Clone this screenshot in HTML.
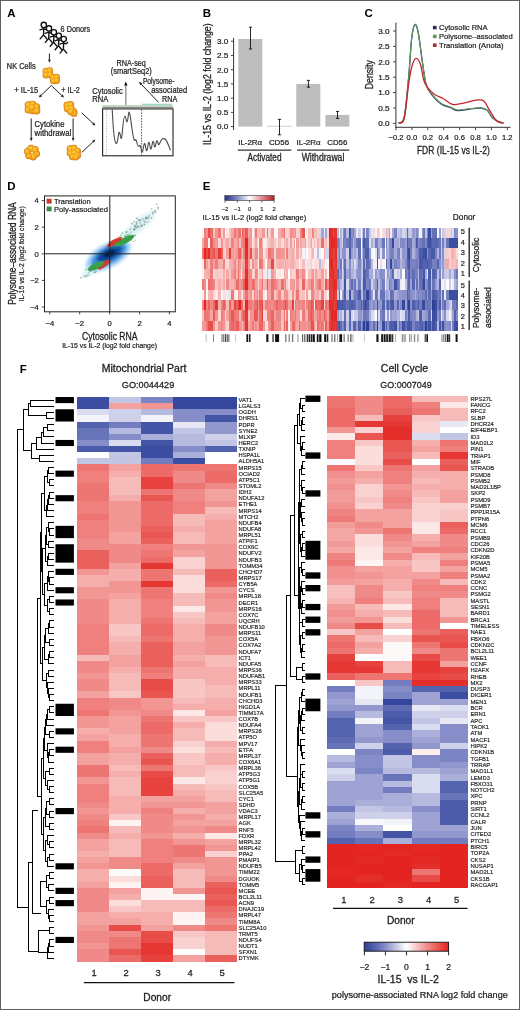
<!DOCTYPE html><html><head><meta charset="utf-8"><title>Figure</title><style>html,body{margin:0;padding:0;background:#fff;}svg{display:block;font-family:"Liberation Sans", sans-serif;will-change:transform;}</style></head><body>
<svg width="520" height="1010" viewBox="0 0 520 1010">
<defs><radialGradient id="cellg" cx="0.45" cy="0.4" r="0.6"><stop offset="0" stop-color="#ffd840"/><stop offset="0.5" stop-color="#f8ae22"/><stop offset="1" stop-color="#e58916"/></radialGradient><linearGradient id="cbar" x1="0" x2="1" y1="0" y2="0"><stop offset="0.000" stop-color="#2c4098"/><stop offset="0.050" stop-color="#3c4ea1"/><stop offset="0.100" stop-color="#4c5caa"/><stop offset="0.150" stop-color="#5e6bb3"/><stop offset="0.200" stop-color="#727cbe"/><stop offset="0.250" stop-color="#868dc8"/><stop offset="0.300" stop-color="#9ea3d3"/><stop offset="0.350" stop-color="#b6bade"/><stop offset="0.400" stop-color="#ced1e9"/><stop offset="0.450" stop-color="#e7e8f4"/><stop offset="0.500" stop-color="#ffffff"/><stop offset="0.550" stop-color="#fce8e7"/><stop offset="0.600" stop-color="#f9d1d0"/><stop offset="0.650" stop-color="#f6bab8"/><stop offset="0.700" stop-color="#f3a2a0"/><stop offset="0.750" stop-color="#f08a88"/><stop offset="0.800" stop-color="#ed7572"/><stop offset="0.850" stop-color="#ea605d"/><stop offset="0.900" stop-color="#e84c48"/><stop offset="0.950" stop-color="#e53834"/><stop offset="1.000" stop-color="#e32420"/></linearGradient><linearGradient id="cbarE" x1="0" x2="1" y1="0" y2="0"><stop offset="0" stop-color="#283088"/><stop offset="0.25" stop-color="#8088c4"/><stop offset="0.5" stop-color="#ffffff"/><stop offset="0.75" stop-color="#e48a8e"/><stop offset="1" stop-color="#b41e2c"/></linearGradient><filter id="blur1" x="-50%" y="-50%" width="200%" height="200%"><feGaussianBlur stdDeviation="1.7"/></filter><filter id="blur2" x="-50%" y="-50%" width="200%" height="200%"><feGaussianBlur stdDeviation="0.7"/></filter><filter id="blur3" x="-50%" y="-50%" width="200%" height="200%"><feGaussianBlur stdDeviation="0.35"/></filter></defs>
<rect x="0" y="0" width="520" height="1010" fill="#fff"/>
<text x="7.20" y="16.80" font-size="11.5" font-weight="bold" fill="#000">A</text>
<g stroke="#111" stroke-width="1.35" fill="none" stroke-linecap="round"><path d="M39.9,29.9 L42.8,28.9 L46.2,29.5 L47.7,28.3"/><path d="M43.8,27.3 L43.5,34.9 L40.1,38.9 M43.5,34.9 L46.8,38.8"/><circle cx="43.8" cy="24.9" r="2.65" fill="#fff"/><path d="M45.1,33.4 L48.0,32.4 L51.4,33.0 L52.9,31.8"/><path d="M49.0,30.8 L48.7,38.4 L45.3,42.4 M48.7,38.4 L52.0,42.3"/><circle cx="49.0" cy="28.4" r="2.65" fill="#fff"/><path d="M50.0,37.2 L52.9,36.2 L56.3,36.8 L57.8,35.6"/><path d="M53.9,34.6 L53.6,42.2 L50.2,46.2 M53.6,42.2 L56.9,46.1"/><circle cx="53.9" cy="32.2" r="2.65" fill="#fff"/><path d="M54.9,40.8 L57.8,39.8 L61.2,40.4 L62.7,39.2"/><path d="M58.8,38.2 L58.5,45.8 L55.1,49.8 M58.5,45.8 L61.8,49.7"/><circle cx="58.8" cy="35.8" r="2.65" fill="#fff"/><path d="M59.8,44.1 L62.7,43.1 L66.1,43.7 L67.6,42.5"/><path d="M63.7,41.5 L63.4,49.1 L60.0,53.1 M63.4,49.1 L66.7,53.0"/><circle cx="63.7" cy="39.1" r="2.65" fill="#fff"/></g>
<text x="60.60" y="31.60" font-size="8.2" stroke="#222" stroke-width="0.23" fill="#222" textLength="29.6" lengthAdjust="spacingAndGlyphs">6 Donors</text>
<line x1="49.40" y1="53.50" x2="49.40" y2="59.60" stroke="#222" stroke-width="1.0"/>
<path d="M49.40,62.80 L47.96,59.60 L50.84,59.60 Z" fill="#222"/>
<text x="6.80" y="69.40" font-size="8.2" stroke="#222" stroke-width="0.23" fill="#222" textLength="28.8" lengthAdjust="spacingAndGlyphs">NK Cells</text>
<g filter="url(#blur3)"><circle cx="46.0" cy="71.2" r="3.45" fill="#cf7a1a"/><circle cx="49.6" cy="70.8" r="3.45" fill="#cf7a1a"/><circle cx="46.0" cy="75.0" r="3.45" fill="#cf7a1a"/><circle cx="50.0" cy="74.8" r="3.45" fill="#cf7a1a"/><circle cx="53.0" cy="77.6" r="3.45" fill="#cf7a1a"/><circle cx="56.4" cy="77.2" r="3.45" fill="#cf7a1a"/><circle cx="53.4" cy="80.8" r="3.45" fill="#cf7a1a"/><circle cx="56.6" cy="80.6" r="3.45" fill="#cf7a1a"/><circle cx="46.0" cy="71.2" r="3.00" fill="url(#cellg)"/><circle cx="49.6" cy="70.8" r="3.00" fill="url(#cellg)"/><circle cx="46.0" cy="75.0" r="3.00" fill="url(#cellg)"/><circle cx="50.0" cy="74.8" r="3.00" fill="url(#cellg)"/><circle cx="53.0" cy="77.6" r="3.00" fill="url(#cellg)"/><circle cx="56.4" cy="77.2" r="3.00" fill="url(#cellg)"/><circle cx="53.4" cy="80.8" r="3.00" fill="url(#cellg)"/><circle cx="56.6" cy="80.6" r="3.00" fill="url(#cellg)"/></g>
<line x1="51.30" y1="85.50" x2="41.10" y2="95.37" stroke="#222" stroke-width="1.0"/>
<path d="M38.80,97.60 L40.10,94.34 L42.10,96.41 Z" fill="#222"/>
<line x1="51.30" y1="85.50" x2="61.68" y2="95.39" stroke="#222" stroke-width="1.0"/>
<path d="M64.00,97.60 L60.69,96.44 L62.68,94.35 Z" fill="#222"/>
<text x="14.30" y="92.80" font-size="8.2" stroke="#222" stroke-width="0.23" fill="#222" textLength="23.8" lengthAdjust="spacingAndGlyphs">+ IL-15</text>
<text x="61.20" y="92.80" font-size="8.2" stroke="#222" stroke-width="0.23" fill="#222" textLength="18.6" lengthAdjust="spacingAndGlyphs">+ IL-2</text>
<g filter="url(#blur3)"><circle cx="28.4" cy="105.0" r="3.75" fill="#cf7a1a"/><circle cx="32.6" cy="104.4" r="3.75" fill="#cf7a1a"/><circle cx="36.4" cy="107.0" r="3.75" fill="#cf7a1a"/><circle cx="28.4" cy="109.8" r="3.75" fill="#cf7a1a"/><circle cx="32.6" cy="110.4" r="3.75" fill="#cf7a1a"/><circle cx="36.6" cy="110.8" r="3.75" fill="#cf7a1a"/><circle cx="31.8" cy="107.4" r="3.75" fill="#cf7a1a"/><circle cx="28.4" cy="105.0" r="3.30" fill="url(#cellg)"/><circle cx="32.6" cy="104.4" r="3.30" fill="url(#cellg)"/><circle cx="36.4" cy="107.0" r="3.30" fill="url(#cellg)"/><circle cx="28.4" cy="109.8" r="3.30" fill="url(#cellg)"/><circle cx="32.6" cy="110.4" r="3.30" fill="url(#cellg)"/><circle cx="36.6" cy="110.8" r="3.30" fill="url(#cellg)"/><circle cx="31.8" cy="107.4" r="3.30" fill="url(#cellg)"/></g>
<g filter="url(#blur3)"><circle cx="67.2" cy="105.2" r="3.65" fill="#cf7a1a"/><circle cx="70.6" cy="104.6" r="3.65" fill="#cf7a1a"/><circle cx="67.4" cy="108.6" r="3.65" fill="#cf7a1a"/><circle cx="71.0" cy="108.4" r="3.65" fill="#cf7a1a"/><circle cx="73.6" cy="111.6" r="3.65" fill="#cf7a1a"/><circle cx="73.8" cy="113.2" r="3.65" fill="#cf7a1a"/><circle cx="70.8" cy="111.6" r="3.65" fill="#cf7a1a"/><circle cx="67.2" cy="105.2" r="3.20" fill="url(#cellg)"/><circle cx="70.6" cy="104.6" r="3.20" fill="url(#cellg)"/><circle cx="67.4" cy="108.6" r="3.20" fill="url(#cellg)"/><circle cx="71.0" cy="108.4" r="3.20" fill="url(#cellg)"/><circle cx="73.6" cy="111.6" r="3.20" fill="url(#cellg)"/><circle cx="73.8" cy="113.2" r="3.20" fill="url(#cellg)"/><circle cx="70.8" cy="111.6" r="3.20" fill="url(#cellg)"/></g>
<line x1="31.20" y1="118.50" x2="31.20" y2="138.00" stroke="#222" stroke-width="1.0"/>
<path d="M31.20,141.20 L29.76,138.00 L32.64,138.00 Z" fill="#222"/>
<line x1="73.10" y1="118.50" x2="73.10" y2="138.00" stroke="#222" stroke-width="1.0"/>
<path d="M73.10,141.20 L71.66,138.00 L74.54,138.00 Z" fill="#222"/>
<text x="34.60" y="127.00" font-size="8.2" stroke="#222" stroke-width="0.23" fill="#222" textLength="29.8" lengthAdjust="spacingAndGlyphs">Cytokine</text>
<text x="34.60" y="135.50" font-size="8.2" stroke="#222" stroke-width="0.23" fill="#222" textLength="36.6" lengthAdjust="spacingAndGlyphs">withdrawal</text>
<g filter="url(#blur3)"><circle cx="36.3" cy="153.7" r="3.65" fill="#cf7a1a"/><circle cx="33.1" cy="156.8" r="3.65" fill="#cf7a1a"/><circle cx="28.9" cy="155.6" r="3.65" fill="#cf7a1a"/><circle cx="27.7" cy="151.5" r="3.65" fill="#cf7a1a"/><circle cx="30.9" cy="148.4" r="3.65" fill="#cf7a1a"/><circle cx="35.1" cy="149.6" r="3.65" fill="#cf7a1a"/><circle cx="36.3" cy="153.7" r="3.20" fill="url(#cellg)"/><circle cx="33.1" cy="156.8" r="3.20" fill="url(#cellg)"/><circle cx="28.9" cy="155.6" r="3.20" fill="url(#cellg)"/><circle cx="27.7" cy="151.5" r="3.20" fill="url(#cellg)"/><circle cx="30.9" cy="148.4" r="3.20" fill="url(#cellg)"/><circle cx="35.1" cy="149.6" r="3.20" fill="url(#cellg)"/><circle cx="32.0" cy="152.6" r="1.0" fill="#fff2b0"/></g>
<g filter="url(#blur3)"><circle cx="70.2" cy="148.8" r="3.55" fill="#cf7a1a"/><circle cx="74.0" cy="148.4" r="3.55" fill="#cf7a1a"/><circle cx="77.4" cy="151.2" r="3.55" fill="#cf7a1a"/><circle cx="70.2" cy="153.0" r="3.55" fill="#cf7a1a"/><circle cx="74.2" cy="152.8" r="3.55" fill="#cf7a1a"/><circle cx="77.4" cy="155.4" r="3.55" fill="#cf7a1a"/><circle cx="72.6" cy="156.8" r="3.55" fill="#cf7a1a"/><circle cx="75.6" cy="157.0" r="3.55" fill="#cf7a1a"/><circle cx="70.2" cy="148.8" r="3.10" fill="url(#cellg)"/><circle cx="74.0" cy="148.4" r="3.10" fill="url(#cellg)"/><circle cx="77.4" cy="151.2" r="3.10" fill="url(#cellg)"/><circle cx="70.2" cy="153.0" r="3.10" fill="url(#cellg)"/><circle cx="74.2" cy="152.8" r="3.10" fill="url(#cellg)"/><circle cx="77.4" cy="155.4" r="3.10" fill="url(#cellg)"/><circle cx="72.6" cy="156.8" r="3.10" fill="url(#cellg)"/><circle cx="75.6" cy="157.0" r="3.10" fill="url(#cellg)"/></g>
<line x1="81.80" y1="112.90" x2="93.06" y2="123.42" stroke="#222" stroke-width="1.0"/>
<path d="M95.40,125.60 L92.08,124.47 L94.04,122.36 Z" fill="#222"/>
<line x1="81.80" y1="152.40" x2="93.07" y2="141.79" stroke="#222" stroke-width="1.0"/>
<path d="M95.40,139.60 L94.06,142.84 L92.08,140.74 Z" fill="#222"/>
<text x="131.20" y="65.60" font-size="8.2" stroke="#222" stroke-width="0.23" text-anchor="middle" fill="#222" textLength="29.4" lengthAdjust="spacingAndGlyphs">RNA-seq</text>
<text x="131.30" y="74.30" font-size="8.2" stroke="#222" stroke-width="0.23" text-anchor="middle" fill="#222" textLength="41.0" lengthAdjust="spacingAndGlyphs">(smartSeq2)</text>
<text x="92.30" y="93.50" font-size="8.2" stroke="#222" stroke-width="0.23" fill="#222" textLength="30.4" lengthAdjust="spacingAndGlyphs">Cytosolic</text>
<text x="92.30" y="101.70" font-size="8.2" stroke="#222" stroke-width="0.23" fill="#222" textLength="16.0" lengthAdjust="spacingAndGlyphs">RNA</text>
<text x="142.90" y="84.00" font-size="8.2" stroke="#222" stroke-width="0.23" fill="#222" textLength="31.7" lengthAdjust="spacingAndGlyphs">Polysome-</text>
<text x="151.20" y="93.00" font-size="8.2" stroke="#222" stroke-width="0.23" fill="#222" textLength="35.9" lengthAdjust="spacingAndGlyphs">associated</text>
<text x="162.10" y="101.70" font-size="8.2" stroke="#222" stroke-width="0.23" fill="#222" textLength="15.4" lengthAdjust="spacingAndGlyphs">RNA</text>
<line x1="125.80" y1="105.50" x2="125.80" y2="84.50" stroke="#9a9a9a" stroke-width="1.5"/>
<path d="M125.8,81.4 L127.5,85.6 L124.1,85.6 Z" fill="#111"/>
<line x1="158.60" y1="102.40" x2="141.34" y2="84.26" stroke="#222" stroke-width="1.0"/>
<path d="M139.00,81.80 L142.45,83.21 L140.24,85.32 Z" fill="#222"/>
<line x1="102.40" y1="105.80" x2="173.20" y2="105.80" stroke="#aecfa2" stroke-width="1.3"/>
<line x1="141.60" y1="104.40" x2="171.80" y2="104.40" stroke="#a0d8d8" stroke-width="1.4"/>
<rect x="102.6" y="108.9" width="70.4" height="46.9" fill="none" stroke="#222" stroke-width="1.1"/>
<line x1="102.40" y1="107.30" x2="173.20" y2="107.30" stroke="#8a8a8a" stroke-width="1.3"/>
<line x1="106.40" y1="110.00" x2="106.40" y2="155.00" stroke="#999" stroke-width="0.8" stroke-dasharray="1,1.6"/>
<line x1="141.60" y1="109.50" x2="141.60" y2="155.50" stroke="#333" stroke-width="0.8" stroke-dasharray="1.6,1.2"/>
<path d="M112.2,109.3 C112.8,120 113.6,141 115.9,143.2 C118,144.8 118.2,132 119.2,132.4 C120.4,132.6 120.6,139.2 121.4,138.4 C122.6,137 122.8,116.2 124.9,116.2 C126.2,116.2 126.2,122.2 127.0,121.8 C128.2,121.2 128.2,111.6 129.2,112.2 C130.6,113 131.8,133 134.0,139.5 C135.0,142.4 135.6,137.6 136.4,140.8 C137.4,144.6 138.0,146.6 138.8,146.4 C139.6,146.2 140.0,143.4 140.8,147.6 C141.4,151 141.8,152.6 142.4,151.8 C143.4,150.4 143.8,142.6 144.8,143.6 C145.8,144.8 145.8,151.4 146.8,150.6 C147.8,149.8 148.0,141.6 149.0,142.4 C150.0,143.2 150.0,149.6 151.0,149.0 C152.0,148.4 152.2,140.8 153.2,141.4 C154.2,142.0 154.0,147.4 155.0,146.8 C156.0,146.2 156.0,140.4 157.0,140.8 C158.0,141.2 158.0,145.4 159.0,144.6 C160.0,143.8 160.6,139.6 162.6,138.8 C164.4,138.2 165.2,138.6 166.4,140.6 C168.0,143.4 169.4,147.6 170.4,150.2" fill="none" stroke="#4a4a4a" stroke-width="1.1"/>
<text x="202.80" y="16.90" font-size="11.5" font-weight="bold" fill="#000">B</text>
<rect x="238.30" y="38.97" width="24.00" height="87.63" fill="#bdbdbd"/>
<line x1="267.00" y1="126.30" x2="291.50" y2="126.30" stroke="#c4c4c4" stroke-width="0.8"/>
<rect x="296.30" y="83.92" width="24.00" height="42.67" fill="#bdbdbd"/>
<rect x="325.40" y="114.94" width="24.00" height="11.66" fill="#bdbdbd"/>
<line x1="250.50" y1="27.20" x2="250.50" y2="49.00" stroke="#111" stroke-width="0.9"/>
<line x1="248.90" y1="27.20" x2="252.10" y2="27.20" stroke="#111" stroke-width="0.9"/>
<line x1="248.90" y1="49.00" x2="252.10" y2="49.00" stroke="#111" stroke-width="0.9"/>
<line x1="279.50" y1="119.40" x2="279.50" y2="134.80" stroke="#111" stroke-width="0.9"/>
<line x1="277.90" y1="119.40" x2="281.10" y2="119.40" stroke="#111" stroke-width="0.9"/>
<line x1="277.90" y1="134.80" x2="281.10" y2="134.80" stroke="#111" stroke-width="0.9"/>
<line x1="308.40" y1="80.40" x2="308.40" y2="87.20" stroke="#111" stroke-width="0.9"/>
<line x1="306.80" y1="80.40" x2="310.00" y2="80.40" stroke="#111" stroke-width="0.9"/>
<line x1="306.80" y1="87.20" x2="310.00" y2="87.20" stroke="#111" stroke-width="0.9"/>
<line x1="337.50" y1="111.40" x2="337.50" y2="118.40" stroke="#111" stroke-width="0.9"/>
<line x1="335.90" y1="111.40" x2="339.10" y2="111.40" stroke="#111" stroke-width="0.9"/>
<line x1="335.90" y1="118.40" x2="339.10" y2="118.40" stroke="#111" stroke-width="0.9"/>
<line x1="233.60" y1="37.80" x2="233.60" y2="130.00" stroke="#333" stroke-width="1.0"/>
<line x1="230.90" y1="126.60" x2="233.60" y2="126.60" stroke="#333" stroke-width="0.9"/>
<text x="228.30" y="129.40" font-size="7.8" stroke="#222" stroke-width="0.218" text-anchor="end" fill="#222" textLength="11.4" lengthAdjust="spacingAndGlyphs">0.0</text>
<line x1="230.90" y1="112.38" x2="233.60" y2="112.38" stroke="#333" stroke-width="0.9"/>
<text x="228.30" y="115.17" font-size="7.8" stroke="#222" stroke-width="0.218" text-anchor="end" fill="#222" textLength="11.4" lengthAdjust="spacingAndGlyphs">0.5</text>
<line x1="230.90" y1="98.15" x2="233.60" y2="98.15" stroke="#333" stroke-width="0.9"/>
<text x="228.30" y="100.95" font-size="7.8" stroke="#222" stroke-width="0.218" text-anchor="end" fill="#222" textLength="11.4" lengthAdjust="spacingAndGlyphs">1.0</text>
<line x1="230.90" y1="83.92" x2="233.60" y2="83.92" stroke="#333" stroke-width="0.9"/>
<text x="228.30" y="86.72" font-size="7.8" stroke="#222" stroke-width="0.218" text-anchor="end" fill="#222" textLength="11.4" lengthAdjust="spacingAndGlyphs">1.5</text>
<line x1="230.90" y1="69.70" x2="233.60" y2="69.70" stroke="#333" stroke-width="0.9"/>
<text x="228.30" y="72.50" font-size="7.8" stroke="#222" stroke-width="0.218" text-anchor="end" fill="#222" textLength="11.4" lengthAdjust="spacingAndGlyphs">2.0</text>
<line x1="230.90" y1="55.47" x2="233.60" y2="55.47" stroke="#333" stroke-width="0.9"/>
<text x="228.30" y="58.27" font-size="7.8" stroke="#222" stroke-width="0.218" text-anchor="end" fill="#222" textLength="11.4" lengthAdjust="spacingAndGlyphs">2.5</text>
<line x1="230.90" y1="41.25" x2="233.60" y2="41.25" stroke="#333" stroke-width="0.9"/>
<text x="228.30" y="44.05" font-size="7.8" stroke="#222" stroke-width="0.218" text-anchor="end" fill="#222" textLength="11.4" lengthAdjust="spacingAndGlyphs">3.0</text>
<text x="210.60" y="84.20" font-size="10.0" stroke="#222" stroke-width="0.28" text-anchor="middle" fill="#222" textLength="121.7" lengthAdjust="spacingAndGlyphs" transform="rotate(-90 210.60 84.20)">IL-15 vs IL-2 (log2 fold change)</text>
<text x="250.20" y="145.00" font-size="7.7" stroke="#222" stroke-width="0.216" text-anchor="middle" fill="#222" textLength="24.0" lengthAdjust="spacingAndGlyphs">IL-2Rα</text>
<text x="279.00" y="145.30" font-size="7.7" stroke="#222" stroke-width="0.216" text-anchor="middle" fill="#222" textLength="20.2" lengthAdjust="spacingAndGlyphs">CD56</text>
<text x="308.60" y="145.00" font-size="7.7" stroke="#222" stroke-width="0.216" text-anchor="middle" fill="#222" textLength="24.0" lengthAdjust="spacingAndGlyphs">IL-2Rα</text>
<text x="337.30" y="145.30" font-size="7.7" stroke="#222" stroke-width="0.216" text-anchor="middle" fill="#222" textLength="20.2" lengthAdjust="spacingAndGlyphs">CD56</text>
<line x1="237.80" y1="150.10" x2="291.40" y2="150.10" stroke="#333" stroke-width="1.1"/>
<line x1="297.00" y1="150.10" x2="349.40" y2="150.10" stroke="#333" stroke-width="1.1"/>
<text x="264.50" y="161.40" font-size="10" stroke="#222" stroke-width="0.28" text-anchor="middle" fill="#222" textLength="34" lengthAdjust="spacingAndGlyphs">Activated</text>
<text x="323.00" y="161.40" font-size="10" stroke="#222" stroke-width="0.28" text-anchor="middle" fill="#222" textLength="42.7" lengthAdjust="spacingAndGlyphs">Withdrawal</text>
<text x="364.60" y="16.80" font-size="11.5" font-weight="bold" fill="#000">C</text>
<line x1="395.90" y1="22.60" x2="395.90" y2="127.80" stroke="#333" stroke-width="1.0"/>
<line x1="395.40" y1="127.30" x2="510.60" y2="127.30" stroke="#333" stroke-width="1.0"/>
<line x1="393.00" y1="123.40" x2="395.90" y2="123.40" stroke="#333" stroke-width="0.9"/>
<text x="389.60" y="126.20" font-size="7.8" stroke="#222" stroke-width="0.218" text-anchor="end" fill="#222" textLength="11.4" lengthAdjust="spacingAndGlyphs">0.0</text>
<line x1="393.00" y1="108.00" x2="395.90" y2="108.00" stroke="#333" stroke-width="0.9"/>
<text x="389.60" y="110.80" font-size="7.8" stroke="#222" stroke-width="0.218" text-anchor="end" fill="#222" textLength="11.4" lengthAdjust="spacingAndGlyphs">0.5</text>
<line x1="393.00" y1="92.60" x2="395.90" y2="92.60" stroke="#333" stroke-width="0.9"/>
<text x="389.60" y="95.40" font-size="7.8" stroke="#222" stroke-width="0.218" text-anchor="end" fill="#222" textLength="11.4" lengthAdjust="spacingAndGlyphs">1.0</text>
<line x1="393.00" y1="77.20" x2="395.90" y2="77.20" stroke="#333" stroke-width="0.9"/>
<text x="389.60" y="80.00" font-size="7.8" stroke="#222" stroke-width="0.218" text-anchor="end" fill="#222" textLength="11.4" lengthAdjust="spacingAndGlyphs">1.5</text>
<line x1="393.00" y1="61.80" x2="395.90" y2="61.80" stroke="#333" stroke-width="0.9"/>
<text x="389.60" y="64.60" font-size="7.8" stroke="#222" stroke-width="0.218" text-anchor="end" fill="#222" textLength="11.4" lengthAdjust="spacingAndGlyphs">2.0</text>
<line x1="393.00" y1="46.40" x2="395.90" y2="46.40" stroke="#333" stroke-width="0.9"/>
<text x="389.60" y="49.20" font-size="7.8" stroke="#222" stroke-width="0.218" text-anchor="end" fill="#222" textLength="11.4" lengthAdjust="spacingAndGlyphs">2.5</text>
<line x1="393.00" y1="31.00" x2="395.90" y2="31.00" stroke="#333" stroke-width="0.9"/>
<text x="389.60" y="33.80" font-size="7.8" stroke="#222" stroke-width="0.218" text-anchor="end" fill="#222" textLength="11.4" lengthAdjust="spacingAndGlyphs">3.0</text>
<line x1="396.00" y1="127.30" x2="396.00" y2="130.20" stroke="#333" stroke-width="0.9"/>
<text x="396.00" y="140.00" font-size="7.6" stroke="#222" stroke-width="0.213" text-anchor="middle" fill="#222">−0.2</text>
<line x1="411.90" y1="127.30" x2="411.90" y2="130.20" stroke="#333" stroke-width="0.9"/>
<text x="411.90" y="140.00" font-size="7.6" stroke="#222" stroke-width="0.213" text-anchor="middle" fill="#222">0.0</text>
<line x1="427.80" y1="127.30" x2="427.80" y2="130.20" stroke="#333" stroke-width="0.9"/>
<text x="427.80" y="140.00" font-size="7.6" stroke="#222" stroke-width="0.213" text-anchor="middle" fill="#222">0.2</text>
<line x1="443.70" y1="127.30" x2="443.70" y2="130.20" stroke="#333" stroke-width="0.9"/>
<text x="443.70" y="140.00" font-size="7.6" stroke="#222" stroke-width="0.213" text-anchor="middle" fill="#222">0.4</text>
<line x1="459.60" y1="127.30" x2="459.60" y2="130.20" stroke="#333" stroke-width="0.9"/>
<text x="459.60" y="140.00" font-size="7.6" stroke="#222" stroke-width="0.213" text-anchor="middle" fill="#222">0.6</text>
<line x1="475.50" y1="127.30" x2="475.50" y2="130.20" stroke="#333" stroke-width="0.9"/>
<text x="475.50" y="140.00" font-size="7.6" stroke="#222" stroke-width="0.213" text-anchor="middle" fill="#222">0.8</text>
<line x1="491.40" y1="127.30" x2="491.40" y2="130.20" stroke="#333" stroke-width="0.9"/>
<text x="491.40" y="140.00" font-size="7.6" stroke="#222" stroke-width="0.213" text-anchor="middle" fill="#222">1.0</text>
<line x1="507.30" y1="127.30" x2="507.30" y2="130.20" stroke="#333" stroke-width="0.9"/>
<text x="507.30" y="140.00" font-size="7.6" stroke="#222" stroke-width="0.213" text-anchor="middle" fill="#222">1.2</text>
<text x="373.50" y="74.70" font-size="10.4" stroke="#222" stroke-width="0.291" text-anchor="middle" fill="#222" textLength="28.9" lengthAdjust="spacingAndGlyphs" transform="rotate(-90 373.50 74.70)">Density</text>
<text x="453.40" y="154.00" font-size="10.2" stroke="#222" stroke-width="0.286" text-anchor="middle" fill="#222" textLength="73" lengthAdjust="spacingAndGlyphs">FDR (IL-15 vs IL-2)</text>
<path d="M398.50,123.00 C399.45,122.03 402.48,125.08 404.20,117.20 C405.92,109.32 407.58,88.57 408.80,75.70 C410.02,62.83 410.53,48.47 411.50,40.00 C412.47,31.53 413.50,26.27 414.60,24.90 C415.70,23.53 416.75,25.25 418.10,31.80 C419.45,38.35 421.35,55.35 422.70,64.20 C424.05,73.05 424.67,79.80 426.20,84.90 C427.73,90.00 429.40,91.62 431.90,94.80 C434.40,97.98 438.12,101.88 441.20,104.00 C444.28,106.12 447.72,106.42 450.40,107.50 C453.08,108.58 454.23,110.20 457.30,110.50 C460.37,110.80 464.95,109.72 468.80,109.30 C472.65,108.88 477.32,107.83 480.40,108.00 C483.48,108.17 485.38,108.77 487.30,110.30 C489.22,111.83 489.98,115.28 491.90,117.20 C493.82,119.12 496.87,120.83 498.80,121.80 C500.73,122.77 502.72,122.80 503.50,123.00" fill="none" stroke="#2b2c6b" stroke-width="1.3"/>
<path d="M398.50,123.00 C399.45,122.03 402.48,125.08 404.20,117.20 C405.92,109.32 407.58,88.57 408.80,75.70 C410.02,62.83 410.53,48.47 411.50,40.00 C412.47,31.53 413.50,26.27 414.60,24.90 C415.70,23.53 416.75,25.25 418.10,31.80 C419.45,38.35 421.35,55.35 422.70,64.20 C424.05,73.05 424.67,79.90 426.20,84.90 C427.73,89.90 429.40,91.12 431.90,94.20 C434.40,97.28 438.12,101.28 441.20,103.40 C444.28,105.52 447.72,105.82 450.40,106.90 C453.08,107.98 454.23,109.60 457.30,109.90 C460.37,110.20 464.95,109.02 468.80,108.70 C472.65,108.38 477.32,107.73 480.40,108.00 C483.48,108.27 485.38,108.77 487.30,110.30 C489.22,111.83 489.98,115.28 491.90,117.20 C493.82,119.12 496.87,120.83 498.80,121.80 C500.73,122.77 502.72,122.80 503.50,123.00" fill="none" stroke="#5d9e5b" stroke-width="1.1"/>
<path d="M398.50,123.00 C399.45,122.25 402.48,125.23 404.20,118.50 C405.92,111.77 407.50,91.35 408.80,82.60 C410.10,73.85 410.83,70.03 412.00,66.00 C413.17,61.97 414.40,58.70 415.80,58.40 C417.20,58.10 419.07,60.55 420.40,64.20 C421.73,67.85 422.65,76.47 423.80,80.30 C424.95,84.13 425.57,84.88 427.30,87.20 C429.03,89.52 431.50,92.27 434.20,94.20 C436.90,96.13 440.42,97.08 443.50,98.80 C446.58,100.52 449.63,103.73 452.70,104.50 C455.77,105.27 459.22,103.85 461.90,103.40 C464.58,102.95 466.10,102.38 468.80,101.80 C471.50,101.22 475.60,100.02 478.10,99.90 C480.60,99.78 481.88,99.37 483.80,101.10 C485.72,102.83 487.48,107.03 489.60,110.30 C491.72,113.57 494.18,118.58 496.50,120.70 C498.82,122.82 502.33,122.62 503.50,123.00" fill="none" stroke="#c3262f" stroke-width="1.3"/>
<rect x="432.90" y="25.85" width="3.70" height="3.50" fill="#2f2a5e"/>
<text x="439.00" y="30.30" font-size="7.6" stroke="#222" stroke-width="0.213" fill="#222" textLength="48.6" lengthAdjust="spacingAndGlyphs">Cytosolic RNA</text>
<rect x="432.90" y="34.65" width="3.70" height="3.50" fill="#5c9a55"/>
<text x="439.00" y="39.10" font-size="7.6" stroke="#222" stroke-width="0.213" fill="#222" textLength="73.7" lengthAdjust="spacingAndGlyphs">Polysome–associated</text>
<rect x="432.90" y="43.45" width="3.70" height="3.50" fill="#a82a2c"/>
<text x="439.00" y="47.90" font-size="7.6" stroke="#222" stroke-width="0.213" fill="#222" textLength="64.6" lengthAdjust="spacingAndGlyphs">Translation (Anota)</text>
<text x="7.20" y="190.20" font-size="11.5" font-weight="bold" fill="#000">D</text>
<g filter="url(#blur1)" opacity="0.8">
<ellipse cx="138" cy="226" rx="22" ry="6" fill="#d4eff3" transform="rotate(-40 138 226)"/>
<ellipse cx="91" cy="270" rx="10" ry="5" fill="#d4eff3" transform="rotate(-35 91 270)"/>
</g>
<rect x="133.16" y="221.10" width="1.50" height="1.50" fill="#90a8ac" opacity="0.7"/>
<rect x="139.41" y="222.18" width="1.50" height="1.50" fill="#90a8ac" opacity="0.7"/>
<rect x="145.48" y="216.52" width="1.50" height="1.50" fill="#6f8a88" opacity="0.7"/>
<rect x="121.54" y="232.51" width="1.50" height="1.50" fill="#5aa872" opacity="0.7"/>
<rect x="155.95" y="203.54" width="1.50" height="1.50" fill="#869aa0" opacity="0.7"/>
<rect x="145.37" y="217.10" width="1.50" height="1.50" fill="#7d9096" opacity="0.7"/>
<rect x="128.51" y="233.70" width="1.50" height="1.50" fill="#5aa872" opacity="0.7"/>
<rect x="144.32" y="221.30" width="1.50" height="1.50" fill="#6f8a88" opacity="0.7"/>
<rect x="138.80" y="219.19" width="1.50" height="1.50" fill="#6f8a88" opacity="0.7"/>
<rect x="131.21" y="222.93" width="1.50" height="1.50" fill="#7d9096" opacity="0.7"/>
<rect x="147.43" y="217.13" width="1.50" height="1.50" fill="#6f8a88" opacity="0.7"/>
<rect x="121.28" y="237.51" width="1.50" height="1.50" fill="#6f8a88" opacity="0.7"/>
<rect x="140.62" y="224.38" width="1.50" height="1.50" fill="#7d9096" opacity="0.7"/>
<rect x="130.10" y="231.46" width="1.50" height="1.50" fill="#90a8ac" opacity="0.7"/>
<rect x="135.68" y="224.07" width="1.50" height="1.50" fill="#6f8a88" opacity="0.7"/>
<rect x="133.89" y="228.36" width="1.50" height="1.50" fill="#4f9e64" opacity="0.7"/>
<rect x="126.27" y="234.13" width="1.50" height="1.50" fill="#5aa872" opacity="0.7"/>
<rect x="125.47" y="231.73" width="1.50" height="1.50" fill="#869aa0" opacity="0.7"/>
<rect x="135.31" y="227.25" width="1.50" height="1.50" fill="#869aa0" opacity="0.7"/>
<rect x="125.73" y="231.06" width="1.50" height="1.50" fill="#4f9e64" opacity="0.7"/>
<rect x="125.39" y="236.54" width="1.50" height="1.50" fill="#4f9e64" opacity="0.7"/>
<rect x="124.49" y="241.20" width="1.50" height="1.50" fill="#6f8a88" opacity="0.7"/>
<rect x="152.06" y="211.73" width="1.50" height="1.50" fill="#869aa0" opacity="0.7"/>
<rect x="143.54" y="223.67" width="1.50" height="1.50" fill="#6f8a88" opacity="0.7"/>
<rect x="147.21" y="221.02" width="1.50" height="1.50" fill="#869aa0" opacity="0.7"/>
<rect x="154.77" y="211.21" width="1.50" height="1.50" fill="#869aa0" opacity="0.7"/>
<rect x="152.33" y="213.24" width="1.50" height="1.50" fill="#869aa0" opacity="0.7"/>
<rect x="145.16" y="218.09" width="1.50" height="1.50" fill="#7d9096" opacity="0.7"/>
<rect x="137.82" y="225.49" width="1.50" height="1.50" fill="#6f8a88" opacity="0.7"/>
<rect x="129.77" y="228.45" width="1.50" height="1.50" fill="#5aa872" opacity="0.7"/>
<rect x="134.20" y="234.34" width="1.50" height="1.50" fill="#869aa0" opacity="0.7"/>
<rect x="137.49" y="219.22" width="1.50" height="1.50" fill="#7d9096" opacity="0.7"/>
<rect x="133.36" y="228.52" width="1.50" height="1.50" fill="#6f8a88" opacity="0.7"/>
<rect x="136.89" y="226.31" width="1.50" height="1.50" fill="#6f8a88" opacity="0.7"/>
<rect x="134.07" y="225.91" width="1.50" height="1.50" fill="#6f8a88" opacity="0.7"/>
<rect x="124.38" y="235.59" width="1.50" height="1.50" fill="#4f9e64" opacity="0.7"/>
<rect x="146.18" y="217.56" width="1.50" height="1.50" fill="#6f8a88" opacity="0.7"/>
<rect x="148.39" y="215.28" width="1.50" height="1.50" fill="#7d9096" opacity="0.7"/>
<rect x="139.31" y="220.00" width="1.50" height="1.50" fill="#7d9096" opacity="0.7"/>
<rect x="120.19" y="234.88" width="1.50" height="1.50" fill="#4f9e64" opacity="0.7"/>
<rect x="153.40" y="210.95" width="1.50" height="1.50" fill="#90a8ac" opacity="0.7"/>
<rect x="157.27" y="206.63" width="1.50" height="1.50" fill="#7d9096" opacity="0.7"/>
<rect x="150.92" y="208.22" width="1.50" height="1.50" fill="#90a8ac" opacity="0.7"/>
<rect x="136.62" y="226.46" width="1.50" height="1.50" fill="#7d9096" opacity="0.7"/>
<rect x="150.69" y="217.25" width="1.50" height="1.50" fill="#6f8a88" opacity="0.7"/>
<rect x="135.70" y="221.56" width="1.50" height="1.50" fill="#90a8ac" opacity="0.7"/>
<rect x="135.91" y="222.50" width="1.50" height="1.50" fill="#7d9096" opacity="0.7"/>
<rect x="133.49" y="229.10" width="1.50" height="1.50" fill="#4f9e64" opacity="0.7"/>
<rect x="135.91" y="217.52" width="1.50" height="1.50" fill="#6f8a88" opacity="0.7"/>
<rect x="154.38" y="209.86" width="1.50" height="1.50" fill="#869aa0" opacity="0.7"/>
<rect x="141.00" y="218.67" width="1.50" height="1.50" fill="#90a8ac" opacity="0.7"/>
<rect x="140.32" y="225.62" width="1.50" height="1.50" fill="#6f8a88" opacity="0.7"/>
<rect x="124.69" y="235.32" width="1.50" height="1.50" fill="#4f9e64" opacity="0.7"/>
<rect x="133.97" y="224.69" width="1.50" height="1.50" fill="#869aa0" opacity="0.7"/>
<rect x="123.22" y="241.19" width="1.50" height="1.50" fill="#7d9096" opacity="0.7"/>
<rect x="157.09" y="208.50" width="1.50" height="1.50" fill="#90a8ac" opacity="0.7"/>
<rect x="143.37" y="220.43" width="1.50" height="1.50" fill="#90a8ac" opacity="0.7"/>
<rect x="142.85" y="218.08" width="1.50" height="1.50" fill="#90a8ac" opacity="0.7"/>
<rect x="134.38" y="225.86" width="1.50" height="1.50" fill="#5aa872" opacity="0.7"/>
<rect x="141.33" y="225.04" width="1.50" height="1.50" fill="#7d9096" opacity="0.7"/>
<rect x="87.83" y="274.21" width="1.50" height="1.50" fill="#90a8ac" opacity="0.7"/>
<rect x="94.98" y="269.46" width="1.50" height="1.50" fill="#7d9096" opacity="0.7"/>
<rect x="90.05" y="268.50" width="1.50" height="1.50" fill="#90a8ac" opacity="0.7"/>
<rect x="83.47" y="275.27" width="1.50" height="1.50" fill="#5aa872" opacity="0.7"/>
<rect x="93.85" y="264.98" width="1.50" height="1.50" fill="#7d9096" opacity="0.7"/>
<rect x="95.37" y="270.50" width="1.50" height="1.50" fill="#869aa0" opacity="0.7"/>
<rect x="93.20" y="265.33" width="1.50" height="1.50" fill="#7d9096" opacity="0.7"/>
<rect x="93.25" y="269.22" width="1.50" height="1.50" fill="#5aa872" opacity="0.7"/>
<rect x="89.13" y="267.35" width="1.50" height="1.50" fill="#5aa872" opacity="0.7"/>
<rect x="88.98" y="269.88" width="1.50" height="1.50" fill="#90a8ac" opacity="0.7"/>
<rect x="90.70" y="269.97" width="1.50" height="1.50" fill="#7d9096" opacity="0.7"/>
<rect x="98.46" y="264.47" width="1.50" height="1.50" fill="#90a8ac" opacity="0.7"/>
<rect x="90.53" y="270.03" width="1.50" height="1.50" fill="#7d9096" opacity="0.7"/>
<rect x="94.43" y="271.42" width="1.50" height="1.50" fill="#5aa872" opacity="0.7"/>
<rect x="86.37" y="274.75" width="1.50" height="1.50" fill="#7d9096" opacity="0.7"/>
<rect x="93.62" y="271.64" width="1.50" height="1.50" fill="#869aa0" opacity="0.7"/>
<rect x="94.41" y="271.42" width="1.50" height="1.50" fill="#5aa872" opacity="0.7"/>
<rect x="80.41" y="276.94" width="1.50" height="1.50" fill="#7d9096" opacity="0.7"/>
<rect x="85.10" y="275.77" width="1.50" height="1.50" fill="#869aa0" opacity="0.7"/>
<rect x="91.47" y="269.34" width="1.50" height="1.50" fill="#90a8ac" opacity="0.7"/>
<g filter="url(#blur1)">
<ellipse cx="108.4" cy="255.6" rx="25" ry="12" fill="#a9d6f5" transform="rotate(-29 108.4 255.6)"/>
<ellipse cx="108.8" cy="255.0" rx="20" ry="9" fill="#3a8edb" transform="rotate(-29 108.8 255)"/>
<ellipse cx="109.4" cy="254.0" rx="14" ry="5.8" fill="#0e449c" transform="rotate(-27 109.4 254)"/>
<ellipse cx="109.4" cy="253.6" rx="6.5" ry="3.2" fill="#021b4a" transform="rotate(-25 109.4 253.6)"/>
</g>
<g filter="url(#blur2)">
<ellipse cx="114.5" cy="242.0" rx="8.5" ry="2.5" fill="#d63a2b" transform="rotate(-31 114.5 242)"/>
<ellipse cx="124.5" cy="240.8" rx="11" ry="3.0" fill="#38a04b" transform="rotate(-28 124.5 240.8)"/>
<ellipse cx="104.0" cy="264.6" rx="7.5" ry="2.4" fill="#d33c2d" transform="rotate(-37 104 264.6)"/>
<ellipse cx="96.0" cy="266.0" rx="9.0" ry="3.0" fill="#38a04b" transform="rotate(-27 96 266)"/>
</g>
<rect x="106.26" y="261.88" width="1.10" height="1.10" fill="#d03a2c" opacity="0.6"/>
<rect x="110.40" y="242.94" width="1.10" height="1.10" fill="#d8372a" opacity="0.6"/>
<rect x="113.97" y="241.55" width="1.10" height="1.10" fill="#d8372a" opacity="0.6"/>
<rect x="103.69" y="266.16" width="1.10" height="1.10" fill="#d03a2c" opacity="0.6"/>
<rect x="104.23" y="264.47" width="1.10" height="1.10" fill="#d03a2c" opacity="0.6"/>
<rect x="97.71" y="267.81" width="1.10" height="1.10" fill="#d03a2c" opacity="0.6"/>
<rect x="118.48" y="240.14" width="1.10" height="1.10" fill="#d8372a" opacity="0.6"/>
<rect x="103.18" y="264.67" width="1.10" height="1.10" fill="#d03a2c" opacity="0.6"/>
<rect x="114.15" y="241.37" width="1.10" height="1.10" fill="#d8372a" opacity="0.6"/>
<rect x="100.79" y="266.32" width="1.10" height="1.10" fill="#d03a2c" opacity="0.6"/>
<rect x="108.51" y="246.43" width="1.10" height="1.10" fill="#d8372a" opacity="0.6"/>
<rect x="109.06" y="243.75" width="1.10" height="1.10" fill="#d8372a" opacity="0.6"/>
<rect x="107.42" y="259.81" width="1.10" height="1.10" fill="#d03a2c" opacity="0.6"/>
<rect x="118.63" y="236.38" width="1.10" height="1.10" fill="#d8372a" opacity="0.6"/>
<rect x="105.49" y="262.40" width="1.10" height="1.10" fill="#d03a2c" opacity="0.6"/>
<rect x="108.70" y="243.56" width="1.10" height="1.10" fill="#d8372a" opacity="0.6"/>
<rect x="98.57" y="266.56" width="1.10" height="1.10" fill="#d03a2c" opacity="0.6"/>
<rect x="100.03" y="266.50" width="1.10" height="1.10" fill="#d03a2c" opacity="0.6"/>
<rect x="119.50" y="240.38" width="1.10" height="1.10" fill="#d8372a" opacity="0.6"/>
<rect x="107.79" y="245.59" width="1.10" height="1.10" fill="#d8372a" opacity="0.6"/>
<rect x="108.59" y="260.15" width="1.10" height="1.10" fill="#d03a2c" opacity="0.6"/>
<rect x="105.84" y="264.31" width="1.10" height="1.10" fill="#d03a2c" opacity="0.6"/>
<rect x="100.94" y="267.02" width="1.10" height="1.10" fill="#d03a2c" opacity="0.6"/>
<rect x="117.48" y="240.22" width="1.10" height="1.10" fill="#d8372a" opacity="0.6"/>
<rect x="119.83" y="239.03" width="1.10" height="1.10" fill="#d8372a" opacity="0.6"/>
<rect x="104.30" y="263.63" width="1.10" height="1.10" fill="#d03a2c" opacity="0.6"/>
<rect x="108.53" y="245.74" width="1.10" height="1.10" fill="#d8372a" opacity="0.6"/>
<rect x="106.33" y="264.42" width="1.10" height="1.10" fill="#d03a2c" opacity="0.6"/>
<rect x="106.96" y="246.05" width="1.10" height="1.10" fill="#d8372a" opacity="0.6"/>
<rect x="110.98" y="243.98" width="1.10" height="1.10" fill="#d8372a" opacity="0.6"/>
<rect x="106.43" y="246.20" width="1.10" height="1.10" fill="#d8372a" opacity="0.6"/>
<rect x="101.61" y="265.16" width="1.10" height="1.10" fill="#d03a2c" opacity="0.6"/>
<rect x="119.66" y="239.99" width="1.10" height="1.10" fill="#d8372a" opacity="0.6"/>
<rect x="108.92" y="260.87" width="1.10" height="1.10" fill="#d03a2c" opacity="0.6"/>
<rect x="99.01" y="268.63" width="1.10" height="1.10" fill="#d03a2c" opacity="0.6"/>
<rect x="110.62" y="242.73" width="1.10" height="1.10" fill="#d8372a" opacity="0.6"/>
<rect x="119.98" y="238.85" width="1.10" height="1.10" fill="#d8372a" opacity="0.6"/>
<rect x="112.23" y="243.36" width="1.10" height="1.10" fill="#d8372a" opacity="0.6"/>
<rect x="99.55" y="267.50" width="1.10" height="1.10" fill="#d03a2c" opacity="0.6"/>
<rect x="108.32" y="261.13" width="1.10" height="1.10" fill="#d03a2c" opacity="0.6"/>
<rect x="90.92" y="269.33" width="1.10" height="1.10" fill="#3aa04c" opacity="0.6"/>
<rect x="122.83" y="242.19" width="1.10" height="1.10" fill="#3aa04c" opacity="0.6"/>
<rect x="124.49" y="241.46" width="1.10" height="1.10" fill="#3aa04c" opacity="0.6"/>
<rect x="125.98" y="240.24" width="1.10" height="1.10" fill="#3aa04c" opacity="0.6"/>
<rect x="122.85" y="238.20" width="1.10" height="1.10" fill="#3aa04c" opacity="0.6"/>
<rect x="113.56" y="246.96" width="1.10" height="1.10" fill="#3aa04c" opacity="0.6"/>
<rect x="123.26" y="239.32" width="1.10" height="1.10" fill="#3aa04c" opacity="0.6"/>
<rect x="114.92" y="242.61" width="1.10" height="1.10" fill="#3aa04c" opacity="0.6"/>
<rect x="96.38" y="267.55" width="1.10" height="1.10" fill="#3aa04c" opacity="0.6"/>
<rect x="93.63" y="265.40" width="1.10" height="1.10" fill="#3aa04c" opacity="0.6"/>
<rect x="125.32" y="239.24" width="1.10" height="1.10" fill="#3aa04c" opacity="0.6"/>
<rect x="120.92" y="240.87" width="1.10" height="1.10" fill="#3aa04c" opacity="0.6"/>
<rect x="90.35" y="265.60" width="1.10" height="1.10" fill="#3aa04c" opacity="0.6"/>
<rect x="85.93" y="268.91" width="1.10" height="1.10" fill="#3aa04c" opacity="0.6"/>
<rect x="94.06" y="267.49" width="1.10" height="1.10" fill="#3aa04c" opacity="0.6"/>
<rect x="93.09" y="265.51" width="1.10" height="1.10" fill="#3aa04c" opacity="0.6"/>
<rect x="130.08" y="235.73" width="1.10" height="1.10" fill="#3aa04c" opacity="0.6"/>
<rect x="130.50" y="239.42" width="1.10" height="1.10" fill="#3aa04c" opacity="0.6"/>
<rect x="133.13" y="235.56" width="1.10" height="1.10" fill="#3aa04c" opacity="0.6"/>
<rect x="127.94" y="238.48" width="1.10" height="1.10" fill="#3aa04c" opacity="0.6"/>
<rect x="131.96" y="237.82" width="1.10" height="1.10" fill="#3aa04c" opacity="0.6"/>
<rect x="115.47" y="242.46" width="1.10" height="1.10" fill="#3aa04c" opacity="0.6"/>
<rect x="127.72" y="234.98" width="1.10" height="1.10" fill="#3aa04c" opacity="0.6"/>
<rect x="116.96" y="245.50" width="1.10" height="1.10" fill="#3aa04c" opacity="0.6"/>
<rect x="122.46" y="240.01" width="1.10" height="1.10" fill="#3aa04c" opacity="0.6"/>
<rect x="90.93" y="265.36" width="1.10" height="1.10" fill="#3aa04c" opacity="0.6"/>
<rect x="117.57" y="247.88" width="1.10" height="1.10" fill="#3aa04c" opacity="0.6"/>
<rect x="95.39" y="268.76" width="1.10" height="1.10" fill="#3aa04c" opacity="0.6"/>
<rect x="126.64" y="239.27" width="1.10" height="1.10" fill="#3aa04c" opacity="0.6"/>
<rect x="114.01" y="248.03" width="1.10" height="1.10" fill="#3aa04c" opacity="0.6"/>
<rect x="132.84" y="240.93" width="1.10" height="1.10" fill="#3aa04c" opacity="0.6"/>
<rect x="123.12" y="242.16" width="1.10" height="1.10" fill="#3aa04c" opacity="0.6"/>
<rect x="89.00" y="267.46" width="1.10" height="1.10" fill="#3aa04c" opacity="0.6"/>
<rect x="100.53" y="261.53" width="1.10" height="1.10" fill="#3aa04c" opacity="0.6"/>
<rect x="129.41" y="238.45" width="1.10" height="1.10" fill="#3aa04c" opacity="0.6"/>
<rect x="100.32" y="266.28" width="1.10" height="1.10" fill="#3aa04c" opacity="0.6"/>
<rect x="130.20" y="234.82" width="1.10" height="1.10" fill="#3aa04c" opacity="0.6"/>
<rect x="122.33" y="240.08" width="1.10" height="1.10" fill="#3aa04c" opacity="0.6"/>
<rect x="94.65" y="266.38" width="1.10" height="1.10" fill="#3aa04c" opacity="0.6"/>
<rect x="114.57" y="244.05" width="1.10" height="1.10" fill="#3aa04c" opacity="0.6"/>
<rect x="128.11" y="236.55" width="1.10" height="1.10" fill="#3aa04c" opacity="0.6"/>
<rect x="131.57" y="234.85" width="1.10" height="1.10" fill="#3aa04c" opacity="0.6"/>
<rect x="131.48" y="236.81" width="1.10" height="1.10" fill="#3aa04c" opacity="0.6"/>
<rect x="101.61" y="264.96" width="1.10" height="1.10" fill="#3aa04c" opacity="0.6"/>
<rect x="134.67" y="239.67" width="1.10" height="1.10" fill="#3aa04c" opacity="0.6"/>
<rect x="130.07" y="239.49" width="1.10" height="1.10" fill="#3aa04c" opacity="0.6"/>
<rect x="85.63" y="268.61" width="1.10" height="1.10" fill="#3aa04c" opacity="0.6"/>
<rect x="128.61" y="238.36" width="1.10" height="1.10" fill="#3aa04c" opacity="0.6"/>
<rect x="126.61" y="240.30" width="1.10" height="1.10" fill="#3aa04c" opacity="0.6"/>
<rect x="101.03" y="263.80" width="1.10" height="1.10" fill="#3aa04c" opacity="0.6"/>
<rect x="118.30" y="244.27" width="1.10" height="1.10" fill="#3aa04c" opacity="0.6"/>
<rect x="93.29" y="268.98" width="1.10" height="1.10" fill="#3aa04c" opacity="0.6"/>
<rect x="121.02" y="242.90" width="1.10" height="1.10" fill="#3aa04c" opacity="0.6"/>
<rect x="88.10" y="272.13" width="1.10" height="1.10" fill="#3aa04c" opacity="0.6"/>
<rect x="91.88" y="267.13" width="1.10" height="1.10" fill="#3aa04c" opacity="0.6"/>
<rect x="119.69" y="244.54" width="1.10" height="1.10" fill="#3aa04c" opacity="0.6"/>
<rect x="119.00" y="242.20" width="1.10" height="1.10" fill="#3aa04c" opacity="0.6"/>
<rect x="88.97" y="270.70" width="1.10" height="1.10" fill="#3aa04c" opacity="0.6"/>
<rect x="134.93" y="235.14" width="1.10" height="1.10" fill="#3aa04c" opacity="0.6"/>
<rect x="115.15" y="244.41" width="1.10" height="1.10" fill="#3aa04c" opacity="0.6"/>
<rect x="44.5" y="195.9" width="130.8" height="115.9" fill="none" stroke="#222" stroke-width="1"/>
<line x1="109.80" y1="195.90" x2="109.80" y2="311.80" stroke="#222" stroke-width="1.0"/>
<line x1="44.50" y1="253.80" x2="175.20" y2="253.80" stroke="#222" stroke-width="1.0"/>
<line x1="41.80" y1="307.00" x2="44.50" y2="307.00" stroke="#333" stroke-width="0.9"/>
<text x="38.80" y="309.75" font-size="7.6" stroke="#222" stroke-width="0.213" text-anchor="end" fill="#222">−4</text>
<line x1="49.80" y1="311.70" x2="49.80" y2="314.40" stroke="#333" stroke-width="0.9"/>
<text x="49.80" y="325.80" font-size="7.6" stroke="#222" stroke-width="0.213" text-anchor="middle" fill="#222">−4</text>
<line x1="41.80" y1="280.40" x2="44.50" y2="280.40" stroke="#333" stroke-width="0.9"/>
<text x="38.80" y="283.15" font-size="7.6" stroke="#222" stroke-width="0.213" text-anchor="end" fill="#222">−2</text>
<line x1="79.70" y1="311.70" x2="79.70" y2="314.40" stroke="#333" stroke-width="0.9"/>
<text x="79.70" y="325.80" font-size="7.6" stroke="#222" stroke-width="0.213" text-anchor="middle" fill="#222">−2</text>
<line x1="41.80" y1="253.80" x2="44.50" y2="253.80" stroke="#333" stroke-width="0.9"/>
<text x="38.80" y="256.55" font-size="7.6" stroke="#222" stroke-width="0.213" text-anchor="end" fill="#222">0</text>
<line x1="109.60" y1="311.70" x2="109.60" y2="314.40" stroke="#333" stroke-width="0.9"/>
<text x="109.60" y="325.80" font-size="7.6" stroke="#222" stroke-width="0.213" text-anchor="middle" fill="#222">0</text>
<line x1="41.80" y1="227.20" x2="44.50" y2="227.20" stroke="#333" stroke-width="0.9"/>
<text x="38.80" y="229.95" font-size="7.6" stroke="#222" stroke-width="0.213" text-anchor="end" fill="#222">2</text>
<line x1="139.50" y1="311.70" x2="139.50" y2="314.40" stroke="#333" stroke-width="0.9"/>
<text x="139.50" y="325.80" font-size="7.6" stroke="#222" stroke-width="0.213" text-anchor="middle" fill="#222">2</text>
<line x1="41.80" y1="200.60" x2="44.50" y2="200.60" stroke="#333" stroke-width="0.9"/>
<text x="38.80" y="203.35" font-size="7.6" stroke="#222" stroke-width="0.213" text-anchor="end" fill="#222">4</text>
<line x1="169.40" y1="311.70" x2="169.40" y2="314.40" stroke="#333" stroke-width="0.9"/>
<text x="169.40" y="325.80" font-size="7.6" stroke="#222" stroke-width="0.213" text-anchor="middle" fill="#222">4</text>
<text x="109.80" y="340.20" font-size="10.2" stroke="#222" stroke-width="0.286" text-anchor="middle" fill="#222" textLength="55.4" lengthAdjust="spacingAndGlyphs">Cytosolic RNA</text>
<text x="109.60" y="348.20" font-size="7.0" stroke="#222" stroke-width="0.196" text-anchor="middle" fill="#222" textLength="94.8" lengthAdjust="spacingAndGlyphs">IL-15 vs IL-2 (log2 fold change)</text>
<text x="16.10" y="253.50" font-size="10.5" stroke="#222" stroke-width="0.294" text-anchor="middle" fill="#222" textLength="102.5" lengthAdjust="spacingAndGlyphs" transform="rotate(-90 16.10 253.50)">Polysome–associated RNA</text>
<text x="24.40" y="253.80" font-size="7.2" stroke="#222" stroke-width="0.202" text-anchor="middle" fill="#222" textLength="95.4" lengthAdjust="spacingAndGlyphs" transform="rotate(-90 24.40 253.80)">IL-15 vs IL-2 (log2 fold change)</text>
<rect x="46.60" y="198.80" width="5.00" height="4.80" fill="#c83c2c"/>
<rect x="46.60" y="206.50" width="5.00" height="4.80" fill="#3e8c4c"/>
<text x="54.00" y="204.10" font-size="7.6" stroke="#222" stroke-width="0.213" fill="#222" textLength="36.6" lengthAdjust="spacingAndGlyphs">Translation</text>
<text x="54.00" y="211.50" font-size="7.6" stroke="#222" stroke-width="0.213" fill="#222" textLength="53.9" lengthAdjust="spacingAndGlyphs">Poly-associated</text>
<text x="202.80" y="189.90" font-size="11.5" font-weight="bold" fill="#000">E</text>
<rect x="224.8" y="195.6" width="49.4" height="4.9" fill="url(#cbarE)" stroke="#333" stroke-width="0.6"/>
<line x1="225.00" y1="200.50" x2="225.00" y2="202.80" stroke="#333" stroke-width="0.7"/>
<text x="225.00" y="211.20" font-size="5.9" stroke="#222" stroke-width="0.165" text-anchor="middle" fill="#222">−2</text>
<line x1="237.30" y1="200.50" x2="237.30" y2="202.80" stroke="#333" stroke-width="0.7"/>
<text x="237.30" y="211.20" font-size="5.9" stroke="#222" stroke-width="0.165" text-anchor="middle" fill="#222">−1</text>
<line x1="249.60" y1="200.50" x2="249.60" y2="202.80" stroke="#333" stroke-width="0.7"/>
<text x="249.60" y="211.20" font-size="5.9" stroke="#222" stroke-width="0.165" text-anchor="middle" fill="#222">0</text>
<line x1="261.90" y1="200.50" x2="261.90" y2="202.80" stroke="#333" stroke-width="0.7"/>
<text x="261.90" y="211.20" font-size="5.9" stroke="#222" stroke-width="0.165" text-anchor="middle" fill="#222">1</text>
<line x1="274.20" y1="200.50" x2="274.20" y2="202.80" stroke="#333" stroke-width="0.7"/>
<text x="274.20" y="211.20" font-size="5.9" stroke="#222" stroke-width="0.165" text-anchor="middle" fill="#222">2</text>
<text x="202.60" y="219.60" font-size="7.5" stroke="#222" stroke-width="0.21" fill="#222" textLength="103.6" lengthAdjust="spacingAndGlyphs">IL-15 vs IL-2 (log2 fold change)</text>
<text x="464.10" y="219.70" font-size="8.3" stroke="#222" stroke-width="0.232" text-anchor="middle" fill="#222">Donor</text>
<g shape-rendering="crispEdges"><rect x="202.20" y="227.80" width="2.05" height="10.38" fill="#fdf1f1"/><rect x="202.20" y="238.13" width="2.05" height="10.38" fill="#f4a6a4"/><rect x="202.20" y="248.46" width="2.05" height="10.38" fill="#ed7472"/><rect x="202.20" y="258.79" width="2.05" height="10.38" fill="#fce8e7"/><rect x="202.20" y="269.12" width="2.05" height="10.38" fill="#fdf1f1"/><rect x="202.20" y="279.45" width="2.05" height="10.38" fill="#ee7977"/><rect x="202.20" y="289.78" width="2.05" height="10.38" fill="#fdf0ef"/><rect x="202.20" y="300.11" width="2.05" height="10.38" fill="#ef8481"/><rect x="202.20" y="310.44" width="2.05" height="10.38" fill="#f7bfbd"/><rect x="202.20" y="320.77" width="2.05" height="10.38" fill="#f29b99"/><rect x="204.20" y="227.80" width="1.55" height="10.38" fill="#ee7d7b"/><rect x="204.20" y="238.13" width="1.55" height="10.38" fill="#ee7976"/><rect x="204.20" y="248.46" width="1.55" height="10.38" fill="#e32420"/><rect x="204.20" y="258.79" width="1.55" height="10.38" fill="#eb6562"/><rect x="204.20" y="269.12" width="1.55" height="10.38" fill="#f6b5b3"/><rect x="204.20" y="279.45" width="1.55" height="10.38" fill="#f08d8b"/><rect x="204.20" y="289.78" width="1.55" height="10.38" fill="#f29997"/><rect x="204.20" y="300.11" width="1.55" height="10.38" fill="#e32521"/><rect x="204.20" y="310.44" width="1.55" height="10.38" fill="#ed716e"/><rect x="204.20" y="320.77" width="1.55" height="10.38" fill="#f29c9a"/><rect x="205.70" y="227.80" width="2.55" height="10.38" fill="#f1918f"/><rect x="205.70" y="238.13" width="2.55" height="10.38" fill="#ed7674"/><rect x="205.70" y="248.46" width="2.55" height="10.38" fill="#e84b47"/><rect x="205.70" y="258.79" width="2.55" height="10.38" fill="#f3a19f"/><rect x="205.70" y="269.12" width="2.55" height="10.38" fill="#f5adab"/><rect x="205.70" y="279.45" width="2.55" height="10.38" fill="#fdeceb"/><rect x="205.70" y="289.78" width="2.55" height="10.38" fill="#fffbfb"/><rect x="205.70" y="300.11" width="2.55" height="10.38" fill="#ef8482"/><rect x="205.70" y="310.44" width="2.55" height="10.38" fill="#ed7573"/><rect x="205.70" y="320.77" width="2.55" height="10.38" fill="#ed7673"/><rect x="208.20" y="227.80" width="1.55" height="10.38" fill="#e84a46"/><rect x="208.20" y="238.13" width="1.55" height="10.38" fill="#fdf1f1"/><rect x="208.20" y="248.46" width="1.55" height="10.38" fill="#e4302c"/><rect x="208.20" y="258.79" width="1.55" height="10.38" fill="#f7c0be"/><rect x="208.20" y="269.12" width="1.55" height="10.38" fill="#f4aba9"/><rect x="208.20" y="279.45" width="1.55" height="10.38" fill="#ec6f6c"/><rect x="208.20" y="289.78" width="1.55" height="10.38" fill="#f6b9b7"/><rect x="208.20" y="300.11" width="1.55" height="10.38" fill="#eb6460"/><rect x="208.20" y="310.44" width="1.55" height="10.38" fill="#ee7d7a"/><rect x="208.20" y="320.77" width="1.55" height="10.38" fill="#e8514d"/><rect x="209.70" y="227.80" width="3.05" height="10.38" fill="#ec6c69"/><rect x="209.70" y="238.13" width="3.05" height="10.38" fill="#ea5f5b"/><rect x="209.70" y="248.46" width="3.05" height="10.38" fill="#eb6460"/><rect x="209.70" y="258.79" width="3.05" height="10.38" fill="#ee7f7c"/><rect x="209.70" y="269.12" width="3.05" height="10.38" fill="#ee7977"/><rect x="209.70" y="279.45" width="3.05" height="10.38" fill="#ed7774"/><rect x="209.70" y="289.78" width="3.05" height="10.38" fill="#f5b1af"/><rect x="209.70" y="300.11" width="3.05" height="10.38" fill="#f08886"/><rect x="209.70" y="310.44" width="3.05" height="10.38" fill="#f4a6a4"/><rect x="209.70" y="320.77" width="3.05" height="10.38" fill="#e8504c"/><rect x="212.70" y="227.80" width="2.55" height="10.38" fill="#f7c2c0"/><rect x="212.70" y="238.13" width="2.55" height="10.38" fill="#f18f8d"/><rect x="212.70" y="248.46" width="2.55" height="10.38" fill="#e95652"/><rect x="212.70" y="258.79" width="2.55" height="10.38" fill="#f3a19f"/><rect x="212.70" y="269.12" width="2.55" height="10.38" fill="#fad4d2"/><rect x="212.70" y="279.45" width="2.55" height="10.38" fill="#ef8684"/><rect x="212.70" y="289.78" width="2.55" height="10.38" fill="#f9d1d0"/><rect x="212.70" y="300.11" width="2.55" height="10.38" fill="#ec6a67"/><rect x="212.70" y="310.44" width="2.55" height="10.38" fill="#ea5b57"/><rect x="212.70" y="320.77" width="2.55" height="10.38" fill="#f1908e"/><rect x="215.20" y="227.80" width="3.05" height="10.38" fill="#f29694"/><rect x="215.20" y="238.13" width="3.05" height="10.38" fill="#f29997"/><rect x="215.20" y="248.46" width="3.05" height="10.38" fill="#ed7673"/><rect x="215.20" y="258.79" width="3.05" height="10.38" fill="#ef7f7d"/><rect x="215.20" y="269.12" width="3.05" height="10.38" fill="#f8c6c4"/><rect x="215.20" y="279.45" width="3.05" height="10.38" fill="#f8c6c4"/><rect x="215.20" y="289.78" width="3.05" height="10.38" fill="#fdebea"/><rect x="215.20" y="300.11" width="3.05" height="10.38" fill="#e53531"/><rect x="215.20" y="310.44" width="3.05" height="10.38" fill="#f19290"/><rect x="215.20" y="320.77" width="3.05" height="10.38" fill="#f8cac8"/><rect x="218.20" y="227.80" width="2.55" height="10.38" fill="#ed7471"/><rect x="218.20" y="238.13" width="2.55" height="10.38" fill="#fad3d1"/><rect x="218.20" y="248.46" width="2.55" height="10.38" fill="#e63a36"/><rect x="218.20" y="258.79" width="2.55" height="10.38" fill="#f5aeac"/><rect x="218.20" y="269.12" width="2.55" height="10.38" fill="#f8cac8"/><rect x="218.20" y="279.45" width="2.55" height="10.38" fill="#f5acaa"/><rect x="218.20" y="289.78" width="2.55" height="10.38" fill="#f6b9b7"/><rect x="218.20" y="300.11" width="2.55" height="10.38" fill="#f5afad"/><rect x="218.20" y="310.44" width="2.55" height="10.38" fill="#fad8d7"/><rect x="218.20" y="320.77" width="2.55" height="10.38" fill="#f19593"/><rect x="220.70" y="227.80" width="2.55" height="10.38" fill="#f9cfce"/><rect x="220.70" y="238.13" width="2.55" height="10.38" fill="#f19492"/><rect x="220.70" y="248.46" width="2.55" height="10.38" fill="#ea5c58"/><rect x="220.70" y="258.79" width="2.55" height="10.38" fill="#f5b1af"/><rect x="220.70" y="269.12" width="2.55" height="10.38" fill="#f9cecd"/><rect x="220.70" y="279.45" width="2.55" height="10.38" fill="#f7c2c0"/><rect x="220.70" y="289.78" width="2.55" height="10.38" fill="#fef6f5"/><rect x="220.70" y="300.11" width="2.55" height="10.38" fill="#ef817f"/><rect x="220.70" y="310.44" width="2.55" height="10.38" fill="#ee7e7b"/><rect x="220.70" y="320.77" width="2.55" height="10.38" fill="#f08785"/><rect x="223.20" y="227.80" width="2.05" height="10.38" fill="#f29a98"/><rect x="223.20" y="238.13" width="2.05" height="10.38" fill="#f8c7c5"/><rect x="223.20" y="248.46" width="2.05" height="10.38" fill="#f8cac8"/><rect x="223.20" y="258.79" width="2.05" height="10.38" fill="#ef817f"/><rect x="223.20" y="269.12" width="2.05" height="10.38" fill="#f5afad"/><rect x="223.20" y="279.45" width="2.05" height="10.38" fill="#f4aba9"/><rect x="223.20" y="289.78" width="2.05" height="10.38" fill="#fbdcdb"/><rect x="223.20" y="300.11" width="2.05" height="10.38" fill="#ea5d59"/><rect x="223.20" y="310.44" width="2.05" height="10.38" fill="#f1908e"/><rect x="223.20" y="320.77" width="2.05" height="10.38" fill="#f29795"/><rect x="225.20" y="227.80" width="1.05" height="10.38" fill="#fdefef"/><rect x="225.20" y="238.13" width="1.05" height="10.38" fill="#f5b1af"/><rect x="225.20" y="248.46" width="1.05" height="10.38" fill="#f9d1cf"/><rect x="225.20" y="258.79" width="1.05" height="10.38" fill="#fad5d3"/><rect x="225.20" y="269.12" width="1.05" height="10.38" fill="#fad7d6"/><rect x="225.20" y="279.45" width="1.05" height="10.38" fill="#f9cecc"/><rect x="225.20" y="289.78" width="1.05" height="10.38" fill="#e9eaf5"/><rect x="225.20" y="300.11" width="1.05" height="10.38" fill="#ee7d7a"/><rect x="225.20" y="310.44" width="1.05" height="10.38" fill="#fad5d4"/><rect x="225.20" y="320.77" width="1.05" height="10.38" fill="#f6b8b6"/><rect x="226.20" y="227.80" width="3.05" height="10.38" fill="#fce5e4"/><rect x="226.20" y="238.13" width="3.05" height="10.38" fill="#f4a9a7"/><rect x="226.20" y="248.46" width="3.05" height="10.38" fill="#f29d9b"/><rect x="226.20" y="258.79" width="3.05" height="10.38" fill="#fadad9"/><rect x="226.20" y="269.12" width="3.05" height="10.38" fill="#f4acaa"/><rect x="226.20" y="279.45" width="3.05" height="10.38" fill="#f08886"/><rect x="226.20" y="289.78" width="3.05" height="10.38" fill="#ececf6"/><rect x="226.20" y="300.11" width="3.05" height="10.38" fill="#f7bfbd"/><rect x="226.20" y="310.44" width="3.05" height="10.38" fill="#f3a2a0"/><rect x="226.20" y="320.77" width="3.05" height="10.38" fill="#f9d1cf"/><rect x="229.20" y="227.80" width="2.05" height="10.38" fill="#f8c6c4"/><rect x="229.20" y="238.13" width="2.05" height="10.38" fill="#f7c0be"/><rect x="229.20" y="248.46" width="2.05" height="10.38" fill="#e6403c"/><rect x="229.20" y="258.79" width="2.05" height="10.38" fill="#f6b3b1"/><rect x="229.20" y="269.12" width="2.05" height="10.38" fill="#f8c6c4"/><rect x="229.20" y="279.45" width="2.05" height="10.38" fill="#f6b5b3"/><rect x="229.20" y="289.78" width="2.05" height="10.38" fill="#fadad9"/><rect x="229.20" y="300.11" width="2.05" height="10.38" fill="#eb6561"/><rect x="229.20" y="310.44" width="2.05" height="10.38" fill="#ee7976"/><rect x="229.20" y="320.77" width="2.05" height="10.38" fill="#ee7a77"/><rect x="231.20" y="227.80" width="3.05" height="10.38" fill="#f4a6a4"/><rect x="231.20" y="238.13" width="3.05" height="10.38" fill="#ef8582"/><rect x="231.20" y="248.46" width="3.05" height="10.38" fill="#f39d9b"/><rect x="231.20" y="258.79" width="3.05" height="10.38" fill="#f4aaa8"/><rect x="231.20" y="269.12" width="3.05" height="10.38" fill="#f29a98"/><rect x="231.20" y="279.45" width="3.05" height="10.38" fill="#f5b2b0"/><rect x="231.20" y="289.78" width="3.05" height="10.38" fill="#ee7a78"/><rect x="231.20" y="300.11" width="3.05" height="10.38" fill="#f29a98"/><rect x="231.20" y="310.44" width="3.05" height="10.38" fill="#ea5b57"/><rect x="231.20" y="320.77" width="3.05" height="10.38" fill="#eb6965"/><rect x="234.20" y="227.80" width="1.55" height="10.38" fill="#ee7875"/><rect x="234.20" y="238.13" width="1.55" height="10.38" fill="#f4aaa8"/><rect x="234.20" y="248.46" width="1.55" height="10.38" fill="#f4a8a6"/><rect x="234.20" y="258.79" width="1.55" height="10.38" fill="#f08987"/><rect x="234.20" y="269.12" width="1.55" height="10.38" fill="#ef8280"/><rect x="234.20" y="279.45" width="1.55" height="10.38" fill="#f3a3a1"/><rect x="234.20" y="289.78" width="1.55" height="10.38" fill="#fce3e2"/><rect x="234.20" y="300.11" width="1.55" height="10.38" fill="#e7413d"/><rect x="234.20" y="310.44" width="1.55" height="10.38" fill="#ee7875"/><rect x="234.20" y="320.77" width="1.55" height="10.38" fill="#ed7471"/><rect x="235.70" y="227.80" width="2.55" height="10.38" fill="#f29694"/><rect x="235.70" y="238.13" width="2.55" height="10.38" fill="#f3a4a2"/><rect x="235.70" y="248.46" width="2.55" height="10.38" fill="#f19492"/><rect x="235.70" y="258.79" width="2.55" height="10.38" fill="#f6b7b5"/><rect x="235.70" y="269.12" width="2.55" height="10.38" fill="#f5b3b1"/><rect x="235.70" y="279.45" width="2.55" height="10.38" fill="#ec6c69"/><rect x="235.70" y="289.78" width="2.55" height="10.38" fill="#fef3f3"/><rect x="235.70" y="300.11" width="2.55" height="10.38" fill="#eb6460"/><rect x="235.70" y="310.44" width="2.55" height="10.38" fill="#ef807e"/><rect x="235.70" y="320.77" width="2.55" height="10.38" fill="#ea5f5b"/><rect x="238.20" y="227.80" width="1.05" height="10.38" fill="#ee7c7a"/><rect x="238.20" y="238.13" width="1.05" height="10.38" fill="#ee7c7a"/><rect x="238.20" y="248.46" width="1.05" height="10.38" fill="#ec6b68"/><rect x="238.20" y="258.79" width="1.05" height="10.38" fill="#ee7d7b"/><rect x="238.20" y="269.12" width="1.05" height="10.38" fill="#ec6c69"/><rect x="238.20" y="279.45" width="1.05" height="10.38" fill="#ed706d"/><rect x="238.20" y="289.78" width="1.05" height="10.38" fill="#f19593"/><rect x="238.20" y="300.11" width="1.05" height="10.38" fill="#e7433f"/><rect x="238.20" y="310.44" width="1.05" height="10.38" fill="#ed7775"/><rect x="238.20" y="320.77" width="1.05" height="10.38" fill="#ea5c59"/><rect x="239.20" y="227.80" width="1.55" height="10.38" fill="#ed716e"/><rect x="239.20" y="238.13" width="1.55" height="10.38" fill="#f8c4c2"/><rect x="239.20" y="248.46" width="1.55" height="10.38" fill="#ea5f5b"/><rect x="239.20" y="258.79" width="1.55" height="10.38" fill="#f29a98"/><rect x="239.20" y="269.12" width="1.55" height="10.38" fill="#f4a9a7"/><rect x="239.20" y="279.45" width="1.55" height="10.38" fill="#f29896"/><rect x="239.20" y="289.78" width="1.55" height="10.38" fill="#f5acaa"/><rect x="239.20" y="300.11" width="1.55" height="10.38" fill="#e32622"/><rect x="239.20" y="310.44" width="1.55" height="10.38" fill="#f6b7b5"/><rect x="239.20" y="320.77" width="1.55" height="10.38" fill="#f19290"/><rect x="240.70" y="227.80" width="1.05" height="10.38" fill="#f7bbb9"/><rect x="240.70" y="238.13" width="1.05" height="10.38" fill="#ef8381"/><rect x="240.70" y="248.46" width="1.05" height="10.38" fill="#f08c8a"/><rect x="240.70" y="258.79" width="1.05" height="10.38" fill="#f7bcba"/><rect x="240.70" y="269.12" width="1.05" height="10.38" fill="#fceae9"/><rect x="240.70" y="279.45" width="1.05" height="10.38" fill="#f08886"/><rect x="240.70" y="289.78" width="1.05" height="10.38" fill="#f8c4c2"/><rect x="240.70" y="300.11" width="1.05" height="10.38" fill="#eb6763"/><rect x="240.70" y="310.44" width="1.05" height="10.38" fill="#ee7f7c"/><rect x="240.70" y="320.77" width="1.05" height="10.38" fill="#f29896"/><rect x="241.70" y="227.80" width="1.55" height="10.38" fill="#ea615e"/><rect x="241.70" y="238.13" width="1.55" height="10.38" fill="#ef8684"/><rect x="241.70" y="248.46" width="1.55" height="10.38" fill="#f6b9b7"/><rect x="241.70" y="258.79" width="1.55" height="10.38" fill="#f5b1af"/><rect x="241.70" y="269.12" width="1.55" height="10.38" fill="#f29c9a"/><rect x="241.70" y="279.45" width="1.55" height="10.38" fill="#f08d8b"/><rect x="241.70" y="289.78" width="1.55" height="10.38" fill="#fdf1f1"/><rect x="241.70" y="300.11" width="1.55" height="10.38" fill="#ec6e6b"/><rect x="241.70" y="310.44" width="1.55" height="10.38" fill="#ee7876"/><rect x="241.70" y="320.77" width="1.55" height="10.38" fill="#f6b8b6"/><rect x="243.20" y="227.80" width="2.05" height="10.38" fill="#ee7e7c"/><rect x="243.20" y="238.13" width="2.05" height="10.38" fill="#ee7976"/><rect x="243.20" y="248.46" width="2.05" height="10.38" fill="#ef8280"/><rect x="243.20" y="258.79" width="2.05" height="10.38" fill="#f39e9c"/><rect x="243.20" y="269.12" width="2.05" height="10.38" fill="#f29b99"/><rect x="243.20" y="279.45" width="2.05" height="10.38" fill="#ea5d59"/><rect x="243.20" y="289.78" width="2.05" height="10.38" fill="#f3a2a0"/><rect x="243.20" y="300.11" width="2.05" height="10.38" fill="#f5b3b1"/><rect x="243.20" y="310.44" width="2.05" height="10.38" fill="#ea5f5c"/><rect x="243.20" y="320.77" width="2.05" height="10.38" fill="#ef8381"/><rect x="245.20" y="227.80" width="3.05" height="10.38" fill="#ea5c58"/><rect x="245.20" y="238.13" width="3.05" height="10.38" fill="#e32420"/><rect x="245.20" y="248.46" width="3.05" height="10.38" fill="#e42d29"/><rect x="245.20" y="258.79" width="3.05" height="10.38" fill="#e6403c"/><rect x="245.20" y="269.12" width="3.05" height="10.38" fill="#e42d29"/><rect x="245.20" y="279.45" width="3.05" height="10.38" fill="#e32420"/><rect x="245.20" y="289.78" width="3.05" height="10.38" fill="#ed706d"/><rect x="245.20" y="300.11" width="3.05" height="10.38" fill="#e42925"/><rect x="245.20" y="310.44" width="3.05" height="10.38" fill="#e53632"/><rect x="245.20" y="320.77" width="3.05" height="10.38" fill="#e53430"/><rect x="248.20" y="227.80" width="1.55" height="10.38" fill="#f4a8a6"/><rect x="248.20" y="238.13" width="1.55" height="10.38" fill="#f1918f"/><rect x="248.20" y="248.46" width="1.55" height="10.38" fill="#f08c8a"/><rect x="248.20" y="258.79" width="1.55" height="10.38" fill="#f29896"/><rect x="248.20" y="269.12" width="1.55" height="10.38" fill="#f08785"/><rect x="248.20" y="279.45" width="1.55" height="10.38" fill="#ef817f"/><rect x="248.20" y="289.78" width="1.55" height="10.38" fill="#f3a3a1"/><rect x="248.20" y="300.11" width="1.55" height="10.38" fill="#ee7b78"/><rect x="248.20" y="310.44" width="1.55" height="10.38" fill="#f8c5c3"/><rect x="248.20" y="320.77" width="1.55" height="10.38" fill="#f4a5a3"/><rect x="249.70" y="227.80" width="2.05" height="10.38" fill="#f19593"/><rect x="249.70" y="238.13" width="2.05" height="10.38" fill="#f3a19f"/><rect x="249.70" y="248.46" width="2.05" height="10.38" fill="#e8524e"/><rect x="249.70" y="258.79" width="2.05" height="10.38" fill="#fad6d4"/><rect x="249.70" y="269.12" width="2.05" height="10.38" fill="#f18e8c"/><rect x="249.70" y="279.45" width="2.05" height="10.38" fill="#f1908e"/><rect x="249.70" y="289.78" width="2.05" height="10.38" fill="#f29795"/><rect x="249.70" y="300.11" width="2.05" height="10.38" fill="#ee7976"/><rect x="249.70" y="310.44" width="2.05" height="10.38" fill="#f19593"/><rect x="249.70" y="320.77" width="2.05" height="10.38" fill="#f29997"/><rect x="251.70" y="227.80" width="2.05" height="10.38" fill="#fef4f3"/><rect x="251.70" y="238.13" width="2.05" height="10.38" fill="#fbdddb"/><rect x="251.70" y="248.46" width="2.05" height="10.38" fill="#f6b9b7"/><rect x="251.70" y="258.79" width="2.05" height="10.38" fill="#f19391"/><rect x="251.70" y="269.12" width="2.05" height="10.38" fill="#fad4d2"/><rect x="251.70" y="279.45" width="2.05" height="10.38" fill="#ec6c68"/><rect x="251.70" y="289.78" width="2.05" height="10.38" fill="#f9cecc"/><rect x="251.70" y="300.11" width="2.05" height="10.38" fill="#f08d8b"/><rect x="251.70" y="310.44" width="2.05" height="10.38" fill="#f29997"/><rect x="251.70" y="320.77" width="2.05" height="10.38" fill="#ed7774"/><rect x="253.70" y="227.80" width="1.05" height="10.38" fill="#f9cbca"/><rect x="253.70" y="238.13" width="1.05" height="10.38" fill="#f8c4c2"/><rect x="253.70" y="248.46" width="1.05" height="10.38" fill="#f5b0ae"/><rect x="253.70" y="258.79" width="1.05" height="10.38" fill="#f6b7b5"/><rect x="253.70" y="269.12" width="1.05" height="10.38" fill="#f9cecd"/><rect x="253.70" y="279.45" width="1.05" height="10.38" fill="#ed7370"/><rect x="253.70" y="289.78" width="1.05" height="10.38" fill="#f08785"/><rect x="253.70" y="300.11" width="1.05" height="10.38" fill="#ed7774"/><rect x="253.70" y="310.44" width="1.05" height="10.38" fill="#e84c48"/><rect x="253.70" y="320.77" width="1.05" height="10.38" fill="#f4a5a3"/><rect x="254.70" y="227.80" width="2.05" height="10.38" fill="#ee7b79"/><rect x="254.70" y="238.13" width="2.05" height="10.38" fill="#f5adab"/><rect x="254.70" y="248.46" width="2.05" height="10.38" fill="#f08c8a"/><rect x="254.70" y="258.79" width="2.05" height="10.38" fill="#f4a5a3"/><rect x="254.70" y="269.12" width="2.05" height="10.38" fill="#f08a88"/><rect x="254.70" y="279.45" width="2.05" height="10.38" fill="#f39e9c"/><rect x="254.70" y="289.78" width="2.05" height="10.38" fill="#f3a3a1"/><rect x="254.70" y="300.11" width="2.05" height="10.38" fill="#ec6966"/><rect x="254.70" y="310.44" width="2.05" height="10.38" fill="#ea5b57"/><rect x="254.70" y="320.77" width="2.05" height="10.38" fill="#f08b89"/><rect x="256.70" y="227.80" width="1.55" height="10.38" fill="#f7c1bf"/><rect x="256.70" y="238.13" width="1.55" height="10.38" fill="#f8c5c3"/><rect x="256.70" y="248.46" width="1.55" height="10.38" fill="#f08886"/><rect x="256.70" y="258.79" width="1.55" height="10.38" fill="#f7c2c0"/><rect x="256.70" y="269.12" width="1.55" height="10.38" fill="#f1908e"/><rect x="256.70" y="279.45" width="1.55" height="10.38" fill="#f3a09e"/><rect x="256.70" y="289.78" width="1.55" height="10.38" fill="#f08784"/><rect x="256.70" y="300.11" width="1.55" height="10.38" fill="#e8504c"/><rect x="256.70" y="310.44" width="1.55" height="10.38" fill="#e95955"/><rect x="256.70" y="320.77" width="1.55" height="10.38" fill="#f4a6a4"/><rect x="258.20" y="227.80" width="1.05" height="10.38" fill="#f6b9b7"/><rect x="258.20" y="238.13" width="1.05" height="10.38" fill="#fef9f9"/><rect x="258.20" y="248.46" width="1.05" height="10.38" fill="#fce7e6"/><rect x="258.20" y="258.79" width="1.05" height="10.38" fill="#fce5e5"/><rect x="258.20" y="269.12" width="1.05" height="10.38" fill="#fbe0df"/><rect x="258.20" y="279.45" width="1.05" height="10.38" fill="#fad3d1"/><rect x="258.20" y="289.78" width="1.05" height="10.38" fill="#f7c0be"/><rect x="258.20" y="300.11" width="1.05" height="10.38" fill="#f19290"/><rect x="258.20" y="310.44" width="1.05" height="10.38" fill="#f4a6a4"/><rect x="258.20" y="320.77" width="1.05" height="10.38" fill="#f29a98"/><rect x="259.20" y="227.80" width="2.55" height="10.38" fill="#f7bbb9"/><rect x="259.20" y="238.13" width="2.55" height="10.38" fill="#ef807e"/><rect x="259.20" y="248.46" width="2.55" height="10.38" fill="#f18f8d"/><rect x="259.20" y="258.79" width="2.55" height="10.38" fill="#ed7775"/><rect x="259.20" y="269.12" width="2.55" height="10.38" fill="#f9cdcb"/><rect x="259.20" y="279.45" width="2.55" height="10.38" fill="#f3a19f"/><rect x="259.20" y="289.78" width="2.55" height="10.38" fill="#ef8482"/><rect x="259.20" y="300.11" width="2.55" height="10.38" fill="#ea5b57"/><rect x="259.20" y="310.44" width="2.55" height="10.38" fill="#ec6f6c"/><rect x="259.20" y="320.77" width="2.55" height="10.38" fill="#eb6461"/><rect x="261.70" y="227.80" width="1.55" height="10.38" fill="#f19391"/><rect x="261.70" y="238.13" width="1.55" height="10.38" fill="#f6b7b5"/><rect x="261.70" y="248.46" width="1.55" height="10.38" fill="#f1918f"/><rect x="261.70" y="258.79" width="1.55" height="10.38" fill="#ef817e"/><rect x="261.70" y="269.12" width="1.55" height="10.38" fill="#f39f9d"/><rect x="261.70" y="279.45" width="1.55" height="10.38" fill="#ec6a67"/><rect x="261.70" y="289.78" width="1.55" height="10.38" fill="#f19391"/><rect x="261.70" y="300.11" width="1.55" height="10.38" fill="#e74844"/><rect x="261.70" y="310.44" width="1.55" height="10.38" fill="#e53733"/><rect x="261.70" y="320.77" width="1.55" height="10.38" fill="#eb6764"/><rect x="263.20" y="227.80" width="2.05" height="10.38" fill="#f29896"/><rect x="263.20" y="238.13" width="2.05" height="10.38" fill="#fdeded"/><rect x="263.20" y="248.46" width="2.05" height="10.38" fill="#fce7e6"/><rect x="263.20" y="258.79" width="2.05" height="10.38" fill="#f7c0be"/><rect x="263.20" y="269.12" width="2.05" height="10.38" fill="#fce7e6"/><rect x="263.20" y="279.45" width="2.05" height="10.38" fill="#f7c1bf"/><rect x="263.20" y="289.78" width="2.05" height="10.38" fill="#fce3e2"/><rect x="263.20" y="300.11" width="2.05" height="10.38" fill="#f6b5b3"/><rect x="263.20" y="310.44" width="2.05" height="10.38" fill="#fbdfde"/><rect x="263.20" y="320.77" width="2.05" height="10.38" fill="#f29a98"/><rect x="265.20" y="227.80" width="1.55" height="10.38" fill="#fad9d7"/><rect x="265.20" y="238.13" width="1.55" height="10.38" fill="#fdecec"/><rect x="265.20" y="248.46" width="1.55" height="10.38" fill="#f8c6c4"/><rect x="265.20" y="258.79" width="1.55" height="10.38" fill="#fef7f7"/><rect x="265.20" y="269.12" width="1.55" height="10.38" fill="#ecedf6"/><rect x="265.20" y="279.45" width="1.55" height="10.38" fill="#f5b0ae"/><rect x="265.20" y="289.78" width="1.55" height="10.38" fill="#fdf1f1"/><rect x="265.20" y="300.11" width="1.55" height="10.38" fill="#ef8583"/><rect x="265.20" y="310.44" width="1.55" height="10.38" fill="#fad3d2"/><rect x="265.20" y="320.77" width="1.55" height="10.38" fill="#fbdedc"/><rect x="266.70" y="227.80" width="1.55" height="10.38" fill="#ee7e7c"/><rect x="266.70" y="238.13" width="1.55" height="10.38" fill="#f9cfcd"/><rect x="266.70" y="248.46" width="1.55" height="10.38" fill="#f7bebc"/><rect x="266.70" y="258.79" width="1.55" height="10.38" fill="#f4a8a6"/><rect x="266.70" y="269.12" width="1.55" height="10.38" fill="#f7bfbd"/><rect x="266.70" y="279.45" width="1.55" height="10.38" fill="#ea5b57"/><rect x="266.70" y="289.78" width="1.55" height="10.38" fill="#f18f8d"/><rect x="266.70" y="300.11" width="1.55" height="10.38" fill="#ef817e"/><rect x="266.70" y="310.44" width="1.55" height="10.38" fill="#ef8381"/><rect x="266.70" y="320.77" width="1.55" height="10.38" fill="#fce8e7"/><rect x="268.20" y="227.80" width="3.05" height="10.38" fill="#f9d0cf"/><rect x="268.20" y="238.13" width="3.05" height="10.38" fill="#f7c1bf"/><rect x="268.20" y="248.46" width="3.05" height="10.38" fill="#ed7471"/><rect x="268.20" y="258.79" width="3.05" height="10.38" fill="#f3a09e"/><rect x="268.20" y="269.12" width="3.05" height="10.38" fill="#e9eaf5"/><rect x="268.20" y="279.45" width="3.05" height="10.38" fill="#f39f9d"/><rect x="268.20" y="289.78" width="3.05" height="10.38" fill="#f3a2a0"/><rect x="268.20" y="300.11" width="3.05" height="10.38" fill="#ef8481"/><rect x="268.20" y="310.44" width="3.05" height="10.38" fill="#ee7d7b"/><rect x="268.20" y="320.77" width="3.05" height="10.38" fill="#f08c8a"/><rect x="271.20" y="227.80" width="3.05" height="10.38" fill="#f29a98"/><rect x="271.20" y="238.13" width="3.05" height="10.38" fill="#f5afad"/><rect x="271.20" y="248.46" width="3.05" height="10.38" fill="#f08886"/><rect x="271.20" y="258.79" width="3.05" height="10.38" fill="#e84b47"/><rect x="271.20" y="269.12" width="3.05" height="10.38" fill="#f29a98"/><rect x="271.20" y="279.45" width="3.05" height="10.38" fill="#ed726f"/><rect x="271.20" y="289.78" width="3.05" height="10.38" fill="#ed7572"/><rect x="271.20" y="300.11" width="3.05" height="10.38" fill="#f08d8b"/><rect x="271.20" y="310.44" width="3.05" height="10.38" fill="#eb6763"/><rect x="271.20" y="320.77" width="3.05" height="10.38" fill="#ea605c"/><rect x="274.20" y="227.80" width="2.05" height="10.38" fill="#fef6f6"/><rect x="274.20" y="238.13" width="2.05" height="10.38" fill="#f8c6c4"/><rect x="274.20" y="248.46" width="2.05" height="10.38" fill="#f9d2d0"/><rect x="274.20" y="258.79" width="2.05" height="10.38" fill="#f9cdcb"/><rect x="274.20" y="269.12" width="2.05" height="10.38" fill="#f6b5b3"/><rect x="274.20" y="279.45" width="2.05" height="10.38" fill="#ef817f"/><rect x="274.20" y="289.78" width="2.05" height="10.38" fill="#f8c7c5"/><rect x="274.20" y="300.11" width="2.05" height="10.38" fill="#ee7b78"/><rect x="274.20" y="310.44" width="2.05" height="10.38" fill="#f3a09e"/><rect x="274.20" y="320.77" width="2.05" height="10.38" fill="#f08a88"/><rect x="276.20" y="227.80" width="1.55" height="10.38" fill="#fef3f3"/><rect x="276.20" y="238.13" width="1.55" height="10.38" fill="#fbdfde"/><rect x="276.20" y="248.46" width="1.55" height="10.38" fill="#f29694"/><rect x="276.20" y="258.79" width="1.55" height="10.38" fill="#f6bbb9"/><rect x="276.20" y="269.12" width="1.55" height="10.38" fill="#fdeded"/><rect x="276.20" y="279.45" width="1.55" height="10.38" fill="#f1918f"/><rect x="276.20" y="289.78" width="1.55" height="10.38" fill="#f5acaa"/><rect x="276.20" y="300.11" width="1.55" height="10.38" fill="#eb625e"/><rect x="276.20" y="310.44" width="1.55" height="10.38" fill="#ef8381"/><rect x="276.20" y="320.77" width="1.55" height="10.38" fill="#f18f8d"/><rect x="277.70" y="227.80" width="3.05" height="10.38" fill="#f5adab"/><rect x="277.70" y="238.13" width="3.05" height="10.38" fill="#f7bebc"/><rect x="277.70" y="248.46" width="3.05" height="10.38" fill="#f19290"/><rect x="277.70" y="258.79" width="3.05" height="10.38" fill="#f4acaa"/><rect x="277.70" y="269.12" width="3.05" height="10.38" fill="#fce7e6"/><rect x="277.70" y="279.45" width="3.05" height="10.38" fill="#f5aeac"/><rect x="277.70" y="289.78" width="3.05" height="10.38" fill="#ef8684"/><rect x="277.70" y="300.11" width="3.05" height="10.38" fill="#ed7774"/><rect x="277.70" y="310.44" width="3.05" height="10.38" fill="#ef8583"/><rect x="277.70" y="320.77" width="3.05" height="10.38" fill="#f18e8c"/><rect x="280.70" y="227.80" width="3.05" height="10.38" fill="#f29795"/><rect x="280.70" y="238.13" width="3.05" height="10.38" fill="#fad9d8"/><rect x="280.70" y="248.46" width="3.05" height="10.38" fill="#f29896"/><rect x="280.70" y="258.79" width="3.05" height="10.38" fill="#f5b2b0"/><rect x="280.70" y="269.12" width="3.05" height="10.38" fill="#fdf0f0"/><rect x="280.70" y="279.45" width="3.05" height="10.38" fill="#ec6f6c"/><rect x="280.70" y="289.78" width="3.05" height="10.38" fill="#f9ccca"/><rect x="280.70" y="300.11" width="3.05" height="10.38" fill="#ee7c79"/><rect x="280.70" y="310.44" width="3.05" height="10.38" fill="#f7bebc"/><rect x="280.70" y="320.77" width="3.05" height="10.38" fill="#f8c7c5"/><rect x="283.70" y="227.80" width="1.05" height="10.38" fill="#ed726f"/><rect x="283.70" y="238.13" width="1.05" height="10.38" fill="#f7bcba"/><rect x="283.70" y="248.46" width="1.05" height="10.38" fill="#f29c9a"/><rect x="283.70" y="258.79" width="1.05" height="10.38" fill="#f7bbb9"/><rect x="283.70" y="269.12" width="1.05" height="10.38" fill="#f4a4a2"/><rect x="283.70" y="279.45" width="1.05" height="10.38" fill="#f3a3a1"/><rect x="283.70" y="289.78" width="1.05" height="10.38" fill="#f1918f"/><rect x="283.70" y="300.11" width="1.05" height="10.38" fill="#eb6662"/><rect x="283.70" y="310.44" width="1.05" height="10.38" fill="#ed726f"/><rect x="283.70" y="320.77" width="1.05" height="10.38" fill="#eb6360"/><rect x="284.70" y="227.80" width="1.55" height="10.38" fill="#fad6d4"/><rect x="284.70" y="238.13" width="1.55" height="10.38" fill="#f7bebc"/><rect x="284.70" y="248.46" width="1.55" height="10.38" fill="#fad7d5"/><rect x="284.70" y="258.79" width="1.55" height="10.38" fill="#f4aba9"/><rect x="284.70" y="269.12" width="1.55" height="10.38" fill="#f8c6c4"/><rect x="284.70" y="279.45" width="1.55" height="10.38" fill="#ef8280"/><rect x="284.70" y="289.78" width="1.55" height="10.38" fill="#f29795"/><rect x="284.70" y="300.11" width="1.55" height="10.38" fill="#e8514d"/><rect x="284.70" y="310.44" width="1.55" height="10.38" fill="#fad5d3"/><rect x="284.70" y="320.77" width="1.55" height="10.38" fill="#f3a09e"/><rect x="286.20" y="227.80" width="2.05" height="10.38" fill="#fad2d1"/><rect x="286.20" y="238.13" width="2.05" height="10.38" fill="#f4acaa"/><rect x="286.20" y="248.46" width="2.05" height="10.38" fill="#ee7e7c"/><rect x="286.20" y="258.79" width="2.05" height="10.38" fill="#f6b4b2"/><rect x="286.20" y="269.12" width="2.05" height="10.38" fill="#f5afad"/><rect x="286.20" y="279.45" width="2.05" height="10.38" fill="#f9cdcb"/><rect x="286.20" y="289.78" width="2.05" height="10.38" fill="#f08e8c"/><rect x="286.20" y="300.11" width="2.05" height="10.38" fill="#ec6e6a"/><rect x="286.20" y="310.44" width="2.05" height="10.38" fill="#ee7b79"/><rect x="286.20" y="320.77" width="2.05" height="10.38" fill="#eb625f"/><rect x="288.20" y="227.80" width="2.05" height="10.38" fill="#f8c8c6"/><rect x="288.20" y="238.13" width="2.05" height="10.38" fill="#fad2d1"/><rect x="288.20" y="248.46" width="2.05" height="10.38" fill="#f7bdbb"/><rect x="288.20" y="258.79" width="2.05" height="10.38" fill="#f7bcba"/><rect x="288.20" y="269.12" width="2.05" height="10.38" fill="#fcfdfe"/><rect x="288.20" y="279.45" width="2.05" height="10.38" fill="#fbe2e1"/><rect x="288.20" y="289.78" width="2.05" height="10.38" fill="#f8c8c6"/><rect x="288.20" y="300.11" width="2.05" height="10.38" fill="#f39f9d"/><rect x="288.20" y="310.44" width="2.05" height="10.38" fill="#fdf1f1"/><rect x="288.20" y="320.77" width="2.05" height="10.38" fill="#fdf1f1"/><rect x="290.20" y="227.80" width="2.05" height="10.38" fill="#f08b89"/><rect x="290.20" y="238.13" width="2.05" height="10.38" fill="#f39e9c"/><rect x="290.20" y="248.46" width="2.05" height="10.38" fill="#f6b8b6"/><rect x="290.20" y="258.79" width="2.05" height="10.38" fill="#f6b4b2"/><rect x="290.20" y="269.12" width="2.05" height="10.38" fill="#f8c2c0"/><rect x="290.20" y="279.45" width="2.05" height="10.38" fill="#f39d9b"/><rect x="290.20" y="289.78" width="2.05" height="10.38" fill="#fad7d6"/><rect x="290.20" y="300.11" width="2.05" height="10.38" fill="#f29795"/><rect x="290.20" y="310.44" width="2.05" height="10.38" fill="#ee7d7b"/><rect x="290.20" y="320.77" width="2.05" height="10.38" fill="#f4a8a6"/><rect x="292.20" y="227.80" width="1.55" height="10.38" fill="#f19492"/><rect x="292.20" y="238.13" width="1.55" height="10.38" fill="#fad5d3"/><rect x="292.20" y="248.46" width="1.55" height="10.38" fill="#f4aba9"/><rect x="292.20" y="258.79" width="1.55" height="10.38" fill="#f4aaa8"/><rect x="292.20" y="269.12" width="1.55" height="10.38" fill="#fad6d5"/><rect x="292.20" y="279.45" width="1.55" height="10.38" fill="#f29c9a"/><rect x="292.20" y="289.78" width="1.55" height="10.38" fill="#f18e8c"/><rect x="292.20" y="300.11" width="1.55" height="10.38" fill="#e63d39"/><rect x="292.20" y="310.44" width="1.55" height="10.38" fill="#f18e8c"/><rect x="292.20" y="320.77" width="1.55" height="10.38" fill="#eb6865"/><rect x="293.70" y="227.80" width="1.55" height="10.38" fill="#f3a2a0"/><rect x="293.70" y="238.13" width="1.55" height="10.38" fill="#f39d9b"/><rect x="293.70" y="248.46" width="1.55" height="10.38" fill="#f8c4c2"/><rect x="293.70" y="258.79" width="1.55" height="10.38" fill="#f8c6c4"/><rect x="293.70" y="269.12" width="1.55" height="10.38" fill="#f9d0ce"/><rect x="293.70" y="279.45" width="1.55" height="10.38" fill="#f29a98"/><rect x="293.70" y="289.78" width="1.55" height="10.38" fill="#f9cfce"/><rect x="293.70" y="300.11" width="1.55" height="10.38" fill="#fbdbda"/><rect x="293.70" y="310.44" width="1.55" height="10.38" fill="#f18e8c"/><rect x="293.70" y="320.77" width="1.55" height="10.38" fill="#eb6561"/><rect x="295.20" y="227.80" width="1.05" height="10.38" fill="#f19290"/><rect x="295.20" y="238.13" width="1.05" height="10.38" fill="#fef4f4"/><rect x="295.20" y="248.46" width="1.05" height="10.38" fill="#fbdddb"/><rect x="295.20" y="258.79" width="1.05" height="10.38" fill="#f7c0be"/><rect x="295.20" y="269.12" width="1.05" height="10.38" fill="#f9cbc9"/><rect x="295.20" y="279.45" width="1.05" height="10.38" fill="#f9cecc"/><rect x="295.20" y="289.78" width="1.05" height="10.38" fill="#f6bab8"/><rect x="295.20" y="300.11" width="1.05" height="10.38" fill="#ee7b78"/><rect x="295.20" y="310.44" width="1.05" height="10.38" fill="#ee7a78"/><rect x="295.20" y="320.77" width="1.05" height="10.38" fill="#f29694"/><rect x="296.20" y="227.80" width="3.05" height="10.38" fill="#f9cdcc"/><rect x="296.20" y="238.13" width="3.05" height="10.38" fill="#f29a98"/><rect x="296.20" y="248.46" width="3.05" height="10.38" fill="#f4a8a6"/><rect x="296.20" y="258.79" width="3.05" height="10.38" fill="#f9ccca"/><rect x="296.20" y="269.12" width="3.05" height="10.38" fill="#ee7c79"/><rect x="296.20" y="279.45" width="3.05" height="10.38" fill="#f19391"/><rect x="296.20" y="289.78" width="3.05" height="10.38" fill="#ed7573"/><rect x="296.20" y="300.11" width="3.05" height="10.38" fill="#f08d8b"/><rect x="296.20" y="310.44" width="3.05" height="10.38" fill="#f29b99"/><rect x="296.20" y="320.77" width="3.05" height="10.38" fill="#f4a7a5"/><rect x="299.20" y="227.80" width="1.05" height="10.38" fill="#f9cecc"/><rect x="299.20" y="238.13" width="1.05" height="10.38" fill="#f8c7c5"/><rect x="299.20" y="248.46" width="1.05" height="10.38" fill="#e3e4f3"/><rect x="299.20" y="258.79" width="1.05" height="10.38" fill="#eeeff8"/><rect x="299.20" y="269.12" width="1.05" height="10.38" fill="#f5b3b1"/><rect x="299.20" y="279.45" width="1.05" height="10.38" fill="#f7bfbd"/><rect x="299.20" y="289.78" width="1.05" height="10.38" fill="#f7bfbd"/><rect x="299.20" y="300.11" width="1.05" height="10.38" fill="#ee7b78"/><rect x="299.20" y="310.44" width="1.05" height="10.38" fill="#f3a2a0"/><rect x="299.20" y="320.77" width="1.05" height="10.38" fill="#ec6966"/><rect x="300.20" y="227.80" width="1.55" height="10.38" fill="#ef8684"/><rect x="300.20" y="238.13" width="1.55" height="10.38" fill="#f4a7a5"/><rect x="300.20" y="248.46" width="1.55" height="10.38" fill="#f7bebc"/><rect x="300.20" y="258.79" width="1.55" height="10.38" fill="#fbdddc"/><rect x="300.20" y="269.12" width="1.55" height="10.38" fill="#f4a8a6"/><rect x="300.20" y="279.45" width="1.55" height="10.38" fill="#f8c9c8"/><rect x="300.20" y="289.78" width="1.55" height="10.38" fill="#f8c2c0"/><rect x="300.20" y="300.11" width="1.55" height="10.38" fill="#f18f8d"/><rect x="300.20" y="310.44" width="1.55" height="10.38" fill="#fbdcdb"/><rect x="300.20" y="320.77" width="1.55" height="10.38" fill="#f19391"/><rect x="301.70" y="227.80" width="3.05" height="10.38" fill="#e95753"/><rect x="301.70" y="238.13" width="3.05" height="10.38" fill="#f6b8b6"/><rect x="301.70" y="248.46" width="3.05" height="10.38" fill="#f4f4fa"/><rect x="301.70" y="258.79" width="3.05" height="10.38" fill="#f7bebc"/><rect x="301.70" y="269.12" width="3.05" height="10.38" fill="#f08d8b"/><rect x="301.70" y="279.45" width="3.05" height="10.38" fill="#eb6764"/><rect x="301.70" y="289.78" width="3.05" height="10.38" fill="#f7bfbd"/><rect x="301.70" y="300.11" width="3.05" height="10.38" fill="#ef8280"/><rect x="301.70" y="310.44" width="3.05" height="10.38" fill="#ee7d7a"/><rect x="301.70" y="320.77" width="3.05" height="10.38" fill="#f1918f"/><rect x="304.70" y="227.80" width="1.55" height="10.38" fill="#ffffff"/><rect x="304.70" y="238.13" width="1.55" height="10.38" fill="#f39e9c"/><rect x="304.70" y="248.46" width="1.55" height="10.38" fill="#e0e2f1"/><rect x="304.70" y="258.79" width="1.55" height="10.38" fill="#fce7e6"/><rect x="304.70" y="269.12" width="1.55" height="10.38" fill="#f8c8c6"/><rect x="304.70" y="279.45" width="1.55" height="10.38" fill="#f6b7b5"/><rect x="304.70" y="289.78" width="1.55" height="10.38" fill="#fce9e8"/><rect x="304.70" y="300.11" width="1.55" height="10.38" fill="#f7bfbd"/><rect x="304.70" y="310.44" width="1.55" height="10.38" fill="#f3a19f"/><rect x="304.70" y="320.77" width="1.55" height="10.38" fill="#f1918f"/><rect x="306.20" y="227.80" width="1.55" height="10.38" fill="#fdf2f2"/><rect x="306.20" y="238.13" width="1.55" height="10.38" fill="#fce3e2"/><rect x="306.20" y="248.46" width="1.55" height="10.38" fill="#f9fafc"/><rect x="306.20" y="258.79" width="1.55" height="10.38" fill="#e6e7f4"/><rect x="306.20" y="269.12" width="1.55" height="10.38" fill="#fdf1f1"/><rect x="306.20" y="279.45" width="1.55" height="10.38" fill="#f7bfbd"/><rect x="306.20" y="289.78" width="1.55" height="10.38" fill="#f39d9b"/><rect x="306.20" y="300.11" width="1.55" height="10.38" fill="#f08785"/><rect x="306.20" y="310.44" width="1.55" height="10.38" fill="#f6b4b2"/><rect x="306.20" y="320.77" width="1.55" height="10.38" fill="#f29896"/><rect x="307.70" y="227.80" width="3.05" height="10.38" fill="#f8c4c2"/><rect x="307.70" y="238.13" width="3.05" height="10.38" fill="#f8c6c4"/><rect x="307.70" y="248.46" width="3.05" height="10.38" fill="#fce4e3"/><rect x="307.70" y="258.79" width="3.05" height="10.38" fill="#fbdddc"/><rect x="307.70" y="269.12" width="3.05" height="10.38" fill="#f7c0be"/><rect x="307.70" y="279.45" width="3.05" height="10.38" fill="#f29b99"/><rect x="307.70" y="289.78" width="3.05" height="10.38" fill="#fce8e7"/><rect x="307.70" y="300.11" width="3.05" height="10.38" fill="#ed7370"/><rect x="307.70" y="310.44" width="3.05" height="10.38" fill="#ec6e6b"/><rect x="307.70" y="320.77" width="3.05" height="10.38" fill="#f08a88"/><rect x="310.70" y="227.80" width="1.55" height="10.38" fill="#f9cbc9"/><rect x="310.70" y="238.13" width="1.55" height="10.38" fill="#f3a09e"/><rect x="310.70" y="248.46" width="1.55" height="10.38" fill="#f8c7c5"/><rect x="310.70" y="258.79" width="1.55" height="10.38" fill="#d4d7ec"/><rect x="310.70" y="269.12" width="1.55" height="10.38" fill="#f4aba9"/><rect x="310.70" y="279.45" width="1.55" height="10.38" fill="#ee7875"/><rect x="310.70" y="289.78" width="1.55" height="10.38" fill="#f08987"/><rect x="310.70" y="300.11" width="1.55" height="10.38" fill="#e8524e"/><rect x="310.70" y="310.44" width="1.55" height="10.38" fill="#e95753"/><rect x="310.70" y="320.77" width="1.55" height="10.38" fill="#e84c48"/><rect x="312.20" y="227.80" width="1.55" height="10.38" fill="#ef8482"/><rect x="312.20" y="238.13" width="1.55" height="10.38" fill="#fbdedd"/><rect x="312.20" y="248.46" width="1.55" height="10.38" fill="#f6b5b3"/><rect x="312.20" y="258.79" width="1.55" height="10.38" fill="#fce7e6"/><rect x="312.20" y="269.12" width="1.55" height="10.38" fill="#f29997"/><rect x="312.20" y="279.45" width="1.55" height="10.38" fill="#ef7f7d"/><rect x="312.20" y="289.78" width="1.55" height="10.38" fill="#f08886"/><rect x="312.20" y="300.11" width="1.55" height="10.38" fill="#ea605d"/><rect x="312.20" y="310.44" width="1.55" height="10.38" fill="#ec6f6b"/><rect x="312.20" y="320.77" width="1.55" height="10.38" fill="#e95450"/><rect x="313.70" y="227.80" width="1.55" height="10.38" fill="#f8c6c4"/><rect x="313.70" y="238.13" width="1.55" height="10.38" fill="#f6bab8"/><rect x="313.70" y="248.46" width="1.55" height="10.38" fill="#fef3f2"/><rect x="313.70" y="258.79" width="1.55" height="10.38" fill="#fdebea"/><rect x="313.70" y="269.12" width="1.55" height="10.38" fill="#f9d2d1"/><rect x="313.70" y="279.45" width="1.55" height="10.38" fill="#fad5d4"/><rect x="313.70" y="289.78" width="1.55" height="10.38" fill="#f3a19f"/><rect x="313.70" y="300.11" width="1.55" height="10.38" fill="#fdf1f1"/><rect x="313.70" y="310.44" width="1.55" height="10.38" fill="#f4a7a5"/><rect x="313.70" y="320.77" width="1.55" height="10.38" fill="#f29694"/><rect x="315.20" y="227.80" width="1.55" height="10.38" fill="#f7bcba"/><rect x="315.20" y="238.13" width="1.55" height="10.38" fill="#fad9d8"/><rect x="315.20" y="248.46" width="1.55" height="10.38" fill="#eeeff7"/><rect x="315.20" y="258.79" width="1.55" height="10.38" fill="#fad6d5"/><rect x="315.20" y="269.12" width="1.55" height="10.38" fill="#f3a4a2"/><rect x="315.20" y="279.45" width="1.55" height="10.38" fill="#f3a4a2"/><rect x="315.20" y="289.78" width="1.55" height="10.38" fill="#f6b6b4"/><rect x="315.20" y="300.11" width="1.55" height="10.38" fill="#e95955"/><rect x="315.20" y="310.44" width="1.55" height="10.38" fill="#f3a2a0"/><rect x="315.20" y="320.77" width="1.55" height="10.38" fill="#f8c3c1"/><rect x="316.70" y="227.80" width="2.05" height="10.38" fill="#f9d1d0"/><rect x="316.70" y="238.13" width="2.05" height="10.38" fill="#f5b1af"/><rect x="316.70" y="248.46" width="2.05" height="10.38" fill="#bec1e2"/><rect x="316.70" y="258.79" width="2.05" height="10.38" fill="#fbe1e0"/><rect x="316.70" y="269.12" width="2.05" height="10.38" fill="#f8c3c1"/><rect x="316.70" y="279.45" width="2.05" height="10.38" fill="#f08785"/><rect x="316.70" y="289.78" width="2.05" height="10.38" fill="#f4aba9"/><rect x="316.70" y="300.11" width="2.05" height="10.38" fill="#ec6b68"/><rect x="316.70" y="310.44" width="2.05" height="10.38" fill="#ef8482"/><rect x="316.70" y="320.77" width="2.05" height="10.38" fill="#ec6c69"/><rect x="318.70" y="227.80" width="2.55" height="10.38" fill="#d4d6ec"/><rect x="318.70" y="238.13" width="2.55" height="10.38" fill="#f8c3c1"/><rect x="318.70" y="248.46" width="2.55" height="10.38" fill="#eff0f8"/><rect x="318.70" y="258.79" width="2.55" height="10.38" fill="#b9bce0"/><rect x="318.70" y="269.12" width="2.55" height="10.38" fill="#f8c3c1"/><rect x="318.70" y="279.45" width="2.55" height="10.38" fill="#ec6f6c"/><rect x="318.70" y="289.78" width="2.55" height="10.38" fill="#f9cbc9"/><rect x="318.70" y="300.11" width="2.55" height="10.38" fill="#eb6360"/><rect x="318.70" y="310.44" width="2.55" height="10.38" fill="#ee7875"/><rect x="318.70" y="320.77" width="2.55" height="10.38" fill="#ef807d"/><rect x="321.20" y="227.80" width="2.55" height="10.38" fill="#a1a6d5"/><rect x="321.20" y="238.13" width="2.55" height="10.38" fill="#ed726f"/><rect x="321.20" y="248.46" width="2.55" height="10.38" fill="#fef8f8"/><rect x="321.20" y="258.79" width="2.55" height="10.38" fill="#f9d0ce"/><rect x="321.20" y="269.12" width="2.55" height="10.38" fill="#f39d9b"/><rect x="321.20" y="279.45" width="2.55" height="10.38" fill="#f4a5a3"/><rect x="321.20" y="289.78" width="2.55" height="10.38" fill="#ef7f7d"/><rect x="321.20" y="300.11" width="2.55" height="10.38" fill="#e7423e"/><rect x="321.20" y="310.44" width="2.55" height="10.38" fill="#f1918f"/><rect x="321.20" y="320.77" width="2.55" height="10.38" fill="#ed7674"/><rect x="323.70" y="227.80" width="1.55" height="10.38" fill="#e9eaf5"/><rect x="323.70" y="238.13" width="1.55" height="10.38" fill="#f8c6c4"/><rect x="323.70" y="248.46" width="1.55" height="10.38" fill="#f5aeac"/><rect x="323.70" y="258.79" width="1.55" height="10.38" fill="#fad3d2"/><rect x="323.70" y="269.12" width="1.55" height="10.38" fill="#fbe1e0"/><rect x="323.70" y="279.45" width="1.55" height="10.38" fill="#f9cfcd"/><rect x="323.70" y="289.78" width="1.55" height="10.38" fill="#fad2d1"/><rect x="323.70" y="300.11" width="1.55" height="10.38" fill="#f9cfcd"/><rect x="323.70" y="310.44" width="1.55" height="10.38" fill="#e9534f"/><rect x="323.70" y="320.77" width="1.55" height="10.38" fill="#f9cac8"/><rect x="325.20" y="227.80" width="1.55" height="10.38" fill="#a2a7d5"/><rect x="325.20" y="238.13" width="1.55" height="10.38" fill="#f7bfbd"/><rect x="325.20" y="248.46" width="1.55" height="10.38" fill="#d1d3ea"/><rect x="325.20" y="258.79" width="1.55" height="10.38" fill="#f2f3f9"/><rect x="325.20" y="269.12" width="1.55" height="10.38" fill="#f6b8b6"/><rect x="325.20" y="279.45" width="1.55" height="10.38" fill="#e95753"/><rect x="325.20" y="289.78" width="1.55" height="10.38" fill="#f9d0ce"/><rect x="325.20" y="300.11" width="1.55" height="10.38" fill="#ed7472"/><rect x="325.20" y="310.44" width="1.55" height="10.38" fill="#ef807e"/><rect x="325.20" y="320.77" width="1.55" height="10.38" fill="#ea5b57"/><rect x="326.70" y="227.80" width="2.35" height="10.38" fill="#fad2d1"/><rect x="326.70" y="238.13" width="2.35" height="10.38" fill="#fad6d4"/><rect x="326.70" y="248.46" width="2.35" height="10.38" fill="#d3d5ec"/><rect x="326.70" y="258.79" width="2.35" height="10.38" fill="#fafafd"/><rect x="326.70" y="269.12" width="2.35" height="10.38" fill="#fef4f4"/><rect x="326.70" y="279.45" width="2.35" height="10.38" fill="#ef8583"/><rect x="326.70" y="289.78" width="2.35" height="10.38" fill="#fdf1f1"/><rect x="326.70" y="300.11" width="2.35" height="10.38" fill="#ee7e7b"/><rect x="326.70" y="310.44" width="2.35" height="10.38" fill="#f3a19f"/><rect x="326.70" y="320.77" width="2.35" height="10.38" fill="#f1918f"/><rect x="329.00" y="227.80" width="1.55" height="10.38" fill="#e32420"/><rect x="329.00" y="238.13" width="1.55" height="10.38" fill="#e53531"/><rect x="329.00" y="248.46" width="1.55" height="10.38" fill="#e42f2b"/><rect x="329.00" y="258.79" width="1.55" height="10.38" fill="#e4302c"/><rect x="329.00" y="269.12" width="1.55" height="10.38" fill="#e63935"/><rect x="329.00" y="279.45" width="1.55" height="10.38" fill="#e63b37"/><rect x="329.00" y="289.78" width="1.55" height="10.38" fill="#e63b37"/><rect x="329.00" y="300.11" width="1.55" height="10.38" fill="#e42b27"/><rect x="329.00" y="310.44" width="1.55" height="10.38" fill="#e84a46"/><rect x="329.00" y="320.77" width="1.55" height="10.38" fill="#e6403c"/><rect x="330.50" y="227.80" width="2.05" height="10.38" fill="#e5322e"/><rect x="330.50" y="238.13" width="2.05" height="10.38" fill="#e32622"/><rect x="330.50" y="248.46" width="2.05" height="10.38" fill="#e53430"/><rect x="330.50" y="258.79" width="2.05" height="10.38" fill="#e32622"/><rect x="330.50" y="269.12" width="2.05" height="10.38" fill="#e53430"/><rect x="330.50" y="279.45" width="2.05" height="10.38" fill="#e53834"/><rect x="330.50" y="289.78" width="2.05" height="10.38" fill="#e7433f"/><rect x="330.50" y="300.11" width="2.05" height="10.38" fill="#e5312d"/><rect x="330.50" y="310.44" width="2.05" height="10.38" fill="#e32420"/><rect x="330.50" y="320.77" width="2.05" height="10.38" fill="#e5322e"/><rect x="332.50" y="227.80" width="1.55" height="10.38" fill="#e63d39"/><rect x="332.50" y="238.13" width="1.55" height="10.38" fill="#e42d29"/><rect x="332.50" y="248.46" width="1.55" height="10.38" fill="#e6413d"/><rect x="332.50" y="258.79" width="1.55" height="10.38" fill="#e63e3a"/><rect x="332.50" y="269.12" width="1.55" height="10.38" fill="#e32824"/><rect x="332.50" y="279.45" width="1.55" height="10.38" fill="#e42f2b"/><rect x="332.50" y="289.78" width="1.55" height="10.38" fill="#e42925"/><rect x="332.50" y="300.11" width="1.55" height="10.38" fill="#e5312d"/><rect x="332.50" y="310.44" width="1.55" height="10.38" fill="#e53430"/><rect x="332.50" y="320.77" width="1.55" height="10.38" fill="#e5312d"/><rect x="334.00" y="227.80" width="1.05" height="10.38" fill="#e53632"/><rect x="334.00" y="238.13" width="1.05" height="10.38" fill="#e42925"/><rect x="334.00" y="248.46" width="1.05" height="10.38" fill="#e6403c"/><rect x="334.00" y="258.79" width="1.05" height="10.38" fill="#e74642"/><rect x="334.00" y="269.12" width="1.05" height="10.38" fill="#e63b37"/><rect x="334.00" y="279.45" width="1.05" height="10.38" fill="#e42a26"/><rect x="334.00" y="289.78" width="1.05" height="10.38" fill="#e53834"/><rect x="334.00" y="300.11" width="1.05" height="10.38" fill="#e84a46"/><rect x="334.00" y="310.44" width="1.05" height="10.38" fill="#e32420"/><rect x="334.00" y="320.77" width="1.05" height="10.38" fill="#e63c38"/><rect x="335.00" y="227.80" width="1.55" height="10.38" fill="#e53531"/><rect x="335.00" y="238.13" width="1.55" height="10.38" fill="#e42d29"/><rect x="335.00" y="248.46" width="1.55" height="10.38" fill="#e42f2b"/><rect x="335.00" y="258.79" width="1.55" height="10.38" fill="#e53531"/><rect x="335.00" y="269.12" width="1.55" height="10.38" fill="#e7423e"/><rect x="335.00" y="279.45" width="1.55" height="10.38" fill="#e42e2a"/><rect x="335.00" y="289.78" width="1.55" height="10.38" fill="#e63d39"/><rect x="335.00" y="300.11" width="1.55" height="10.38" fill="#e53531"/><rect x="335.00" y="310.44" width="1.55" height="10.38" fill="#e42b27"/><rect x="335.00" y="320.77" width="1.55" height="10.38" fill="#e53733"/><rect x="336.50" y="227.80" width="0.55" height="10.38" fill="#e74541"/><rect x="336.50" y="238.13" width="0.55" height="10.38" fill="#e63935"/><rect x="336.50" y="248.46" width="0.55" height="10.38" fill="#e42d29"/><rect x="336.50" y="258.79" width="0.55" height="10.38" fill="#e42c28"/><rect x="336.50" y="269.12" width="0.55" height="10.38" fill="#e6403c"/><rect x="336.50" y="279.45" width="0.55" height="10.38" fill="#e5332f"/><rect x="336.50" y="289.78" width="0.55" height="10.38" fill="#e4302c"/><rect x="336.50" y="300.11" width="0.55" height="10.38" fill="#e42824"/><rect x="336.50" y="310.44" width="0.55" height="10.38" fill="#e42f2b"/><rect x="336.50" y="320.77" width="0.55" height="10.38" fill="#e5312d"/><rect x="337.00" y="227.80" width="1.55" height="10.38" fill="#b8bbdf"/><rect x="337.00" y="238.13" width="1.55" height="10.38" fill="#7680c0"/><rect x="337.00" y="248.46" width="1.55" height="10.38" fill="#a0a6d4"/><rect x="337.00" y="258.79" width="1.55" height="10.38" fill="#8f95cc"/><rect x="337.00" y="269.12" width="1.55" height="10.38" fill="#5967b1"/><rect x="337.00" y="279.45" width="1.55" height="10.38" fill="#8e95cc"/><rect x="337.00" y="289.78" width="1.55" height="10.38" fill="#cacce7"/><rect x="337.00" y="300.11" width="1.55" height="10.38" fill="#4455a5"/><rect x="337.00" y="310.44" width="1.55" height="10.38" fill="#9298ce"/><rect x="337.00" y="320.77" width="1.55" height="10.38" fill="#4f5fab"/><rect x="338.50" y="227.80" width="1.55" height="10.38" fill="#f9fafd"/><rect x="338.50" y="238.13" width="1.55" height="10.38" fill="#8d94cb"/><rect x="338.50" y="248.46" width="1.55" height="10.38" fill="#7a83c2"/><rect x="338.50" y="258.79" width="1.55" height="10.38" fill="#8e95cc"/><rect x="338.50" y="269.12" width="1.55" height="10.38" fill="#9ca1d2"/><rect x="338.50" y="279.45" width="1.55" height="10.38" fill="#959bcf"/><rect x="338.50" y="289.78" width="1.55" height="10.38" fill="#5d6bb3"/><rect x="338.50" y="300.11" width="1.55" height="10.38" fill="#4c5caa"/><rect x="338.50" y="310.44" width="1.55" height="10.38" fill="#bec2e2"/><rect x="338.50" y="320.77" width="1.55" height="10.38" fill="#4556a6"/><rect x="340.00" y="227.80" width="1.55" height="10.38" fill="#afb3db"/><rect x="340.00" y="238.13" width="1.55" height="10.38" fill="#b4b8dd"/><rect x="340.00" y="248.46" width="1.55" height="10.38" fill="#bcbfe1"/><rect x="340.00" y="258.79" width="1.55" height="10.38" fill="#6f7abc"/><rect x="340.00" y="269.12" width="1.55" height="10.38" fill="#7e86c4"/><rect x="340.00" y="279.45" width="1.55" height="10.38" fill="#b5b9de"/><rect x="340.00" y="289.78" width="1.55" height="10.38" fill="#f0f0f8"/><rect x="340.00" y="300.11" width="1.55" height="10.38" fill="#4f5eab"/><rect x="340.00" y="310.44" width="1.55" height="10.38" fill="#b0b4dc"/><rect x="340.00" y="320.77" width="1.55" height="10.38" fill="#616eb5"/><rect x="341.50" y="227.80" width="1.05" height="10.38" fill="#e4e5f3"/><rect x="341.50" y="238.13" width="1.05" height="10.38" fill="#d2d4eb"/><rect x="341.50" y="248.46" width="1.05" height="10.38" fill="#888ec9"/><rect x="341.50" y="258.79" width="1.05" height="10.38" fill="#e1e2f2"/><rect x="341.50" y="269.12" width="1.05" height="10.38" fill="#d2d4eb"/><rect x="341.50" y="279.45" width="1.05" height="10.38" fill="#cbcee8"/><rect x="341.50" y="289.78" width="1.05" height="10.38" fill="#9ea3d3"/><rect x="341.50" y="300.11" width="1.05" height="10.38" fill="#4354a4"/><rect x="341.50" y="310.44" width="1.05" height="10.38" fill="#d2d4eb"/><rect x="341.50" y="320.77" width="1.05" height="10.38" fill="#868dc8"/><rect x="342.50" y="227.80" width="1.55" height="10.38" fill="#848cc7"/><rect x="342.50" y="238.13" width="1.55" height="10.38" fill="#717bbd"/><rect x="342.50" y="248.46" width="1.55" height="10.38" fill="#9399ce"/><rect x="342.50" y="258.79" width="1.55" height="10.38" fill="#949acf"/><rect x="342.50" y="269.12" width="1.55" height="10.38" fill="#b7bbdf"/><rect x="342.50" y="279.45" width="1.55" height="10.38" fill="#b9bce0"/><rect x="342.50" y="289.78" width="1.55" height="10.38" fill="#868dc8"/><rect x="342.50" y="300.11" width="1.55" height="10.38" fill="#5261ad"/><rect x="342.50" y="310.44" width="1.55" height="10.38" fill="#d6d8ed"/><rect x="342.50" y="320.77" width="1.55" height="10.38" fill="#7a83c2"/><rect x="344.00" y="227.80" width="1.55" height="10.38" fill="#6c77ba"/><rect x="344.00" y="238.13" width="1.55" height="10.38" fill="#7c84c3"/><rect x="344.00" y="248.46" width="1.55" height="10.38" fill="#8b92ca"/><rect x="344.00" y="258.79" width="1.55" height="10.38" fill="#606db4"/><rect x="344.00" y="269.12" width="1.55" height="10.38" fill="#5866b0"/><rect x="344.00" y="279.45" width="1.55" height="10.38" fill="#4253a4"/><rect x="344.00" y="289.78" width="1.55" height="10.38" fill="#4f5fac"/><rect x="344.00" y="300.11" width="1.55" height="10.38" fill="#5363ae"/><rect x="344.00" y="310.44" width="1.55" height="10.38" fill="#6470b6"/><rect x="344.00" y="320.77" width="1.55" height="10.38" fill="#4e5eab"/><rect x="345.50" y="227.80" width="3.05" height="10.38" fill="#b6bade"/><rect x="345.50" y="238.13" width="3.05" height="10.38" fill="#6d78bb"/><rect x="345.50" y="248.46" width="3.05" height="10.38" fill="#cfd2ea"/><rect x="345.50" y="258.79" width="3.05" height="10.38" fill="#bfc2e3"/><rect x="345.50" y="269.12" width="3.05" height="10.38" fill="#9fa4d4"/><rect x="345.50" y="279.45" width="3.05" height="10.38" fill="#d8daee"/><rect x="345.50" y="289.78" width="3.05" height="10.38" fill="#c1c4e4"/><rect x="345.50" y="300.11" width="3.05" height="10.38" fill="#636fb6"/><rect x="345.50" y="310.44" width="3.05" height="10.38" fill="#ced0e9"/><rect x="345.50" y="320.77" width="3.05" height="10.38" fill="#bbbee1"/><rect x="348.50" y="227.80" width="2.05" height="10.38" fill="#4354a5"/><rect x="348.50" y="238.13" width="2.05" height="10.38" fill="#5867b0"/><rect x="348.50" y="248.46" width="2.05" height="10.38" fill="#4556a6"/><rect x="348.50" y="258.79" width="2.05" height="10.38" fill="#838ac6"/><rect x="348.50" y="269.12" width="2.05" height="10.38" fill="#848bc7"/><rect x="348.50" y="279.45" width="2.05" height="10.38" fill="#858cc8"/><rect x="348.50" y="289.78" width="2.05" height="10.38" fill="#4052a3"/><rect x="348.50" y="300.11" width="2.05" height="10.38" fill="#5665af"/><rect x="348.50" y="310.44" width="2.05" height="10.38" fill="#5b69b1"/><rect x="348.50" y="320.77" width="2.05" height="10.38" fill="#5a68b1"/><rect x="350.50" y="227.80" width="2.05" height="10.38" fill="#8e95cc"/><rect x="350.50" y="238.13" width="2.05" height="10.38" fill="#7780c0"/><rect x="350.50" y="248.46" width="2.05" height="10.38" fill="#979dd0"/><rect x="350.50" y="258.79" width="2.05" height="10.38" fill="#c0c3e3"/><rect x="350.50" y="269.12" width="2.05" height="10.38" fill="#acb0da"/><rect x="350.50" y="279.45" width="2.05" height="10.38" fill="#606db4"/><rect x="350.50" y="289.78" width="2.05" height="10.38" fill="#b1b5dc"/><rect x="350.50" y="300.11" width="2.05" height="10.38" fill="#505fac"/><rect x="350.50" y="310.44" width="2.05" height="10.38" fill="#d3d5ec"/><rect x="350.50" y="320.77" width="2.05" height="10.38" fill="#b1b5dc"/><rect x="352.50" y="227.80" width="1.05" height="10.38" fill="#7680c0"/><rect x="352.50" y="238.13" width="1.05" height="10.38" fill="#b2b6dc"/><rect x="352.50" y="248.46" width="1.05" height="10.38" fill="#b6badf"/><rect x="352.50" y="258.79" width="1.05" height="10.38" fill="#9fa5d4"/><rect x="352.50" y="269.12" width="1.05" height="10.38" fill="#b3b7dd"/><rect x="352.50" y="279.45" width="1.05" height="10.38" fill="#9399ce"/><rect x="352.50" y="289.78" width="1.05" height="10.38" fill="#9198cd"/><rect x="352.50" y="300.11" width="1.05" height="10.38" fill="#5564af"/><rect x="352.50" y="310.44" width="1.05" height="10.38" fill="#fce7e7"/><rect x="352.50" y="320.77" width="1.05" height="10.38" fill="#5866b0"/><rect x="353.50" y="227.80" width="2.05" height="10.38" fill="#a4a9d6"/><rect x="353.50" y="238.13" width="2.05" height="10.38" fill="#959bcf"/><rect x="353.50" y="248.46" width="2.05" height="10.38" fill="#9ca2d2"/><rect x="353.50" y="258.79" width="2.05" height="10.38" fill="#dfe1f1"/><rect x="353.50" y="269.12" width="2.05" height="10.38" fill="#c2c5e4"/><rect x="353.50" y="279.45" width="2.05" height="10.38" fill="#6c77bb"/><rect x="353.50" y="289.78" width="2.05" height="10.38" fill="#757fbf"/><rect x="353.50" y="300.11" width="2.05" height="10.38" fill="#5d6ab3"/><rect x="353.50" y="310.44" width="2.05" height="10.38" fill="#c9cbe7"/><rect x="353.50" y="320.77" width="2.05" height="10.38" fill="#5664af"/><rect x="355.50" y="227.80" width="2.55" height="10.38" fill="#e8e9f5"/><rect x="355.50" y="238.13" width="2.55" height="10.38" fill="#6874b8"/><rect x="355.50" y="248.46" width="2.55" height="10.38" fill="#bbbfe1"/><rect x="355.50" y="258.79" width="2.55" height="10.38" fill="#b4b8dd"/><rect x="355.50" y="269.12" width="2.55" height="10.38" fill="#9298cd"/><rect x="355.50" y="279.45" width="2.55" height="10.38" fill="#babde0"/><rect x="355.50" y="289.78" width="2.55" height="10.38" fill="#6f7abc"/><rect x="355.50" y="300.11" width="2.55" height="10.38" fill="#8189c6"/><rect x="355.50" y="310.44" width="2.55" height="10.38" fill="#c4c7e5"/><rect x="355.50" y="320.77" width="2.55" height="10.38" fill="#949acf"/><rect x="358.00" y="227.80" width="2.55" height="10.38" fill="#ced0e9"/><rect x="358.00" y="238.13" width="2.55" height="10.38" fill="#616eb5"/><rect x="358.00" y="248.46" width="2.55" height="10.38" fill="#6571b7"/><rect x="358.00" y="258.79" width="2.55" height="10.38" fill="#7f87c4"/><rect x="358.00" y="269.12" width="2.55" height="10.38" fill="#8990c9"/><rect x="358.00" y="279.45" width="2.55" height="10.38" fill="#767fc0"/><rect x="358.00" y="289.78" width="2.55" height="10.38" fill="#4c5caa"/><rect x="358.00" y="300.11" width="2.55" height="10.38" fill="#707bbd"/><rect x="358.00" y="310.44" width="2.55" height="10.38" fill="#9298cd"/><rect x="358.00" y="320.77" width="2.55" height="10.38" fill="#5261ad"/><rect x="360.50" y="227.80" width="1.55" height="10.38" fill="#f9f9fc"/><rect x="360.50" y="238.13" width="1.55" height="10.38" fill="#fafbfd"/><rect x="360.50" y="248.46" width="1.55" height="10.38" fill="#ecedf6"/><rect x="360.50" y="258.79" width="1.55" height="10.38" fill="#abafd9"/><rect x="360.50" y="269.12" width="1.55" height="10.38" fill="#b8bce0"/><rect x="360.50" y="279.45" width="1.55" height="10.38" fill="#d1d3eb"/><rect x="360.50" y="289.78" width="1.55" height="10.38" fill="#b1b6dc"/><rect x="360.50" y="300.11" width="1.55" height="10.38" fill="#5161ac"/><rect x="360.50" y="310.44" width="1.55" height="10.38" fill="#8b92cb"/><rect x="360.50" y="320.77" width="1.55" height="10.38" fill="#9096cd"/><rect x="362.00" y="227.80" width="1.05" height="10.38" fill="#c3c6e4"/><rect x="362.00" y="238.13" width="1.05" height="10.38" fill="#9ea4d3"/><rect x="362.00" y="248.46" width="1.05" height="10.38" fill="#b1b5dc"/><rect x="362.00" y="258.79" width="1.05" height="10.38" fill="#c2c5e4"/><rect x="362.00" y="269.12" width="1.05" height="10.38" fill="#c1c4e3"/><rect x="362.00" y="279.45" width="1.05" height="10.38" fill="#b7bbdf"/><rect x="362.00" y="289.78" width="1.05" height="10.38" fill="#bcbfe1"/><rect x="362.00" y="300.11" width="1.05" height="10.38" fill="#7a83c2"/><rect x="362.00" y="310.44" width="1.05" height="10.38" fill="#afb3db"/><rect x="362.00" y="320.77" width="1.05" height="10.38" fill="#747ebf"/><rect x="363.00" y="227.80" width="1.55" height="10.38" fill="#757fbf"/><rect x="363.00" y="238.13" width="1.55" height="10.38" fill="#4657a6"/><rect x="363.00" y="248.46" width="1.55" height="10.38" fill="#6e79bc"/><rect x="363.00" y="258.79" width="1.55" height="10.38" fill="#5e6cb3"/><rect x="363.00" y="269.12" width="1.55" height="10.38" fill="#5160ac"/><rect x="363.00" y="279.45" width="1.55" height="10.38" fill="#4758a7"/><rect x="363.00" y="289.78" width="1.55" height="10.38" fill="#626fb5"/><rect x="363.00" y="300.11" width="1.55" height="10.38" fill="#4c5ca9"/><rect x="363.00" y="310.44" width="1.55" height="10.38" fill="#6e79bb"/><rect x="363.00" y="320.77" width="1.55" height="10.38" fill="#2c4098"/><rect x="364.50" y="227.80" width="1.55" height="10.38" fill="#dedff0"/><rect x="364.50" y="238.13" width="1.55" height="10.38" fill="#5b68b1"/><rect x="364.50" y="248.46" width="1.55" height="10.38" fill="#4e5dab"/><rect x="364.50" y="258.79" width="1.55" height="10.38" fill="#a3a8d5"/><rect x="364.50" y="269.12" width="1.55" height="10.38" fill="#5c6ab2"/><rect x="364.50" y="279.45" width="1.55" height="10.38" fill="#5765af"/><rect x="364.50" y="289.78" width="1.55" height="10.38" fill="#7d86c3"/><rect x="364.50" y="300.11" width="1.55" height="10.38" fill="#2c4098"/><rect x="364.50" y="310.44" width="1.55" height="10.38" fill="#6672b7"/><rect x="364.50" y="320.77" width="1.55" height="10.38" fill="#6d78bb"/><rect x="366.00" y="227.80" width="3.05" height="10.38" fill="#7b84c2"/><rect x="366.00" y="238.13" width="3.05" height="10.38" fill="#5a68b1"/><rect x="366.00" y="248.46" width="3.05" height="10.38" fill="#4e5eab"/><rect x="366.00" y="258.79" width="3.05" height="10.38" fill="#5d6bb3"/><rect x="366.00" y="269.12" width="3.05" height="10.38" fill="#6975b9"/><rect x="366.00" y="279.45" width="3.05" height="10.38" fill="#7c84c3"/><rect x="366.00" y="289.78" width="3.05" height="10.38" fill="#32459b"/><rect x="366.00" y="300.11" width="3.05" height="10.38" fill="#4d5daa"/><rect x="366.00" y="310.44" width="3.05" height="10.38" fill="#757fbf"/><rect x="366.00" y="320.77" width="3.05" height="10.38" fill="#2c4098"/><rect x="369.00" y="227.80" width="1.55" height="10.38" fill="#c6c9e6"/><rect x="369.00" y="238.13" width="1.55" height="10.38" fill="#dbddef"/><rect x="369.00" y="248.46" width="1.55" height="10.38" fill="#959bcf"/><rect x="369.00" y="258.79" width="1.55" height="10.38" fill="#717bbd"/><rect x="369.00" y="269.12" width="1.55" height="10.38" fill="#aaafd9"/><rect x="369.00" y="279.45" width="1.55" height="10.38" fill="#6a76ba"/><rect x="369.00" y="289.78" width="1.55" height="10.38" fill="#616eb5"/><rect x="369.00" y="300.11" width="1.55" height="10.38" fill="#8a91ca"/><rect x="369.00" y="310.44" width="1.55" height="10.38" fill="#acb0da"/><rect x="369.00" y="320.77" width="1.55" height="10.38" fill="#7a83c2"/><rect x="370.50" y="227.80" width="2.05" height="10.38" fill="#e5e6f4"/><rect x="370.50" y="238.13" width="2.05" height="10.38" fill="#afb3db"/><rect x="370.50" y="248.46" width="2.05" height="10.38" fill="#f1f2f9"/><rect x="370.50" y="258.79" width="2.05" height="10.38" fill="#babde0"/><rect x="370.50" y="269.12" width="2.05" height="10.38" fill="#a4a9d6"/><rect x="370.50" y="279.45" width="2.05" height="10.38" fill="#d1d4eb"/><rect x="370.50" y="289.78" width="2.05" height="10.38" fill="#939ace"/><rect x="370.50" y="300.11" width="2.05" height="10.38" fill="#9a9fd1"/><rect x="370.50" y="310.44" width="2.05" height="10.38" fill="#d5d7ec"/><rect x="370.50" y="320.77" width="2.05" height="10.38" fill="#8e95cc"/><rect x="372.50" y="227.80" width="2.55" height="10.38" fill="#fad9d8"/><rect x="372.50" y="238.13" width="2.55" height="10.38" fill="#c3c6e4"/><rect x="372.50" y="248.46" width="2.55" height="10.38" fill="#fffefd"/><rect x="372.50" y="258.79" width="2.55" height="10.38" fill="#fdebea"/><rect x="372.50" y="269.12" width="2.55" height="10.38" fill="#dfe0f1"/><rect x="372.50" y="279.45" width="2.55" height="10.38" fill="#a9aed8"/><rect x="372.50" y="289.78" width="2.55" height="10.38" fill="#e8e9f5"/><rect x="372.50" y="300.11" width="2.55" height="10.38" fill="#8289c6"/><rect x="372.50" y="310.44" width="2.55" height="10.38" fill="#e1e2f2"/><rect x="372.50" y="320.77" width="2.55" height="10.38" fill="#616eb5"/><rect x="375.00" y="227.80" width="1.55" height="10.38" fill="#fdf0ef"/><rect x="375.00" y="238.13" width="1.55" height="10.38" fill="#757fbf"/><rect x="375.00" y="248.46" width="1.55" height="10.38" fill="#e1e2f2"/><rect x="375.00" y="258.79" width="1.55" height="10.38" fill="#f0f1f9"/><rect x="375.00" y="269.12" width="1.55" height="10.38" fill="#969ccf"/><rect x="375.00" y="279.45" width="1.55" height="10.38" fill="#949ace"/><rect x="375.00" y="289.78" width="1.55" height="10.38" fill="#6773b8"/><rect x="375.00" y="300.11" width="1.55" height="10.38" fill="#999fd1"/><rect x="375.00" y="310.44" width="1.55" height="10.38" fill="#fefeff"/><rect x="375.00" y="320.77" width="1.55" height="10.38" fill="#8b92ca"/><rect x="376.50" y="227.80" width="1.55" height="10.38" fill="#f8c8c6"/><rect x="376.50" y="238.13" width="1.55" height="10.38" fill="#7b84c2"/><rect x="376.50" y="248.46" width="1.55" height="10.38" fill="#5b69b1"/><rect x="376.50" y="258.79" width="1.55" height="10.38" fill="#3b4da0"/><rect x="376.50" y="269.12" width="1.55" height="10.38" fill="#b3b7dd"/><rect x="376.50" y="279.45" width="1.55" height="10.38" fill="#4d5daa"/><rect x="376.50" y="289.78" width="1.55" height="10.38" fill="#7a83c2"/><rect x="376.50" y="300.11" width="1.55" height="10.38" fill="#3d4fa2"/><rect x="376.50" y="310.44" width="1.55" height="10.38" fill="#757fbf"/><rect x="376.50" y="320.77" width="1.55" height="10.38" fill="#2f439a"/><rect x="378.00" y="227.80" width="2.05" height="10.38" fill="#f9cdcb"/><rect x="378.00" y="238.13" width="2.05" height="10.38" fill="#aaafd9"/><rect x="378.00" y="248.46" width="2.05" height="10.38" fill="#9aa0d2"/><rect x="378.00" y="258.79" width="2.05" height="10.38" fill="#fef8f8"/><rect x="378.00" y="269.12" width="2.05" height="10.38" fill="#a0a6d4"/><rect x="378.00" y="279.45" width="2.05" height="10.38" fill="#b7bbdf"/><rect x="378.00" y="289.78" width="2.05" height="10.38" fill="#c4c7e5"/><rect x="378.00" y="300.11" width="2.05" height="10.38" fill="#949acf"/><rect x="378.00" y="310.44" width="2.05" height="10.38" fill="#dcdef0"/><rect x="378.00" y="320.77" width="2.05" height="10.38" fill="#a1a7d5"/><rect x="380.00" y="227.80" width="2.05" height="10.38" fill="#fefeff"/><rect x="380.00" y="238.13" width="2.05" height="10.38" fill="#9ea4d3"/><rect x="380.00" y="248.46" width="2.05" height="10.38" fill="#e5e7f4"/><rect x="380.00" y="258.79" width="2.05" height="10.38" fill="#dfe0f1"/><rect x="380.00" y="269.12" width="2.05" height="10.38" fill="#8289c6"/><rect x="380.00" y="279.45" width="2.05" height="10.38" fill="#949ace"/><rect x="380.00" y="289.78" width="2.05" height="10.38" fill="#6a75b9"/><rect x="380.00" y="300.11" width="2.05" height="10.38" fill="#949acf"/><rect x="380.00" y="310.44" width="2.05" height="10.38" fill="#7c85c3"/><rect x="380.00" y="320.77" width="2.05" height="10.38" fill="#989ed1"/><rect x="382.00" y="227.80" width="2.55" height="10.38" fill="#fbdbd9"/><rect x="382.00" y="238.13" width="2.55" height="10.38" fill="#6975b9"/><rect x="382.00" y="248.46" width="2.55" height="10.38" fill="#8b92cb"/><rect x="382.00" y="258.79" width="2.55" height="10.38" fill="#fef4f3"/><rect x="382.00" y="269.12" width="2.55" height="10.38" fill="#8c93cb"/><rect x="382.00" y="279.45" width="2.55" height="10.38" fill="#737dbe"/><rect x="382.00" y="289.78" width="2.55" height="10.38" fill="#6874b8"/><rect x="382.00" y="300.11" width="2.55" height="10.38" fill="#5362ae"/><rect x="382.00" y="310.44" width="2.55" height="10.38" fill="#6d78bb"/><rect x="382.00" y="320.77" width="2.55" height="10.38" fill="#394b9f"/><rect x="384.50" y="227.80" width="1.55" height="10.38" fill="#f9cfcd"/><rect x="384.50" y="238.13" width="1.55" height="10.38" fill="#f2f3f9"/><rect x="384.50" y="248.46" width="1.55" height="10.38" fill="#fffefe"/><rect x="384.50" y="258.79" width="1.55" height="10.38" fill="#fbfbfd"/><rect x="384.50" y="269.12" width="1.55" height="10.38" fill="#e6e8f4"/><rect x="384.50" y="279.45" width="1.55" height="10.38" fill="#f4f4fa"/><rect x="384.50" y="289.78" width="1.55" height="10.38" fill="#babde0"/><rect x="384.50" y="300.11" width="1.55" height="10.38" fill="#aeb3db"/><rect x="384.50" y="310.44" width="1.55" height="10.38" fill="#dfe1f1"/><rect x="384.50" y="320.77" width="1.55" height="10.38" fill="#858cc7"/><rect x="386.00" y="227.80" width="1.05" height="10.38" fill="#bdc0e1"/><rect x="386.00" y="238.13" width="1.05" height="10.38" fill="#7a83c2"/><rect x="386.00" y="248.46" width="1.05" height="10.38" fill="#999fd1"/><rect x="386.00" y="258.79" width="1.05" height="10.38" fill="#5c6ab2"/><rect x="386.00" y="269.12" width="1.05" height="10.38" fill="#e1e3f2"/><rect x="386.00" y="279.45" width="1.05" height="10.38" fill="#b8bcdf"/><rect x="386.00" y="289.78" width="1.05" height="10.38" fill="#9ba0d2"/><rect x="386.00" y="300.11" width="1.05" height="10.38" fill="#7b84c2"/><rect x="386.00" y="310.44" width="1.05" height="10.38" fill="#e5e6f4"/><rect x="386.00" y="320.77" width="1.05" height="10.38" fill="#5765af"/><rect x="387.00" y="227.80" width="1.55" height="10.38" fill="#f7c2c0"/><rect x="387.00" y="238.13" width="1.55" height="10.38" fill="#b7bbdf"/><rect x="387.00" y="248.46" width="1.55" height="10.38" fill="#a9aed9"/><rect x="387.00" y="258.79" width="1.55" height="10.38" fill="#9a9fd1"/><rect x="387.00" y="269.12" width="1.55" height="10.38" fill="#959bcf"/><rect x="387.00" y="279.45" width="1.55" height="10.38" fill="#bfc2e3"/><rect x="387.00" y="289.78" width="1.55" height="10.38" fill="#a3a9d6"/><rect x="387.00" y="300.11" width="1.55" height="10.38" fill="#5362ae"/><rect x="387.00" y="310.44" width="1.55" height="10.38" fill="#9a9fd1"/><rect x="387.00" y="320.77" width="1.55" height="10.38" fill="#8b92ca"/><rect x="388.50" y="227.80" width="1.05" height="10.38" fill="#a0a5d4"/><rect x="388.50" y="238.13" width="1.05" height="10.38" fill="#7d86c3"/><rect x="388.50" y="248.46" width="1.05" height="10.38" fill="#8b91ca"/><rect x="388.50" y="258.79" width="1.05" height="10.38" fill="#9299ce"/><rect x="388.50" y="269.12" width="1.05" height="10.38" fill="#babde0"/><rect x="388.50" y="279.45" width="1.05" height="10.38" fill="#727cbd"/><rect x="388.50" y="289.78" width="1.05" height="10.38" fill="#c2c5e4"/><rect x="388.50" y="300.11" width="1.05" height="10.38" fill="#7c85c3"/><rect x="388.50" y="310.44" width="1.05" height="10.38" fill="#ecedf6"/><rect x="388.50" y="320.77" width="1.05" height="10.38" fill="#5b68b1"/><rect x="389.50" y="227.80" width="2.55" height="10.38" fill="#fdeded"/><rect x="389.50" y="238.13" width="2.55" height="10.38" fill="#7c84c3"/><rect x="389.50" y="248.46" width="2.55" height="10.38" fill="#7780c0"/><rect x="389.50" y="258.79" width="2.55" height="10.38" fill="#36499e"/><rect x="389.50" y="269.12" width="2.55" height="10.38" fill="#8b92ca"/><rect x="389.50" y="279.45" width="2.55" height="10.38" fill="#8990ca"/><rect x="389.50" y="289.78" width="2.55" height="10.38" fill="#626fb5"/><rect x="389.50" y="300.11" width="2.55" height="10.38" fill="#4b5ba9"/><rect x="389.50" y="310.44" width="2.55" height="10.38" fill="#8f96cc"/><rect x="389.50" y="320.77" width="2.55" height="10.38" fill="#4c5caa"/><rect x="392.00" y="227.80" width="1.55" height="10.38" fill="#a3a8d6"/><rect x="392.00" y="238.13" width="1.55" height="10.38" fill="#394b9f"/><rect x="392.00" y="248.46" width="1.55" height="10.38" fill="#7780c0"/><rect x="392.00" y="258.79" width="1.55" height="10.38" fill="#969ccf"/><rect x="392.00" y="269.12" width="1.55" height="10.38" fill="#606db4"/><rect x="392.00" y="279.45" width="1.55" height="10.38" fill="#999ed1"/><rect x="392.00" y="289.78" width="1.55" height="10.38" fill="#6b76ba"/><rect x="392.00" y="300.11" width="1.55" height="10.38" fill="#4959a8"/><rect x="392.00" y="310.44" width="1.55" height="10.38" fill="#a2a7d5"/><rect x="392.00" y="320.77" width="1.55" height="10.38" fill="#4e5eab"/><rect x="393.50" y="227.80" width="3.05" height="10.38" fill="#7982c1"/><rect x="393.50" y="238.13" width="3.05" height="10.38" fill="#a5aad7"/><rect x="393.50" y="248.46" width="3.05" height="10.38" fill="#a4a9d6"/><rect x="393.50" y="258.79" width="3.05" height="10.38" fill="#767fc0"/><rect x="393.50" y="269.12" width="3.05" height="10.38" fill="#dee0f1"/><rect x="393.50" y="279.45" width="3.05" height="10.38" fill="#4052a3"/><rect x="393.50" y="289.78" width="3.05" height="10.38" fill="#acb0da"/><rect x="393.50" y="300.11" width="3.05" height="10.38" fill="#9197cd"/><rect x="393.50" y="310.44" width="3.05" height="10.38" fill="#9ea4d3"/><rect x="393.50" y="320.77" width="3.05" height="10.38" fill="#4052a3"/><rect x="396.50" y="227.80" width="2.05" height="10.38" fill="#c4c7e5"/><rect x="396.50" y="238.13" width="2.05" height="10.38" fill="#a0a5d4"/><rect x="396.50" y="248.46" width="2.05" height="10.38" fill="#7b83c2"/><rect x="396.50" y="258.79" width="2.05" height="10.38" fill="#878ec8"/><rect x="396.50" y="269.12" width="2.05" height="10.38" fill="#cacce7"/><rect x="396.50" y="279.45" width="2.05" height="10.38" fill="#6e79bc"/><rect x="396.50" y="289.78" width="2.05" height="10.38" fill="#9da2d3"/><rect x="396.50" y="300.11" width="2.05" height="10.38" fill="#5664af"/><rect x="396.50" y="310.44" width="2.05" height="10.38" fill="#b5b9de"/><rect x="396.50" y="320.77" width="2.05" height="10.38" fill="#a4a9d6"/><rect x="398.50" y="227.80" width="1.05" height="10.38" fill="#c0c3e3"/><rect x="398.50" y="238.13" width="1.05" height="10.38" fill="#bbbee1"/><rect x="398.50" y="248.46" width="1.05" height="10.38" fill="#757fbf"/><rect x="398.50" y="258.79" width="1.05" height="10.38" fill="#848bc7"/><rect x="398.50" y="269.12" width="1.05" height="10.38" fill="#dcdef0"/><rect x="398.50" y="279.45" width="1.05" height="10.38" fill="#858cc7"/><rect x="398.50" y="289.78" width="1.05" height="10.38" fill="#8e94cc"/><rect x="398.50" y="300.11" width="1.05" height="10.38" fill="#9ca2d2"/><rect x="398.50" y="310.44" width="1.05" height="10.38" fill="#acb1da"/><rect x="398.50" y="320.77" width="1.05" height="10.38" fill="#6773b8"/><rect x="399.50" y="227.80" width="2.05" height="10.38" fill="#b5b9de"/><rect x="399.50" y="238.13" width="2.05" height="10.38" fill="#838bc6"/><rect x="399.50" y="248.46" width="2.05" height="10.38" fill="#c4c7e5"/><rect x="399.50" y="258.79" width="2.05" height="10.38" fill="#b0b4db"/><rect x="399.50" y="269.12" width="2.05" height="10.38" fill="#a9aed8"/><rect x="399.50" y="279.45" width="2.05" height="10.38" fill="#ececf6"/><rect x="399.50" y="289.78" width="2.05" height="10.38" fill="#9197cd"/><rect x="399.50" y="300.11" width="2.05" height="10.38" fill="#8088c5"/><rect x="399.50" y="310.44" width="2.05" height="10.38" fill="#e4e5f3"/><rect x="399.50" y="320.77" width="2.05" height="10.38" fill="#8088c5"/><rect x="401.50" y="227.80" width="3.05" height="10.38" fill="#d5d7ec"/><rect x="401.50" y="238.13" width="3.05" height="10.38" fill="#8189c5"/><rect x="401.50" y="248.46" width="3.05" height="10.38" fill="#9096cd"/><rect x="401.50" y="258.79" width="3.05" height="10.38" fill="#9ea3d3"/><rect x="401.50" y="269.12" width="3.05" height="10.38" fill="#fdfefe"/><rect x="401.50" y="279.45" width="3.05" height="10.38" fill="#f2f3f9"/><rect x="401.50" y="289.78" width="3.05" height="10.38" fill="#8a91ca"/><rect x="401.50" y="300.11" width="3.05" height="10.38" fill="#35489d"/><rect x="401.50" y="310.44" width="3.05" height="10.38" fill="#d6d8ed"/><rect x="401.50" y="320.77" width="3.05" height="10.38" fill="#4051a3"/><rect x="404.50" y="227.80" width="2.05" height="10.38" fill="#c7cae6"/><rect x="404.50" y="238.13" width="2.05" height="10.38" fill="#959bcf"/><rect x="404.50" y="248.46" width="2.05" height="10.38" fill="#959bcf"/><rect x="404.50" y="258.79" width="2.05" height="10.38" fill="#838bc7"/><rect x="404.50" y="269.12" width="2.05" height="10.38" fill="#707abd"/><rect x="404.50" y="279.45" width="2.05" height="10.38" fill="#bec1e2"/><rect x="404.50" y="289.78" width="2.05" height="10.38" fill="#8e94cc"/><rect x="404.50" y="300.11" width="2.05" height="10.38" fill="#999fd1"/><rect x="404.50" y="310.44" width="2.05" height="10.38" fill="#767fc0"/><rect x="404.50" y="320.77" width="2.05" height="10.38" fill="#616eb5"/><rect x="406.50" y="227.80" width="1.55" height="10.38" fill="#5f6cb3"/><rect x="406.50" y="238.13" width="1.55" height="10.38" fill="#4b5ba9"/><rect x="406.50" y="248.46" width="1.55" height="10.38" fill="#495aa8"/><rect x="406.50" y="258.79" width="1.55" height="10.38" fill="#5362ad"/><rect x="406.50" y="269.12" width="1.55" height="10.38" fill="#8088c5"/><rect x="406.50" y="279.45" width="1.55" height="10.38" fill="#737dbe"/><rect x="406.50" y="289.78" width="1.55" height="10.38" fill="#4f5fac"/><rect x="406.50" y="300.11" width="1.55" height="10.38" fill="#4b5ba9"/><rect x="406.50" y="310.44" width="1.55" height="10.38" fill="#9399ce"/><rect x="406.50" y="320.77" width="1.55" height="10.38" fill="#495aa8"/><rect x="408.00" y="227.80" width="2.05" height="10.38" fill="#bec1e2"/><rect x="408.00" y="238.13" width="2.05" height="10.38" fill="#6d78bb"/><rect x="408.00" y="248.46" width="2.05" height="10.38" fill="#36499d"/><rect x="408.00" y="258.79" width="2.05" height="10.38" fill="#4758a7"/><rect x="408.00" y="269.12" width="2.05" height="10.38" fill="#5665af"/><rect x="408.00" y="279.45" width="2.05" height="10.38" fill="#5564ae"/><rect x="408.00" y="289.78" width="2.05" height="10.38" fill="#6d78bb"/><rect x="408.00" y="300.11" width="2.05" height="10.38" fill="#2c4098"/><rect x="408.00" y="310.44" width="2.05" height="10.38" fill="#4c5caa"/><rect x="408.00" y="320.77" width="2.05" height="10.38" fill="#4354a5"/><rect x="410.00" y="227.80" width="2.05" height="10.38" fill="#c8cae7"/><rect x="410.00" y="238.13" width="2.05" height="10.38" fill="#6d78bb"/><rect x="410.00" y="248.46" width="2.05" height="10.38" fill="#757fbf"/><rect x="410.00" y="258.79" width="2.05" height="10.38" fill="#7881c1"/><rect x="410.00" y="269.12" width="2.05" height="10.38" fill="#7780c0"/><rect x="410.00" y="279.45" width="2.05" height="10.38" fill="#9da2d3"/><rect x="410.00" y="289.78" width="2.05" height="10.38" fill="#8189c6"/><rect x="410.00" y="300.11" width="2.05" height="10.38" fill="#8990ca"/><rect x="410.00" y="310.44" width="2.05" height="10.38" fill="#7c84c3"/><rect x="410.00" y="320.77" width="2.05" height="10.38" fill="#4758a7"/><rect x="412.00" y="227.80" width="3.05" height="10.38" fill="#9399ce"/><rect x="412.00" y="238.13" width="3.05" height="10.38" fill="#a3a8d6"/><rect x="412.00" y="248.46" width="3.05" height="10.38" fill="#acb1da"/><rect x="412.00" y="258.79" width="3.05" height="10.38" fill="#7a83c2"/><rect x="412.00" y="269.12" width="3.05" height="10.38" fill="#616eb5"/><rect x="412.00" y="279.45" width="3.05" height="10.38" fill="#5766b0"/><rect x="412.00" y="289.78" width="3.05" height="10.38" fill="#8f96cc"/><rect x="412.00" y="300.11" width="3.05" height="10.38" fill="#4f5fab"/><rect x="412.00" y="310.44" width="3.05" height="10.38" fill="#838bc7"/><rect x="412.00" y="320.77" width="3.05" height="10.38" fill="#7881c1"/><rect x="415.00" y="227.80" width="1.05" height="10.38" fill="#aaaed9"/><rect x="415.00" y="238.13" width="1.05" height="10.38" fill="#868dc8"/><rect x="415.00" y="248.46" width="1.05" height="10.38" fill="#949acf"/><rect x="415.00" y="258.79" width="1.05" height="10.38" fill="#7680c0"/><rect x="415.00" y="269.12" width="1.05" height="10.38" fill="#7781c0"/><rect x="415.00" y="279.45" width="1.05" height="10.38" fill="#b0b4db"/><rect x="415.00" y="289.78" width="1.05" height="10.38" fill="#a8acd8"/><rect x="415.00" y="300.11" width="1.05" height="10.38" fill="#6470b6"/><rect x="415.00" y="310.44" width="1.05" height="10.38" fill="#8a90ca"/><rect x="415.00" y="320.77" width="1.05" height="10.38" fill="#616eb5"/><rect x="416.00" y="227.80" width="2.05" height="10.38" fill="#848cc7"/><rect x="416.00" y="238.13" width="2.05" height="10.38" fill="#4b5ba9"/><rect x="416.00" y="248.46" width="2.05" height="10.38" fill="#858dc8"/><rect x="416.00" y="258.79" width="2.05" height="10.38" fill="#737dbe"/><rect x="416.00" y="269.12" width="2.05" height="10.38" fill="#7a83c2"/><rect x="416.00" y="279.45" width="2.05" height="10.38" fill="#6672b7"/><rect x="416.00" y="289.78" width="2.05" height="10.38" fill="#8c93cb"/><rect x="416.00" y="300.11" width="2.05" height="10.38" fill="#6975b9"/><rect x="416.00" y="310.44" width="2.05" height="10.38" fill="#b0b5dc"/><rect x="416.00" y="320.77" width="2.05" height="10.38" fill="#606db4"/><rect x="418.00" y="227.80" width="1.05" height="10.38" fill="#aaafd9"/><rect x="418.00" y="238.13" width="1.05" height="10.38" fill="#868dc8"/><rect x="418.00" y="248.46" width="1.05" height="10.38" fill="#707abc"/><rect x="418.00" y="258.79" width="1.05" height="10.38" fill="#858cc7"/><rect x="418.00" y="269.12" width="1.05" height="10.38" fill="#b4b8de"/><rect x="418.00" y="279.45" width="1.05" height="10.38" fill="#acb1da"/><rect x="418.00" y="289.78" width="1.05" height="10.38" fill="#7982c1"/><rect x="418.00" y="300.11" width="1.05" height="10.38" fill="#4859a8"/><rect x="418.00" y="310.44" width="1.05" height="10.38" fill="#c9cbe7"/><rect x="418.00" y="320.77" width="1.05" height="10.38" fill="#6974b9"/><rect x="419.00" y="227.80" width="2.55" height="10.38" fill="#f3f4fa"/><rect x="419.00" y="238.13" width="2.55" height="10.38" fill="#747ebe"/><rect x="419.00" y="248.46" width="2.55" height="10.38" fill="#4e5eab"/><rect x="419.00" y="258.79" width="2.55" height="10.38" fill="#4959a8"/><rect x="419.00" y="269.12" width="2.55" height="10.38" fill="#5d6bb3"/><rect x="419.00" y="279.45" width="2.55" height="10.38" fill="#6773b8"/><rect x="419.00" y="289.78" width="2.55" height="10.38" fill="#858cc8"/><rect x="419.00" y="300.11" width="2.55" height="10.38" fill="#717bbd"/><rect x="419.00" y="310.44" width="2.55" height="10.38" fill="#4f5fab"/><rect x="419.00" y="320.77" width="2.55" height="10.38" fill="#5564af"/><rect x="421.50" y="227.80" width="1.55" height="10.38" fill="#979dd0"/><rect x="421.50" y="238.13" width="1.55" height="10.38" fill="#6370b6"/><rect x="421.50" y="248.46" width="1.55" height="10.38" fill="#4758a7"/><rect x="421.50" y="258.79" width="1.55" height="10.38" fill="#4657a6"/><rect x="421.50" y="269.12" width="1.55" height="10.38" fill="#6c77bb"/><rect x="421.50" y="279.45" width="1.55" height="10.38" fill="#5564ae"/><rect x="421.50" y="289.78" width="1.55" height="10.38" fill="#7882c1"/><rect x="421.50" y="300.11" width="1.55" height="10.38" fill="#4152a3"/><rect x="421.50" y="310.44" width="1.55" height="10.38" fill="#a2a7d5"/><rect x="421.50" y="320.77" width="1.55" height="10.38" fill="#4e5eab"/><rect x="423.00" y="227.80" width="2.05" height="10.38" fill="#6e79bc"/><rect x="423.00" y="238.13" width="2.05" height="10.38" fill="#6471b6"/><rect x="423.00" y="248.46" width="2.05" height="10.38" fill="#3f50a2"/><rect x="423.00" y="258.79" width="2.05" height="10.38" fill="#5564af"/><rect x="423.00" y="269.12" width="2.05" height="10.38" fill="#4656a6"/><rect x="423.00" y="279.45" width="2.05" height="10.38" fill="#394b9f"/><rect x="423.00" y="289.78" width="2.05" height="10.38" fill="#7d85c3"/><rect x="423.00" y="300.11" width="2.05" height="10.38" fill="#36489d"/><rect x="423.00" y="310.44" width="2.05" height="10.38" fill="#9ea4d3"/><rect x="423.00" y="320.77" width="2.05" height="10.38" fill="#6773b8"/><rect x="425.00" y="227.80" width="1.55" height="10.38" fill="#bec1e2"/><rect x="425.00" y="238.13" width="1.55" height="10.38" fill="#7c85c3"/><rect x="425.00" y="248.46" width="1.55" height="10.38" fill="#3a4ca0"/><rect x="425.00" y="258.79" width="1.55" height="10.38" fill="#5261ad"/><rect x="425.00" y="269.12" width="1.55" height="10.38" fill="#a4a9d6"/><rect x="425.00" y="279.45" width="1.55" height="10.38" fill="#8c92cb"/><rect x="425.00" y="289.78" width="1.55" height="10.38" fill="#5e6bb3"/><rect x="425.00" y="300.11" width="1.55" height="10.38" fill="#747ebf"/><rect x="425.00" y="310.44" width="1.55" height="10.38" fill="#9096cd"/><rect x="425.00" y="320.77" width="1.55" height="10.38" fill="#2c4098"/><rect x="426.50" y="227.80" width="1.05" height="10.38" fill="#8189c6"/><rect x="426.50" y="238.13" width="1.05" height="10.38" fill="#5362ad"/><rect x="426.50" y="248.46" width="1.05" height="10.38" fill="#8f95cc"/><rect x="426.50" y="258.79" width="1.05" height="10.38" fill="#4758a7"/><rect x="426.50" y="269.12" width="1.05" height="10.38" fill="#e6e7f4"/><rect x="426.50" y="279.45" width="1.05" height="10.38" fill="#7d85c3"/><rect x="426.50" y="289.78" width="1.05" height="10.38" fill="#959bcf"/><rect x="426.50" y="300.11" width="1.05" height="10.38" fill="#5a68b1"/><rect x="426.50" y="310.44" width="1.05" height="10.38" fill="#8a91ca"/><rect x="426.50" y="320.77" width="1.05" height="10.38" fill="#6672b7"/><rect x="427.50" y="227.80" width="3.05" height="10.38" fill="#394b9f"/><rect x="427.50" y="238.13" width="3.05" height="10.38" fill="#4051a3"/><rect x="427.50" y="248.46" width="3.05" height="10.38" fill="#5a68b1"/><rect x="427.50" y="258.79" width="3.05" height="10.38" fill="#5766b0"/><rect x="427.50" y="269.12" width="3.05" height="10.38" fill="#4757a7"/><rect x="427.50" y="279.45" width="3.05" height="10.38" fill="#5261ad"/><rect x="427.50" y="289.78" width="3.05" height="10.38" fill="#5d6bb3"/><rect x="427.50" y="300.11" width="3.05" height="10.38" fill="#6e79bc"/><rect x="427.50" y="310.44" width="3.05" height="10.38" fill="#5c6ab2"/><rect x="427.50" y="320.77" width="3.05" height="10.38" fill="#3f51a3"/><rect x="430.50" y="227.80" width="1.55" height="10.38" fill="#9fa4d4"/><rect x="430.50" y="238.13" width="1.55" height="10.38" fill="#4d5daa"/><rect x="430.50" y="248.46" width="1.55" height="10.38" fill="#4757a7"/><rect x="430.50" y="258.79" width="1.55" height="10.38" fill="#5c6ab2"/><rect x="430.50" y="269.12" width="1.55" height="10.38" fill="#c6c9e6"/><rect x="430.50" y="279.45" width="1.55" height="10.38" fill="#bbbee1"/><rect x="430.50" y="289.78" width="1.55" height="10.38" fill="#959bcf"/><rect x="430.50" y="300.11" width="1.55" height="10.38" fill="#8b92ca"/><rect x="430.50" y="310.44" width="1.55" height="10.38" fill="#d5d7ec"/><rect x="430.50" y="320.77" width="1.55" height="10.38" fill="#7982c1"/><rect x="432.00" y="227.80" width="3.05" height="10.38" fill="#6773b8"/><rect x="432.00" y="238.13" width="3.05" height="10.38" fill="#5967b1"/><rect x="432.00" y="248.46" width="3.05" height="10.38" fill="#4859a7"/><rect x="432.00" y="258.79" width="3.05" height="10.38" fill="#7780c0"/><rect x="432.00" y="269.12" width="3.05" height="10.38" fill="#5161ac"/><rect x="432.00" y="279.45" width="3.05" height="10.38" fill="#6975b9"/><rect x="432.00" y="289.78" width="3.05" height="10.38" fill="#4e5daa"/><rect x="432.00" y="300.11" width="3.05" height="10.38" fill="#2c4098"/><rect x="432.00" y="310.44" width="3.05" height="10.38" fill="#3a4da0"/><rect x="432.00" y="320.77" width="3.05" height="10.38" fill="#3f51a3"/><rect x="435.00" y="227.80" width="2.05" height="10.38" fill="#616eb5"/><rect x="435.00" y="238.13" width="2.05" height="10.38" fill="#5362ae"/><rect x="435.00" y="248.46" width="2.05" height="10.38" fill="#7780c0"/><rect x="435.00" y="258.79" width="2.05" height="10.38" fill="#757fbf"/><rect x="435.00" y="269.12" width="2.05" height="10.38" fill="#5f6cb4"/><rect x="435.00" y="279.45" width="2.05" height="10.38" fill="#999fd1"/><rect x="435.00" y="289.78" width="2.05" height="10.38" fill="#5161ac"/><rect x="435.00" y="300.11" width="2.05" height="10.38" fill="#3c4ea1"/><rect x="435.00" y="310.44" width="2.05" height="10.38" fill="#3d4fa2"/><rect x="435.00" y="320.77" width="2.05" height="10.38" fill="#4e5eab"/><rect x="437.00" y="227.80" width="1.55" height="10.38" fill="#f9f9fc"/><rect x="437.00" y="238.13" width="1.55" height="10.38" fill="#5c6ab2"/><rect x="437.00" y="248.46" width="1.55" height="10.38" fill="#acb0da"/><rect x="437.00" y="258.79" width="1.55" height="10.38" fill="#5564af"/><rect x="437.00" y="269.12" width="1.55" height="10.38" fill="#bcc0e1"/><rect x="437.00" y="279.45" width="1.55" height="10.38" fill="#b3b7dd"/><rect x="437.00" y="289.78" width="1.55" height="10.38" fill="#6975b9"/><rect x="437.00" y="300.11" width="1.55" height="10.38" fill="#6e79bc"/><rect x="437.00" y="310.44" width="1.55" height="10.38" fill="#8f95cc"/><rect x="437.00" y="320.77" width="1.55" height="10.38" fill="#babde0"/><rect x="438.50" y="227.80" width="2.05" height="10.38" fill="#999ed1"/><rect x="438.50" y="238.13" width="2.05" height="10.38" fill="#6a76ba"/><rect x="438.50" y="248.46" width="2.05" height="10.38" fill="#707abc"/><rect x="438.50" y="258.79" width="2.05" height="10.38" fill="#888fc9"/><rect x="438.50" y="269.12" width="2.05" height="10.38" fill="#7c85c3"/><rect x="438.50" y="279.45" width="2.05" height="10.38" fill="#5362ae"/><rect x="438.50" y="289.78" width="2.05" height="10.38" fill="#6c77bb"/><rect x="438.50" y="300.11" width="2.05" height="10.38" fill="#4a5ba9"/><rect x="438.50" y="310.44" width="2.05" height="10.38" fill="#6f7abc"/><rect x="438.50" y="320.77" width="2.05" height="10.38" fill="#4758a7"/><rect x="440.50" y="227.80" width="1.55" height="10.38" fill="#f4f5fa"/><rect x="440.50" y="238.13" width="1.55" height="10.38" fill="#cbcee8"/><rect x="440.50" y="248.46" width="1.55" height="10.38" fill="#c4c7e5"/><rect x="440.50" y="258.79" width="1.55" height="10.38" fill="#b5b9de"/><rect x="440.50" y="269.12" width="1.55" height="10.38" fill="#e4e5f3"/><rect x="440.50" y="279.45" width="1.55" height="10.38" fill="#fef7f6"/><rect x="440.50" y="289.78" width="1.55" height="10.38" fill="#b9bde0"/><rect x="440.50" y="300.11" width="1.55" height="10.38" fill="#b7bbdf"/><rect x="440.50" y="310.44" width="1.55" height="10.38" fill="#fdeceb"/><rect x="440.50" y="320.77" width="1.55" height="10.38" fill="#878dc8"/><rect x="442.00" y="227.80" width="2.05" height="10.38" fill="#c4c7e5"/><rect x="442.00" y="238.13" width="2.05" height="10.38" fill="#747ebf"/><rect x="442.00" y="248.46" width="2.05" height="10.38" fill="#8a91ca"/><rect x="442.00" y="258.79" width="2.05" height="10.38" fill="#969cd0"/><rect x="442.00" y="269.12" width="2.05" height="10.38" fill="#999fd1"/><rect x="442.00" y="279.45" width="2.05" height="10.38" fill="#f1f1f9"/><rect x="442.00" y="289.78" width="2.05" height="10.38" fill="#6572b7"/><rect x="442.00" y="300.11" width="2.05" height="10.38" fill="#7781c0"/><rect x="442.00" y="310.44" width="2.05" height="10.38" fill="#b2b6dd"/><rect x="442.00" y="320.77" width="2.05" height="10.38" fill="#4152a4"/><rect x="444.00" y="227.80" width="1.55" height="10.38" fill="#d4d6ec"/><rect x="444.00" y="238.13" width="1.55" height="10.38" fill="#b8bcdf"/><rect x="444.00" y="248.46" width="1.55" height="10.38" fill="#d4d6ec"/><rect x="444.00" y="258.79" width="1.55" height="10.38" fill="#bbbee1"/><rect x="444.00" y="269.12" width="1.55" height="10.38" fill="#c6c9e6"/><rect x="444.00" y="279.45" width="1.55" height="10.38" fill="#e1e3f2"/><rect x="444.00" y="289.78" width="1.55" height="10.38" fill="#ebecf6"/><rect x="444.00" y="300.11" width="1.55" height="10.38" fill="#606db4"/><rect x="444.00" y="310.44" width="1.55" height="10.38" fill="#8a90ca"/><rect x="444.00" y="320.77" width="1.55" height="10.38" fill="#838ac6"/><rect x="445.50" y="227.80" width="3.05" height="10.38" fill="#fad3d2"/><rect x="445.50" y="238.13" width="3.05" height="10.38" fill="#6c77ba"/><rect x="445.50" y="248.46" width="3.05" height="10.38" fill="#f9ccca"/><rect x="445.50" y="258.79" width="3.05" height="10.38" fill="#f4a7a5"/><rect x="445.50" y="269.12" width="3.05" height="10.38" fill="#cacde8"/><rect x="445.50" y="279.45" width="3.05" height="10.38" fill="#fefafa"/><rect x="445.50" y="289.78" width="3.05" height="10.38" fill="#7882c1"/><rect x="445.50" y="300.11" width="3.05" height="10.38" fill="#a2a7d5"/><rect x="445.50" y="310.44" width="3.05" height="10.38" fill="#d8daee"/><rect x="445.50" y="320.77" width="3.05" height="10.38" fill="#8e94cc"/><rect x="448.50" y="227.80" width="2.05" height="10.38" fill="#dcdef0"/><rect x="448.50" y="238.13" width="2.05" height="10.38" fill="#3c4ea1"/><rect x="448.50" y="248.46" width="2.05" height="10.38" fill="#fad3d1"/><rect x="448.50" y="258.79" width="2.05" height="10.38" fill="#f9d0ce"/><rect x="448.50" y="269.12" width="2.05" height="10.38" fill="#a3a8d6"/><rect x="448.50" y="279.45" width="2.05" height="10.38" fill="#cbcde8"/><rect x="448.50" y="289.78" width="2.05" height="10.38" fill="#3c4ea1"/><rect x="448.50" y="300.11" width="2.05" height="10.38" fill="#c6c8e6"/><rect x="448.50" y="310.44" width="2.05" height="10.38" fill="#fdedec"/><rect x="448.50" y="320.77" width="2.05" height="10.38" fill="#828ac6"/><rect x="450.50" y="227.80" width="1.05" height="10.38" fill="#c3c6e4"/><rect x="450.50" y="238.13" width="1.05" height="10.38" fill="#3c4ea1"/><rect x="450.50" y="248.46" width="1.05" height="10.38" fill="#f5b2b0"/><rect x="450.50" y="258.79" width="1.05" height="10.38" fill="#f7c1bf"/><rect x="450.50" y="269.12" width="1.05" height="10.38" fill="#cfd2ea"/><rect x="450.50" y="279.45" width="1.05" height="10.38" fill="#fefafa"/><rect x="450.50" y="289.78" width="1.05" height="10.38" fill="#3c4ea1"/><rect x="450.50" y="300.11" width="1.05" height="10.38" fill="#e4e5f3"/><rect x="450.50" y="310.44" width="1.05" height="10.38" fill="#f9cac8"/><rect x="450.50" y="320.77" width="1.05" height="10.38" fill="#d7d9ed"/><rect x="451.50" y="227.80" width="2.05" height="10.38" fill="#d8daee"/><rect x="451.50" y="238.13" width="2.05" height="10.38" fill="#3c4ea1"/><rect x="451.50" y="248.46" width="2.05" height="10.38" fill="#f5afad"/><rect x="451.50" y="258.79" width="2.05" height="10.38" fill="#f7c0be"/><rect x="451.50" y="269.12" width="2.05" height="10.38" fill="#c4c7e5"/><rect x="451.50" y="279.45" width="2.05" height="10.38" fill="#ebecf6"/><rect x="451.50" y="289.78" width="2.05" height="10.38" fill="#3c4ea1"/><rect x="451.50" y="300.11" width="2.05" height="10.38" fill="#737dbe"/><rect x="451.50" y="310.44" width="2.05" height="10.38" fill="#9ca1d2"/><rect x="451.50" y="320.77" width="2.05" height="10.38" fill="#737dbe"/><rect x="453.50" y="227.80" width="2.55" height="10.38" fill="#8189c5"/><rect x="453.50" y="238.13" width="2.55" height="10.38" fill="#3c4ea1"/><rect x="453.50" y="248.46" width="2.55" height="10.38" fill="#f7c0be"/><rect x="453.50" y="258.79" width="2.55" height="10.38" fill="#f7c2c0"/><rect x="453.50" y="269.12" width="2.55" height="10.38" fill="#888fc9"/><rect x="453.50" y="279.45" width="2.55" height="10.38" fill="#b1b5dc"/><rect x="453.50" y="289.78" width="2.55" height="10.38" fill="#3c4ea1"/><rect x="453.50" y="300.11" width="2.55" height="10.38" fill="#747ebf"/><rect x="453.50" y="310.44" width="2.55" height="10.38" fill="#5161ad"/><rect x="453.50" y="320.77" width="2.55" height="10.38" fill="#3e50a2"/><rect x="456.00" y="227.80" width="2.05" height="10.38" fill="#8b92ca"/><rect x="456.00" y="238.13" width="2.05" height="10.38" fill="#3c4ea1"/><rect x="456.00" y="248.46" width="2.05" height="10.38" fill="#fbdcda"/><rect x="456.00" y="258.79" width="2.05" height="10.38" fill="#f6b5b3"/><rect x="456.00" y="269.12" width="2.05" height="10.38" fill="#6f7abc"/><rect x="456.00" y="279.45" width="2.05" height="10.38" fill="#999fd1"/><rect x="456.00" y="289.78" width="2.05" height="10.38" fill="#3c4ea1"/><rect x="456.00" y="300.11" width="2.05" height="10.38" fill="#5967b1"/><rect x="456.00" y="310.44" width="2.05" height="10.38" fill="#8189c5"/><rect x="456.00" y="320.77" width="2.05" height="10.38" fill="#3a4ca0"/></g>
<text x="462.90" y="234.25" font-size="7.4" stroke="#222" stroke-width="0.207" text-anchor="middle" fill="#222">5</text>
<text x="462.90" y="244.65" font-size="7.4" stroke="#222" stroke-width="0.207" text-anchor="middle" fill="#222">4</text>
<text x="462.90" y="255.15" font-size="7.4" stroke="#222" stroke-width="0.207" text-anchor="middle" fill="#222">3</text>
<text x="462.90" y="265.65" font-size="7.4" stroke="#222" stroke-width="0.207" text-anchor="middle" fill="#222">2</text>
<text x="462.90" y="276.05" font-size="7.4" stroke="#222" stroke-width="0.207" text-anchor="middle" fill="#222">1</text>
<text x="462.90" y="288.05" font-size="7.4" stroke="#222" stroke-width="0.207" text-anchor="middle" fill="#222">5</text>
<text x="462.90" y="298.15" font-size="7.4" stroke="#222" stroke-width="0.207" text-anchor="middle" fill="#222">4</text>
<text x="462.90" y="308.45" font-size="7.4" stroke="#222" stroke-width="0.207" text-anchor="middle" fill="#222">3</text>
<text x="462.90" y="318.85" font-size="7.4" stroke="#222" stroke-width="0.207" text-anchor="middle" fill="#222">2</text>
<text x="462.90" y="329.25" font-size="7.4" stroke="#222" stroke-width="0.207" text-anchor="middle" fill="#222">1</text>
<line x1="469.20" y1="227.80" x2="469.20" y2="277.00" stroke="#1a1a1a" stroke-width="1.3"/>
<line x1="469.20" y1="280.40" x2="469.20" y2="329.90" stroke="#1a1a1a" stroke-width="1.3"/>
<text x="479.30" y="255.00" font-size="9.0" stroke="#222" stroke-width="0.252" text-anchor="middle" fill="#222" textLength="34.5" lengthAdjust="spacingAndGlyphs" transform="rotate(-90 479.30 255.00)">Cytosolic</text>
<text x="479.30" y="307.90" font-size="9.0" stroke="#222" stroke-width="0.252" text-anchor="middle" fill="#222" textLength="40.4" lengthAdjust="spacingAndGlyphs" transform="rotate(-90 479.30 307.90)">Polysome-</text>
<text x="490.80" y="307.60" font-size="9.0" stroke="#222" stroke-width="0.252" text-anchor="middle" fill="#222" textLength="41.0" lengthAdjust="spacingAndGlyphs" transform="rotate(-90 490.80 307.60)">associated</text>
<rect x="205.60" y="334.20" width="1.00" height="7.80" fill="#bbb"/>
<rect x="213.00" y="334.20" width="1.00" height="7.80" fill="#888"/>
<rect x="221.50" y="334.20" width="1.00" height="7.80" fill="#666"/>
<rect x="223.30" y="334.20" width="1.00" height="7.80" fill="#555"/>
<rect x="225.00" y="334.20" width="1.00" height="7.80" fill="#444"/>
<rect x="226.70" y="334.20" width="1.00" height="7.80" fill="#333"/>
<rect x="228.40" y="334.20" width="1.00" height="7.80" fill="#555"/>
<rect x="235.30" y="334.20" width="0.80" height="7.80" fill="#bbb"/>
<rect x="246.40" y="334.20" width="1.60" height="7.80" fill="#111"/>
<rect x="248.80" y="334.20" width="1.70" height="7.80" fill="#222"/>
<rect x="266.30" y="334.20" width="2.10" height="7.80" fill="#111"/>
<rect x="272.40" y="334.20" width="1.30" height="7.80" fill="#333"/>
<rect x="275.10" y="334.20" width="4.00" height="7.80" fill="#111"/>
<rect x="285.20" y="334.20" width="1.30" height="7.80" fill="#777"/>
<rect x="288.60" y="334.20" width="1.30" height="7.80" fill="#888"/>
<rect x="291.90" y="334.20" width="1.40" height="7.80" fill="#777"/>
<rect x="297.30" y="334.20" width="1.30" height="7.80" fill="#aaa"/>
<rect x="302.00" y="334.20" width="1.20" height="7.80" fill="#666"/>
<rect x="304.20" y="334.20" width="1.20" height="7.80" fill="#555"/>
<rect x="306.70" y="334.20" width="1.30" height="7.80" fill="#333"/>
<rect x="308.60" y="334.20" width="1.40" height="7.80" fill="#222"/>
<rect x="310.60" y="334.20" width="1.40" height="7.80" fill="#222"/>
<rect x="312.50" y="334.20" width="2.30" height="7.80" fill="#111"/>
<rect x="316.80" y="334.20" width="1.70" height="7.80" fill="#111"/>
<rect x="319.20" y="334.20" width="2.30" height="7.80" fill="#111"/>
<rect x="324.20" y="334.20" width="1.80" height="7.80" fill="#111"/>
<rect x="326.60" y="334.20" width="1.70" height="7.80" fill="#222"/>
<rect x="331.30" y="334.20" width="1.40" height="7.80" fill="#888"/>
<rect x="334.00" y="334.20" width="1.40" height="7.80" fill="#777"/>
<rect x="337.00" y="334.20" width="0.80" height="7.80" fill="#999"/>
<rect x="339.40" y="334.20" width="2.70" height="7.80" fill="#111"/>
<rect x="343.50" y="334.20" width="1.30" height="7.80" fill="#777"/>
<rect x="347.50" y="334.20" width="1.30" height="7.80" fill="#888"/>
<rect x="350.20" y="334.20" width="1.30" height="7.80" fill="#555"/>
<rect x="352.60" y="334.20" width="0.80" height="7.80" fill="#999"/>
<rect x="364.00" y="334.20" width="0.80" height="7.80" fill="#bbb"/>
<rect x="376.40" y="334.20" width="2.10" height="7.80" fill="#111"/>
<rect x="381.10" y="334.20" width="1.90" height="7.80" fill="#222"/>
<rect x="383.60" y="334.20" width="2.00" height="7.80" fill="#111"/>
<rect x="386.20" y="334.20" width="2.00" height="7.80" fill="#222"/>
<rect x="388.80" y="334.20" width="2.00" height="7.80" fill="#111"/>
<rect x="391.40" y="334.20" width="1.90" height="7.80" fill="#333"/>
<rect x="395.00" y="334.20" width="1.00" height="7.80" fill="#aaa"/>
<rect x="401.70" y="334.20" width="1.20" height="7.80" fill="#888"/>
<rect x="403.60" y="334.20" width="1.00" height="7.80" fill="#777"/>
<rect x="405.00" y="334.20" width="0.80" height="7.80" fill="#999"/>
<rect x="409.10" y="334.20" width="1.10" height="7.80" fill="#888"/>
<rect x="410.80" y="334.20" width="1.00" height="7.80" fill="#999"/>
<rect x="413.80" y="334.20" width="1.40" height="7.80" fill="#888"/>
<rect x="417.20" y="334.20" width="0.80" height="7.80" fill="#999"/>
<rect x="418.40" y="334.20" width="0.80" height="7.80" fill="#aaa"/>
<rect x="424.60" y="334.20" width="1.40" height="7.80" fill="#555"/>
<rect x="426.40" y="334.20" width="1.60" height="7.80" fill="#111"/>
<rect x="441.40" y="334.20" width="1.20" height="7.80" fill="#999"/>
<rect x="443.20" y="334.20" width="1.00" height="7.80" fill="#777"/>
<rect x="444.80" y="334.20" width="1.30" height="7.80" fill="#666"/>
<rect x="446.80" y="334.20" width="1.80" height="7.80" fill="#111"/>
<rect x="448.90" y="334.20" width="1.30" height="7.80" fill="#333"/>
<rect x="455.60" y="334.20" width="2.00" height="7.80" fill="#111"/>
<text x="19.80" y="372.60" font-size="11.5" font-weight="bold" fill="#000">F</text>
<text x="144.00" y="372.30" font-size="10.5" stroke="#222" stroke-width="0.294" text-anchor="middle" fill="#222" textLength="84.7" lengthAdjust="spacingAndGlyphs">Mitochondrial Part</text>
<text x="148.00" y="387.80" font-size="9.1" stroke="#222" stroke-width="0.255" text-anchor="middle" fill="#222" textLength="52.5" lengthAdjust="spacingAndGlyphs">GO:0044429</text>
<text x="404.50" y="372.30" font-size="10.5" stroke="#222" stroke-width="0.294" text-anchor="middle" fill="#222" textLength="47.4" lengthAdjust="spacingAndGlyphs">Cell Cycle</text>
<text x="406.00" y="387.60" font-size="9.0" stroke="#222" stroke-width="0.252" text-anchor="middle" fill="#222" textLength="51.3" lengthAdjust="spacingAndGlyphs">GO:0007049</text>
<g shape-rendering="crispEdges"><rect x="77.00" y="397.00" width="32.30" height="6.43" fill="#3c4ea1"/><rect x="109.00" y="397.00" width="32.30" height="6.43" fill="#c2c5e4"/><rect x="141.00" y="397.00" width="32.30" height="6.43" fill="#7c85c3"/><rect x="173.00" y="397.00" width="32.30" height="6.43" fill="#34479c"/><rect x="205.00" y="397.00" width="32.30" height="6.43" fill="#34479c"/><rect x="77.00" y="403.13" width="32.30" height="6.43" fill="#3c4ea1"/><rect x="109.00" y="403.13" width="32.30" height="6.43" fill="#f3a2a0"/><rect x="141.00" y="403.13" width="32.30" height="6.43" fill="#f29694"/><rect x="173.00" y="403.13" width="32.30" height="6.43" fill="#34479c"/><rect x="205.00" y="403.13" width="32.30" height="6.43" fill="#34479c"/><rect x="77.00" y="409.27" width="32.30" height="6.43" fill="#dadcef"/><rect x="109.00" y="409.27" width="32.30" height="6.43" fill="#ced1e9"/><rect x="141.00" y="409.27" width="32.30" height="6.43" fill="#b6bade"/><rect x="173.00" y="409.27" width="32.30" height="6.43" fill="#868dc8"/><rect x="205.00" y="409.27" width="32.30" height="6.43" fill="#868dc8"/><rect x="77.00" y="415.40" width="32.30" height="6.43" fill="#f3f3fa"/><rect x="109.00" y="415.40" width="32.30" height="6.43" fill="#ced1e9"/><rect x="141.00" y="415.40" width="32.30" height="6.43" fill="#f3f3fa"/><rect x="173.00" y="415.40" width="32.30" height="6.43" fill="#868dc8"/><rect x="205.00" y="415.40" width="32.30" height="6.43" fill="#4455a5"/><rect x="77.00" y="421.54" width="32.30" height="6.43" fill="#5463ae"/><rect x="109.00" y="421.54" width="32.30" height="6.43" fill="#727cbe"/><rect x="141.00" y="421.54" width="32.30" height="6.43" fill="#4455a5"/><rect x="173.00" y="421.54" width="32.30" height="6.43" fill="#e7e8f4"/><rect x="205.00" y="421.54" width="32.30" height="6.43" fill="#9298ce"/><rect x="77.00" y="427.68" width="32.30" height="6.43" fill="#6874b8"/><rect x="109.00" y="427.68" width="32.30" height="6.43" fill="#b6bade"/><rect x="141.00" y="427.68" width="32.30" height="6.43" fill="#4455a5"/><rect x="173.00" y="427.68" width="32.30" height="6.43" fill="#c2c5e4"/><rect x="205.00" y="427.68" width="32.30" height="6.43" fill="#9298ce"/><rect x="77.00" y="433.81" width="32.30" height="6.43" fill="#6874b8"/><rect x="109.00" y="433.81" width="32.30" height="6.43" fill="#868dc8"/><rect x="141.00" y="433.81" width="32.30" height="6.43" fill="#aaafd9"/><rect x="173.00" y="433.81" width="32.30" height="6.43" fill="#b6bade"/><rect x="205.00" y="433.81" width="32.30" height="6.43" fill="#ced1e9"/><rect x="77.00" y="439.94" width="32.30" height="6.43" fill="#868dc8"/><rect x="109.00" y="439.94" width="32.30" height="6.43" fill="#dadcef"/><rect x="141.00" y="439.94" width="32.30" height="6.43" fill="#4455a5"/><rect x="173.00" y="439.94" width="32.30" height="6.43" fill="#b6bade"/><rect x="205.00" y="439.94" width="32.30" height="6.43" fill="#c2c5e4"/><rect x="77.00" y="446.08" width="32.30" height="6.43" fill="#4c5caa"/><rect x="109.00" y="446.08" width="32.30" height="6.43" fill="#4455a5"/><rect x="141.00" y="446.08" width="32.30" height="6.43" fill="#3c4ea1"/><rect x="173.00" y="446.08" width="32.30" height="6.43" fill="#868dc8"/><rect x="205.00" y="446.08" width="32.30" height="6.43" fill="#5463ae"/><rect x="77.00" y="452.21" width="32.30" height="6.43" fill="#ffffff"/><rect x="109.00" y="452.21" width="32.30" height="6.43" fill="#c2c5e4"/><rect x="141.00" y="452.21" width="32.30" height="6.43" fill="#3c4ea1"/><rect x="173.00" y="452.21" width="32.30" height="6.43" fill="#aaafd9"/><rect x="205.00" y="452.21" width="32.30" height="6.43" fill="#ffffff"/><rect x="77.00" y="458.35" width="32.30" height="6.43" fill="#c2c5e4"/><rect x="109.00" y="458.35" width="32.30" height="6.43" fill="#c2c5e4"/><rect x="141.00" y="458.35" width="32.30" height="6.43" fill="#727cbe"/><rect x="173.00" y="458.35" width="32.30" height="6.43" fill="#3c4ea1"/><rect x="205.00" y="458.35" width="32.30" height="6.43" fill="#ffffff"/><rect x="77.00" y="464.49" width="32.30" height="6.43" fill="#ed7572"/><rect x="109.00" y="464.49" width="32.30" height="6.43" fill="#f3a2a0"/><rect x="141.00" y="464.49" width="32.30" height="6.43" fill="#ec6b68"/><rect x="173.00" y="464.49" width="32.30" height="6.43" fill="#ed7572"/><rect x="205.00" y="464.49" width="32.30" height="6.43" fill="#ed7572"/><rect x="77.00" y="470.62" width="32.30" height="6.43" fill="#ef807d"/><rect x="109.00" y="470.62" width="32.30" height="6.43" fill="#f5aeac"/><rect x="141.00" y="470.62" width="32.30" height="6.43" fill="#ec6b68"/><rect x="173.00" y="470.62" width="32.30" height="6.43" fill="#f08a88"/><rect x="205.00" y="470.62" width="32.30" height="6.43" fill="#ec6b68"/><rect x="77.00" y="476.75" width="32.30" height="6.43" fill="#ef807d"/><rect x="109.00" y="476.75" width="32.30" height="6.43" fill="#f6bab8"/><rect x="141.00" y="476.75" width="32.30" height="6.43" fill="#e7423e"/><rect x="173.00" y="476.75" width="32.30" height="6.43" fill="#f08a88"/><rect x="205.00" y="476.75" width="32.30" height="6.43" fill="#ec6b68"/><rect x="77.00" y="482.89" width="32.30" height="6.43" fill="#ed7572"/><rect x="109.00" y="482.89" width="32.30" height="6.43" fill="#f6bab8"/><rect x="141.00" y="482.89" width="32.30" height="6.43" fill="#e7423e"/><rect x="173.00" y="482.89" width="32.30" height="6.43" fill="#ed7572"/><rect x="205.00" y="482.89" width="32.30" height="6.43" fill="#f08a88"/><rect x="77.00" y="489.02" width="32.30" height="6.43" fill="#ed7572"/><rect x="109.00" y="489.02" width="32.30" height="6.43" fill="#f6bab8"/><rect x="141.00" y="489.02" width="32.30" height="6.43" fill="#ed7572"/><rect x="173.00" y="489.02" width="32.30" height="6.43" fill="#f08a88"/><rect x="205.00" y="489.02" width="32.30" height="6.43" fill="#f3a2a0"/><rect x="77.00" y="495.16" width="32.30" height="6.43" fill="#ed7572"/><rect x="109.00" y="495.16" width="32.30" height="6.43" fill="#f5aeac"/><rect x="141.00" y="495.16" width="32.30" height="6.43" fill="#e95652"/><rect x="173.00" y="495.16" width="32.30" height="6.43" fill="#f08a88"/><rect x="205.00" y="495.16" width="32.30" height="6.43" fill="#f3a2a0"/><rect x="77.00" y="501.30" width="32.30" height="6.43" fill="#ef807d"/><rect x="109.00" y="501.30" width="32.30" height="6.43" fill="#f29694"/><rect x="141.00" y="501.30" width="32.30" height="6.43" fill="#ec6b68"/><rect x="173.00" y="501.30" width="32.30" height="6.43" fill="#ef807d"/><rect x="205.00" y="501.30" width="32.30" height="6.43" fill="#f29694"/><rect x="77.00" y="507.43" width="32.30" height="6.43" fill="#ef807d"/><rect x="109.00" y="507.43" width="32.30" height="6.43" fill="#f29694"/><rect x="141.00" y="507.43" width="32.30" height="6.43" fill="#ec6b68"/><rect x="173.00" y="507.43" width="32.30" height="6.43" fill="#ef807d"/><rect x="205.00" y="507.43" width="32.30" height="6.43" fill="#f6bab8"/><rect x="77.00" y="513.57" width="32.30" height="6.43" fill="#ed7572"/><rect x="109.00" y="513.57" width="32.30" height="6.43" fill="#f29694"/><rect x="141.00" y="513.57" width="32.30" height="6.43" fill="#ec6b68"/><rect x="173.00" y="513.57" width="32.30" height="6.43" fill="#f6bab8"/><rect x="205.00" y="513.57" width="32.30" height="6.43" fill="#f5aeac"/><rect x="77.00" y="519.70" width="32.30" height="6.43" fill="#ef807d"/><rect x="109.00" y="519.70" width="32.30" height="6.43" fill="#f29694"/><rect x="141.00" y="519.70" width="32.30" height="6.43" fill="#ec6b68"/><rect x="173.00" y="519.70" width="32.30" height="6.43" fill="#f6bab8"/><rect x="205.00" y="519.70" width="32.30" height="6.43" fill="#f3a2a0"/><rect x="77.00" y="525.84" width="32.30" height="6.43" fill="#ef807d"/><rect x="109.00" y="525.84" width="32.30" height="6.43" fill="#f29694"/><rect x="141.00" y="525.84" width="32.30" height="6.43" fill="#ea605d"/><rect x="173.00" y="525.84" width="32.30" height="6.43" fill="#f5aeac"/><rect x="205.00" y="525.84" width="32.30" height="6.43" fill="#f3a2a0"/><rect x="77.00" y="531.97" width="32.30" height="6.43" fill="#ef807d"/><rect x="109.00" y="531.97" width="32.30" height="6.43" fill="#f3a2a0"/><rect x="141.00" y="531.97" width="32.30" height="6.43" fill="#e95652"/><rect x="173.00" y="531.97" width="32.30" height="6.43" fill="#f6bab8"/><rect x="205.00" y="531.97" width="32.30" height="6.43" fill="#f3a2a0"/><rect x="77.00" y="538.11" width="32.30" height="6.43" fill="#f08a88"/><rect x="109.00" y="538.11" width="32.30" height="6.43" fill="#f3a2a0"/><rect x="141.00" y="538.11" width="32.30" height="6.43" fill="#ea605d"/><rect x="173.00" y="538.11" width="32.30" height="6.43" fill="#f6bab8"/><rect x="205.00" y="538.11" width="32.30" height="6.43" fill="#f3a2a0"/><rect x="77.00" y="544.24" width="32.30" height="6.43" fill="#f08a88"/><rect x="109.00" y="544.24" width="32.30" height="6.43" fill="#f08a88"/><rect x="141.00" y="544.24" width="32.30" height="6.43" fill="#ef807d"/><rect x="173.00" y="544.24" width="32.30" height="6.43" fill="#f29694"/><rect x="205.00" y="544.24" width="32.30" height="6.43" fill="#f29694"/><rect x="77.00" y="550.38" width="32.30" height="6.43" fill="#ea605d"/><rect x="109.00" y="550.38" width="32.30" height="6.43" fill="#f08a88"/><rect x="141.00" y="550.38" width="32.30" height="6.43" fill="#ed7572"/><rect x="173.00" y="550.38" width="32.30" height="6.43" fill="#f3a2a0"/><rect x="205.00" y="550.38" width="32.30" height="6.43" fill="#f29694"/><rect x="77.00" y="556.51" width="32.30" height="6.43" fill="#ea605d"/><rect x="109.00" y="556.51" width="32.30" height="6.43" fill="#f08a88"/><rect x="141.00" y="556.51" width="32.30" height="6.43" fill="#ec6b68"/><rect x="173.00" y="556.51" width="32.30" height="6.43" fill="#f9d1d0"/><rect x="205.00" y="556.51" width="32.30" height="6.43" fill="#f29694"/><rect x="77.00" y="562.64" width="32.30" height="6.43" fill="#ea605d"/><rect x="109.00" y="562.64" width="32.30" height="6.43" fill="#f3a2a0"/><rect x="141.00" y="562.64" width="32.30" height="6.43" fill="#e53834"/><rect x="173.00" y="562.64" width="32.30" height="6.43" fill="#f9d1d0"/><rect x="205.00" y="562.64" width="32.30" height="6.43" fill="#f29694"/><rect x="77.00" y="568.78" width="32.30" height="6.43" fill="#f29694"/><rect x="109.00" y="568.78" width="32.30" height="6.43" fill="#f5aeac"/><rect x="141.00" y="568.78" width="32.30" height="6.43" fill="#ed7572"/><rect x="173.00" y="568.78" width="32.30" height="6.43" fill="#f6bab8"/><rect x="205.00" y="568.78" width="32.30" height="6.43" fill="#ea605d"/><rect x="77.00" y="574.91" width="32.30" height="6.43" fill="#f5aeac"/><rect x="109.00" y="574.91" width="32.30" height="6.43" fill="#f5aeac"/><rect x="141.00" y="574.91" width="32.30" height="6.43" fill="#ed7572"/><rect x="173.00" y="574.91" width="32.30" height="6.43" fill="#fbdddc"/><rect x="205.00" y="574.91" width="32.30" height="6.43" fill="#ea605d"/><rect x="77.00" y="581.05" width="32.30" height="6.43" fill="#f5aeac"/><rect x="109.00" y="581.05" width="32.30" height="6.43" fill="#f29694"/><rect x="141.00" y="581.05" width="32.30" height="6.43" fill="#e53834"/><rect x="173.00" y="581.05" width="32.30" height="6.43" fill="#fbdddc"/><rect x="205.00" y="581.05" width="32.30" height="6.43" fill="#ec6b68"/><rect x="77.00" y="587.18" width="32.30" height="6.43" fill="#f29694"/><rect x="109.00" y="587.18" width="32.30" height="6.43" fill="#f29694"/><rect x="141.00" y="587.18" width="32.30" height="6.43" fill="#ed7572"/><rect x="173.00" y="587.18" width="32.30" height="6.43" fill="#fbdddc"/><rect x="205.00" y="587.18" width="32.30" height="6.43" fill="#f29694"/><rect x="77.00" y="593.32" width="32.30" height="6.43" fill="#f29694"/><rect x="109.00" y="593.32" width="32.30" height="6.43" fill="#f3a2a0"/><rect x="141.00" y="593.32" width="32.30" height="6.43" fill="#ed7572"/><rect x="173.00" y="593.32" width="32.30" height="6.43" fill="#f6bab8"/><rect x="205.00" y="593.32" width="32.30" height="6.43" fill="#f08a88"/><rect x="77.00" y="599.45" width="32.30" height="6.43" fill="#f08a88"/><rect x="109.00" y="599.45" width="32.30" height="6.43" fill="#f5aeac"/><rect x="141.00" y="599.45" width="32.30" height="6.43" fill="#ef807d"/><rect x="173.00" y="599.45" width="32.30" height="6.43" fill="#f6bab8"/><rect x="205.00" y="599.45" width="32.30" height="6.43" fill="#f29694"/><rect x="77.00" y="605.59" width="32.30" height="6.43" fill="#f08a88"/><rect x="109.00" y="605.59" width="32.30" height="6.43" fill="#f5aeac"/><rect x="141.00" y="605.59" width="32.30" height="6.43" fill="#ef807d"/><rect x="173.00" y="605.59" width="32.30" height="6.43" fill="#fce8e7"/><rect x="205.00" y="605.59" width="32.30" height="6.43" fill="#f29694"/><rect x="77.00" y="611.73" width="32.30" height="6.43" fill="#f08a88"/><rect x="109.00" y="611.73" width="32.30" height="6.43" fill="#f5aeac"/><rect x="141.00" y="611.73" width="32.30" height="6.43" fill="#ef807d"/><rect x="173.00" y="611.73" width="32.30" height="6.43" fill="#f8c6c4"/><rect x="205.00" y="611.73" width="32.30" height="6.43" fill="#f3a2a0"/><rect x="77.00" y="617.86" width="32.30" height="6.43" fill="#f08a88"/><rect x="109.00" y="617.86" width="32.30" height="6.43" fill="#f5aeac"/><rect x="141.00" y="617.86" width="32.30" height="6.43" fill="#ed7572"/><rect x="173.00" y="617.86" width="32.30" height="6.43" fill="#f6bab8"/><rect x="205.00" y="617.86" width="32.30" height="6.43" fill="#f3a2a0"/><rect x="77.00" y="624.00" width="32.30" height="6.43" fill="#ef807d"/><rect x="109.00" y="624.00" width="32.30" height="6.43" fill="#f8c6c4"/><rect x="141.00" y="624.00" width="32.30" height="6.43" fill="#ec6b68"/><rect x="173.00" y="624.00" width="32.30" height="6.43" fill="#f5aeac"/><rect x="205.00" y="624.00" width="32.30" height="6.43" fill="#f08a88"/><rect x="77.00" y="630.13" width="32.30" height="6.43" fill="#ef807d"/><rect x="109.00" y="630.13" width="32.30" height="6.43" fill="#f8c6c4"/><rect x="141.00" y="630.13" width="32.30" height="6.43" fill="#ec6b68"/><rect x="173.00" y="630.13" width="32.30" height="6.43" fill="#f5aeac"/><rect x="205.00" y="630.13" width="32.30" height="6.43" fill="#f08a88"/><rect x="77.00" y="636.26" width="32.30" height="6.43" fill="#ef807d"/><rect x="109.00" y="636.26" width="32.30" height="6.43" fill="#f6bab8"/><rect x="141.00" y="636.26" width="32.30" height="6.43" fill="#ed7572"/><rect x="173.00" y="636.26" width="32.30" height="6.43" fill="#f5aeac"/><rect x="205.00" y="636.26" width="32.30" height="6.43" fill="#f29694"/><rect x="77.00" y="642.40" width="32.30" height="6.43" fill="#ef807d"/><rect x="109.00" y="642.40" width="32.30" height="6.43" fill="#f5aeac"/><rect x="141.00" y="642.40" width="32.30" height="6.43" fill="#ea605d"/><rect x="173.00" y="642.40" width="32.30" height="6.43" fill="#f3a2a0"/><rect x="205.00" y="642.40" width="32.30" height="6.43" fill="#f29694"/><rect x="77.00" y="648.53" width="32.30" height="6.43" fill="#ef807d"/><rect x="109.00" y="648.53" width="32.30" height="6.43" fill="#f5aeac"/><rect x="141.00" y="648.53" width="32.30" height="6.43" fill="#ea605d"/><rect x="173.00" y="648.53" width="32.30" height="6.43" fill="#f3a2a0"/><rect x="205.00" y="648.53" width="32.30" height="6.43" fill="#f29694"/><rect x="77.00" y="654.67" width="32.30" height="6.43" fill="#f6bab8"/><rect x="109.00" y="654.67" width="32.30" height="6.43" fill="#f3a2a0"/><rect x="141.00" y="654.67" width="32.30" height="6.43" fill="#ea605d"/><rect x="173.00" y="654.67" width="32.30" height="6.43" fill="#f5aeac"/><rect x="205.00" y="654.67" width="32.30" height="6.43" fill="#f6bab8"/><rect x="77.00" y="660.81" width="32.30" height="6.43" fill="#f08a88"/><rect x="109.00" y="660.81" width="32.30" height="6.43" fill="#f3a2a0"/><rect x="141.00" y="660.81" width="32.30" height="6.43" fill="#ea605d"/><rect x="173.00" y="660.81" width="32.30" height="6.43" fill="#f3a2a0"/><rect x="205.00" y="660.81" width="32.30" height="6.43" fill="#f6bab8"/><rect x="77.00" y="666.94" width="32.30" height="6.43" fill="#f08a88"/><rect x="109.00" y="666.94" width="32.30" height="6.43" fill="#f5aeac"/><rect x="141.00" y="666.94" width="32.30" height="6.43" fill="#ed7572"/><rect x="173.00" y="666.94" width="32.30" height="6.43" fill="#f5aeac"/><rect x="205.00" y="666.94" width="32.30" height="6.43" fill="#f5aeac"/><rect x="77.00" y="673.08" width="32.30" height="6.43" fill="#f29694"/><rect x="109.00" y="673.08" width="32.30" height="6.43" fill="#f6bab8"/><rect x="141.00" y="673.08" width="32.30" height="6.43" fill="#ef807d"/><rect x="173.00" y="673.08" width="32.30" height="6.43" fill="#f5aeac"/><rect x="205.00" y="673.08" width="32.30" height="6.43" fill="#f5aeac"/><rect x="77.00" y="679.21" width="32.30" height="6.43" fill="#f08a88"/><rect x="109.00" y="679.21" width="32.30" height="6.43" fill="#f6bab8"/><rect x="141.00" y="679.21" width="32.30" height="6.43" fill="#e84c48"/><rect x="173.00" y="679.21" width="32.30" height="6.43" fill="#f8c6c4"/><rect x="205.00" y="679.21" width="32.30" height="6.43" fill="#f5aeac"/><rect x="77.00" y="685.35" width="32.30" height="6.43" fill="#f08a88"/><rect x="109.00" y="685.35" width="32.30" height="6.43" fill="#f6bab8"/><rect x="141.00" y="685.35" width="32.30" height="6.43" fill="#e84c48"/><rect x="173.00" y="685.35" width="32.30" height="6.43" fill="#f8c6c4"/><rect x="205.00" y="685.35" width="32.30" height="6.43" fill="#f6bab8"/><rect x="77.00" y="691.48" width="32.30" height="6.43" fill="#f3a2a0"/><rect x="109.00" y="691.48" width="32.30" height="6.43" fill="#f8c6c4"/><rect x="141.00" y="691.48" width="32.30" height="6.43" fill="#e95652"/><rect x="173.00" y="691.48" width="32.30" height="6.43" fill="#f8c6c4"/><rect x="205.00" y="691.48" width="32.30" height="6.43" fill="#f6bab8"/><rect x="77.00" y="697.62" width="32.30" height="6.43" fill="#ef807d"/><rect x="109.00" y="697.62" width="32.30" height="6.43" fill="#f08a88"/><rect x="141.00" y="697.62" width="32.30" height="6.43" fill="#f29694"/><rect x="173.00" y="697.62" width="32.30" height="6.43" fill="#f6bab8"/><rect x="205.00" y="697.62" width="32.30" height="6.43" fill="#f5aeac"/><rect x="77.00" y="703.75" width="32.30" height="6.43" fill="#ef807d"/><rect x="109.00" y="703.75" width="32.30" height="6.43" fill="#f08a88"/><rect x="141.00" y="703.75" width="32.30" height="6.43" fill="#f29694"/><rect x="173.00" y="703.75" width="32.30" height="6.43" fill="#f5aeac"/><rect x="205.00" y="703.75" width="32.30" height="6.43" fill="#f5aeac"/><rect x="77.00" y="709.88" width="32.30" height="6.43" fill="#ed7572"/><rect x="109.00" y="709.88" width="32.30" height="6.43" fill="#f29694"/><rect x="141.00" y="709.88" width="32.30" height="6.43" fill="#f08a88"/><rect x="173.00" y="709.88" width="32.30" height="6.43" fill="#fce8e7"/><rect x="205.00" y="709.88" width="32.30" height="6.43" fill="#f3a2a0"/><rect x="77.00" y="716.02" width="32.30" height="6.43" fill="#f29694"/><rect x="109.00" y="716.02" width="32.30" height="6.43" fill="#f3a2a0"/><rect x="141.00" y="716.02" width="32.30" height="6.43" fill="#ed7572"/><rect x="173.00" y="716.02" width="32.30" height="6.43" fill="#f8c6c4"/><rect x="205.00" y="716.02" width="32.30" height="6.43" fill="#f8c6c4"/><rect x="77.00" y="722.15" width="32.30" height="6.43" fill="#f29694"/><rect x="109.00" y="722.15" width="32.30" height="6.43" fill="#f3a2a0"/><rect x="141.00" y="722.15" width="32.30" height="6.43" fill="#ec6b68"/><rect x="173.00" y="722.15" width="32.30" height="6.43" fill="#f5aeac"/><rect x="205.00" y="722.15" width="32.30" height="6.43" fill="#fbdddc"/><rect x="77.00" y="728.29" width="32.30" height="6.43" fill="#f5aeac"/><rect x="109.00" y="728.29" width="32.30" height="6.43" fill="#f3a2a0"/><rect x="141.00" y="728.29" width="32.30" height="6.43" fill="#ec6b68"/><rect x="173.00" y="728.29" width="32.30" height="6.43" fill="#f6bab8"/><rect x="205.00" y="728.29" width="32.30" height="6.43" fill="#fbdddc"/><rect x="77.00" y="734.42" width="32.30" height="6.43" fill="#f3a2a0"/><rect x="109.00" y="734.42" width="32.30" height="6.43" fill="#f5aeac"/><rect x="141.00" y="734.42" width="32.30" height="6.43" fill="#ed7572"/><rect x="173.00" y="734.42" width="32.30" height="6.43" fill="#f6bab8"/><rect x="205.00" y="734.42" width="32.30" height="6.43" fill="#fbdddc"/><rect x="77.00" y="740.56" width="32.30" height="6.43" fill="#ef807d"/><rect x="109.00" y="740.56" width="32.30" height="6.43" fill="#f5aeac"/><rect x="141.00" y="740.56" width="32.30" height="6.43" fill="#ed7572"/><rect x="173.00" y="740.56" width="32.30" height="6.43" fill="#f9d1d0"/><rect x="205.00" y="740.56" width="32.30" height="6.43" fill="#f5aeac"/><rect x="77.00" y="746.69" width="32.30" height="6.43" fill="#ef807d"/><rect x="109.00" y="746.69" width="32.30" height="6.43" fill="#f3a2a0"/><rect x="141.00" y="746.69" width="32.30" height="6.43" fill="#f08a88"/><rect x="173.00" y="746.69" width="32.30" height="6.43" fill="#fbdddc"/><rect x="205.00" y="746.69" width="32.30" height="6.43" fill="#f6bab8"/><rect x="77.00" y="752.83" width="32.30" height="6.43" fill="#f3a2a0"/><rect x="109.00" y="752.83" width="32.30" height="6.43" fill="#f5aeac"/><rect x="141.00" y="752.83" width="32.30" height="6.43" fill="#ea605d"/><rect x="173.00" y="752.83" width="32.30" height="6.43" fill="#f8c6c4"/><rect x="205.00" y="752.83" width="32.30" height="6.43" fill="#f5aeac"/><rect x="77.00" y="758.96" width="32.30" height="6.43" fill="#f3a2a0"/><rect x="109.00" y="758.96" width="32.30" height="6.43" fill="#f5aeac"/><rect x="141.00" y="758.96" width="32.30" height="6.43" fill="#e95652"/><rect x="173.00" y="758.96" width="32.30" height="6.43" fill="#f8c6c4"/><rect x="205.00" y="758.96" width="32.30" height="6.43" fill="#f5aeac"/><rect x="77.00" y="765.10" width="32.30" height="6.43" fill="#ed7572"/><rect x="109.00" y="765.10" width="32.30" height="6.43" fill="#f6bab8"/><rect x="141.00" y="765.10" width="32.30" height="6.43" fill="#ed7572"/><rect x="173.00" y="765.10" width="32.30" height="6.43" fill="#f6bab8"/><rect x="205.00" y="765.10" width="32.30" height="6.43" fill="#f8c6c4"/><rect x="77.00" y="771.24" width="32.30" height="6.43" fill="#ed7572"/><rect x="109.00" y="771.24" width="32.30" height="6.43" fill="#f5aeac"/><rect x="141.00" y="771.24" width="32.30" height="6.43" fill="#e84c48"/><rect x="173.00" y="771.24" width="32.30" height="6.43" fill="#f6bab8"/><rect x="205.00" y="771.24" width="32.30" height="6.43" fill="#f9d1d0"/><rect x="77.00" y="777.37" width="32.30" height="6.43" fill="#f29694"/><rect x="109.00" y="777.37" width="32.30" height="6.43" fill="#f6bab8"/><rect x="141.00" y="777.37" width="32.30" height="6.43" fill="#e7423e"/><rect x="173.00" y="777.37" width="32.30" height="6.43" fill="#fce8e7"/><rect x="205.00" y="777.37" width="32.30" height="6.43" fill="#f9d1d0"/><rect x="77.00" y="783.50" width="32.30" height="6.43" fill="#ef807d"/><rect x="109.00" y="783.50" width="32.30" height="6.43" fill="#f6bab8"/><rect x="141.00" y="783.50" width="32.30" height="6.43" fill="#e7423e"/><rect x="173.00" y="783.50" width="32.30" height="6.43" fill="#f6bab8"/><rect x="205.00" y="783.50" width="32.30" height="6.43" fill="#f8c6c4"/><rect x="77.00" y="789.64" width="32.30" height="6.43" fill="#ef807d"/><rect x="109.00" y="789.64" width="32.30" height="6.43" fill="#f6bab8"/><rect x="141.00" y="789.64" width="32.30" height="6.43" fill="#e7423e"/><rect x="173.00" y="789.64" width="32.30" height="6.43" fill="#f5aeac"/><rect x="205.00" y="789.64" width="32.30" height="6.43" fill="#f6bab8"/><rect x="77.00" y="795.77" width="32.30" height="6.43" fill="#ef807d"/><rect x="109.00" y="795.77" width="32.30" height="6.43" fill="#f5aeac"/><rect x="141.00" y="795.77" width="32.30" height="6.43" fill="#f3a2a0"/><rect x="173.00" y="795.77" width="32.30" height="6.43" fill="#f3a2a0"/><rect x="205.00" y="795.77" width="32.30" height="6.43" fill="#f6bab8"/><rect x="77.00" y="801.91" width="32.30" height="6.43" fill="#f08a88"/><rect x="109.00" y="801.91" width="32.30" height="6.43" fill="#f5aeac"/><rect x="141.00" y="801.91" width="32.30" height="6.43" fill="#f29694"/><rect x="173.00" y="801.91" width="32.30" height="6.43" fill="#f29694"/><rect x="205.00" y="801.91" width="32.30" height="6.43" fill="#f3a2a0"/><rect x="77.00" y="808.04" width="32.30" height="6.43" fill="#f29694"/><rect x="109.00" y="808.04" width="32.30" height="6.43" fill="#f5aeac"/><rect x="141.00" y="808.04" width="32.30" height="6.43" fill="#ef807d"/><rect x="173.00" y="808.04" width="32.30" height="6.43" fill="#f5aeac"/><rect x="205.00" y="808.04" width="32.30" height="6.43" fill="#f3a2a0"/><rect x="77.00" y="814.18" width="32.30" height="6.43" fill="#f08a88"/><rect x="109.00" y="814.18" width="32.30" height="6.43" fill="#f8c6c4"/><rect x="141.00" y="814.18" width="32.30" height="6.43" fill="#f08a88"/><rect x="173.00" y="814.18" width="32.30" height="6.43" fill="#f29694"/><rect x="205.00" y="814.18" width="32.30" height="6.43" fill="#f5aeac"/><rect x="77.00" y="820.32" width="32.30" height="6.43" fill="#ef807d"/><rect x="109.00" y="820.32" width="32.30" height="6.43" fill="#fef4f3"/><rect x="141.00" y="820.32" width="32.30" height="6.43" fill="#f08a88"/><rect x="173.00" y="820.32" width="32.30" height="6.43" fill="#f3a2a0"/><rect x="205.00" y="820.32" width="32.30" height="6.43" fill="#f3a2a0"/><rect x="77.00" y="826.45" width="32.30" height="6.43" fill="#ed7572"/><rect x="109.00" y="826.45" width="32.30" height="6.43" fill="#f6bab8"/><rect x="141.00" y="826.45" width="32.30" height="6.43" fill="#f08a88"/><rect x="173.00" y="826.45" width="32.30" height="6.43" fill="#f29694"/><rect x="205.00" y="826.45" width="32.30" height="6.43" fill="#f08a88"/><rect x="77.00" y="832.59" width="32.30" height="6.43" fill="#f08a88"/><rect x="109.00" y="832.59" width="32.30" height="6.43" fill="#f5aeac"/><rect x="141.00" y="832.59" width="32.30" height="6.43" fill="#f29694"/><rect x="173.00" y="832.59" width="32.30" height="6.43" fill="#f5aeac"/><rect x="205.00" y="832.59" width="32.30" height="6.43" fill="#fce8e7"/><rect x="77.00" y="838.72" width="32.30" height="6.43" fill="#f3a2a0"/><rect x="109.00" y="838.72" width="32.30" height="6.43" fill="#f6bab8"/><rect x="141.00" y="838.72" width="32.30" height="6.43" fill="#ef807d"/><rect x="173.00" y="838.72" width="32.30" height="6.43" fill="#f29694"/><rect x="205.00" y="838.72" width="32.30" height="6.43" fill="#f3a2a0"/><rect x="77.00" y="844.86" width="32.30" height="6.43" fill="#f3a2a0"/><rect x="109.00" y="844.86" width="32.30" height="6.43" fill="#f6bab8"/><rect x="141.00" y="844.86" width="32.30" height="6.43" fill="#ef807d"/><rect x="173.00" y="844.86" width="32.30" height="6.43" fill="#ed7572"/><rect x="205.00" y="844.86" width="32.30" height="6.43" fill="#f29694"/><rect x="77.00" y="850.99" width="32.30" height="6.43" fill="#f5aeac"/><rect x="109.00" y="850.99" width="32.30" height="6.43" fill="#f6bab8"/><rect x="141.00" y="850.99" width="32.30" height="6.43" fill="#ef807d"/><rect x="173.00" y="850.99" width="32.30" height="6.43" fill="#ed7572"/><rect x="205.00" y="850.99" width="32.30" height="6.43" fill="#f9d1d0"/><rect x="77.00" y="857.12" width="32.30" height="6.43" fill="#f3a2a0"/><rect x="109.00" y="857.12" width="32.30" height="6.43" fill="#f08a88"/><rect x="141.00" y="857.12" width="32.30" height="6.43" fill="#ef807d"/><rect x="173.00" y="857.12" width="32.30" height="6.43" fill="#f08a88"/><rect x="205.00" y="857.12" width="32.30" height="6.43" fill="#f29694"/><rect x="77.00" y="863.26" width="32.30" height="6.43" fill="#f29694"/><rect x="109.00" y="863.26" width="32.30" height="6.43" fill="#f08a88"/><rect x="141.00" y="863.26" width="32.30" height="6.43" fill="#ec6b68"/><rect x="173.00" y="863.26" width="32.30" height="6.43" fill="#f3a2a0"/><rect x="205.00" y="863.26" width="32.30" height="6.43" fill="#f29694"/><rect x="77.00" y="869.39" width="32.30" height="6.43" fill="#f5aeac"/><rect x="109.00" y="869.39" width="32.30" height="6.43" fill="#fef9f9"/><rect x="141.00" y="869.39" width="32.30" height="6.43" fill="#ec6b68"/><rect x="173.00" y="869.39" width="32.30" height="6.43" fill="#f6bab8"/><rect x="205.00" y="869.39" width="32.30" height="6.43" fill="#f29694"/><rect x="77.00" y="875.53" width="32.30" height="6.43" fill="#f5aeac"/><rect x="109.00" y="875.53" width="32.30" height="6.43" fill="#fbdddc"/><rect x="141.00" y="875.53" width="32.30" height="6.43" fill="#ea605d"/><rect x="173.00" y="875.53" width="32.30" height="6.43" fill="#f6bab8"/><rect x="205.00" y="875.53" width="32.30" height="6.43" fill="#f08a88"/><rect x="77.00" y="881.66" width="32.30" height="6.43" fill="#f3a2a0"/><rect x="109.00" y="881.66" width="32.30" height="6.43" fill="#fef4f3"/><rect x="141.00" y="881.66" width="32.30" height="6.43" fill="#ea605d"/><rect x="173.00" y="881.66" width="32.30" height="6.43" fill="#f6bab8"/><rect x="205.00" y="881.66" width="32.30" height="6.43" fill="#ea605d"/><rect x="77.00" y="887.80" width="32.30" height="6.43" fill="#f08a88"/><rect x="109.00" y="887.80" width="32.30" height="6.43" fill="#f3a2a0"/><rect x="141.00" y="887.80" width="32.30" height="6.43" fill="#fef4f3"/><rect x="173.00" y="887.80" width="32.30" height="6.43" fill="#f29694"/><rect x="205.00" y="887.80" width="32.30" height="6.43" fill="#e95652"/><rect x="77.00" y="893.93" width="32.30" height="6.43" fill="#f08a88"/><rect x="109.00" y="893.93" width="32.30" height="6.43" fill="#f5aeac"/><rect x="141.00" y="893.93" width="32.30" height="6.43" fill="#fef4f3"/><rect x="173.00" y="893.93" width="32.30" height="6.43" fill="#fef4f3"/><rect x="205.00" y="893.93" width="32.30" height="6.43" fill="#ea605d"/><rect x="77.00" y="900.07" width="32.30" height="6.43" fill="#f08a88"/><rect x="109.00" y="900.07" width="32.30" height="6.43" fill="#fbdddc"/><rect x="141.00" y="900.07" width="32.30" height="6.43" fill="#f6bab8"/><rect x="173.00" y="900.07" width="32.30" height="6.43" fill="#f6bab8"/><rect x="205.00" y="900.07" width="32.30" height="6.43" fill="#e95652"/><rect x="77.00" y="906.20" width="32.30" height="6.43" fill="#f08a88"/><rect x="109.00" y="906.20" width="32.30" height="6.43" fill="#f8c6c4"/><rect x="141.00" y="906.20" width="32.30" height="6.43" fill="#f6bab8"/><rect x="173.00" y="906.20" width="32.30" height="6.43" fill="#f6bab8"/><rect x="205.00" y="906.20" width="32.30" height="6.43" fill="#ec6b68"/><rect x="77.00" y="912.34" width="32.30" height="6.43" fill="#f3a2a0"/><rect x="109.00" y="912.34" width="32.30" height="6.43" fill="#f5aeac"/><rect x="141.00" y="912.34" width="32.30" height="6.43" fill="#f5aeac"/><rect x="173.00" y="912.34" width="32.30" height="6.43" fill="#fef4f3"/><rect x="205.00" y="912.34" width="32.30" height="6.43" fill="#ed7572"/><rect x="77.00" y="918.48" width="32.30" height="6.43" fill="#f3a2a0"/><rect x="109.00" y="918.48" width="32.30" height="6.43" fill="#f3a2a0"/><rect x="141.00" y="918.48" width="32.30" height="6.43" fill="#f5aeac"/><rect x="173.00" y="918.48" width="32.30" height="6.43" fill="#fef4f3"/><rect x="205.00" y="918.48" width="32.30" height="6.43" fill="#f08a88"/><rect x="77.00" y="924.61" width="32.30" height="6.43" fill="#f29694"/><rect x="109.00" y="924.61" width="32.30" height="6.43" fill="#e84c48"/><rect x="141.00" y="924.61" width="32.30" height="6.43" fill="#f3a2a0"/><rect x="173.00" y="924.61" width="32.30" height="6.43" fill="#f08a88"/><rect x="205.00" y="924.61" width="32.30" height="6.43" fill="#ed7572"/><rect x="77.00" y="930.75" width="32.30" height="6.43" fill="#f08a88"/><rect x="109.00" y="930.75" width="32.30" height="6.43" fill="#f08a88"/><rect x="141.00" y="930.75" width="32.30" height="6.43" fill="#e84c48"/><rect x="173.00" y="930.75" width="32.30" height="6.43" fill="#f8c6c4"/><rect x="205.00" y="930.75" width="32.30" height="6.43" fill="#f6bab8"/><rect x="77.00" y="936.88" width="32.30" height="6.43" fill="#f08a88"/><rect x="109.00" y="936.88" width="32.30" height="6.43" fill="#ed7572"/><rect x="141.00" y="936.88" width="32.30" height="6.43" fill="#e84c48"/><rect x="173.00" y="936.88" width="32.30" height="6.43" fill="#f9d1d0"/><rect x="205.00" y="936.88" width="32.30" height="6.43" fill="#f6bab8"/><rect x="77.00" y="943.01" width="32.30" height="6.43" fill="#f29694"/><rect x="109.00" y="943.01" width="32.30" height="6.43" fill="#ed7572"/><rect x="141.00" y="943.01" width="32.30" height="6.43" fill="#e53834"/><rect x="173.00" y="943.01" width="32.30" height="6.43" fill="#f9d1d0"/><rect x="205.00" y="943.01" width="32.30" height="6.43" fill="#f6bab8"/><rect x="77.00" y="949.15" width="32.30" height="6.43" fill="#f08a88"/><rect x="109.00" y="949.15" width="32.30" height="6.43" fill="#e95652"/><rect x="141.00" y="949.15" width="32.30" height="6.43" fill="#e53834"/><rect x="173.00" y="949.15" width="32.30" height="6.43" fill="#ffffff"/><rect x="205.00" y="949.15" width="32.30" height="6.43" fill="#f6bab8"/><rect x="77.00" y="955.28" width="32.30" height="6.43" fill="#f08a88"/><rect x="109.00" y="955.28" width="32.30" height="6.43" fill="#ec6b68"/><rect x="141.00" y="955.28" width="32.30" height="6.43" fill="#e7423e"/><rect x="173.00" y="955.28" width="32.30" height="6.43" fill="#f3a2a0"/><rect x="205.00" y="955.28" width="32.30" height="6.43" fill="#ea605d"/></g>
<g font-size="5.75" fill="#1e1e1e" stroke="#1e1e1e" stroke-width="0.16"><text x="238.6" y="402.07">VAT1</text><text x="238.6" y="408.20">LGALS3</text><text x="238.6" y="414.34">OGDH</text><text x="238.6" y="420.47">DHRS1</text><text x="238.6" y="426.61">PDPR</text><text x="238.6" y="432.74">SYNE2</text><text x="238.6" y="438.88">MLXIP</text><text x="238.6" y="445.01">HERC2</text><text x="238.6" y="451.15">TXNIP</text><text x="238.6" y="457.28">HSPA1L</text><text x="238.6" y="463.42">ALDH5A1</text><text x="238.6" y="469.55">MRPS15</text><text x="238.6" y="475.69">OCIAD2</text><text x="238.6" y="481.82">ATP5C1</text><text x="238.6" y="487.96">STOML2</text><text x="238.6" y="494.09">IDH2</text><text x="238.6" y="500.23">NDUFA12</text><text x="238.6" y="506.36">ETHE1</text><text x="238.6" y="512.50">MRPS14</text><text x="238.6" y="518.63">MTCH2</text><text x="238.6" y="524.77">NDUFB4</text><text x="238.6" y="530.90">NDUFA8</text><text x="238.6" y="537.04">MRPL51</text><text x="238.6" y="543.17">ATPIF1</text><text x="238.6" y="549.31">COX6C</text><text x="238.6" y="555.44">NDUFV2</text><text x="238.6" y="561.58">NDUFB3</text><text x="238.6" y="567.71">TOMM34</text><text x="238.6" y="573.85">CHCHD7</text><text x="238.6" y="579.98">MRPS17</text><text x="238.6" y="586.12">CYB5A</text><text x="238.6" y="592.25">CYCS</text><text x="238.6" y="598.39">MRPL18</text><text x="238.6" y="604.52">DECR1</text><text x="238.6" y="610.66">MRPS16</text><text x="238.6" y="616.79">COX7C</text><text x="238.6" y="622.93">UQCRH</text><text x="238.6" y="629.06">NDUFB10</text><text x="238.6" y="635.20">MRPS11</text><text x="238.6" y="641.33">COX5A</text><text x="238.6" y="647.47">COX7A2</text><text x="238.6" y="653.60">NDUFA7</text><text x="238.6" y="659.74">ICT1</text><text x="238.6" y="665.87">NDUFA5</text><text x="238.6" y="672.01">MRPS36</text><text x="238.6" y="678.14">NDUFAB1</text><text x="238.6" y="684.28">MRPS33</text><text x="238.6" y="690.41">MRPL11</text><text x="238.6" y="696.55">NDUFB1</text><text x="238.6" y="702.68">CHCHD3</text><text x="238.6" y="708.82">HIGD1A</text><text x="238.6" y="714.95">TIMM17A</text><text x="238.6" y="721.09">COX7B</text><text x="238.6" y="727.22">NDUFA4</text><text x="238.6" y="733.36">MRPS28</text><text x="238.6" y="739.49">ATP5O</text><text x="238.6" y="745.63">MPV17</text><text x="238.6" y="751.76">ETFA</text><text x="238.6" y="757.90">MRPL37</text><text x="238.6" y="764.03">COX6A1</text><text x="238.6" y="770.17">MRPL36</text><text x="238.6" y="776.30">ATP5G3</text><text x="238.6" y="782.44">ATP5G1</text><text x="238.6" y="788.57">COX5B</text><text x="238.6" y="794.71">SLC25A5</text><text x="238.6" y="800.84">CYC1</text><text x="238.6" y="806.98">SDHD</text><text x="238.6" y="813.11">VDAC3</text><text x="238.6" y="819.25">MRPL17</text><text x="238.6" y="825.38">AGK</text><text x="238.6" y="831.52">RNF5</text><text x="238.6" y="837.65">FDXR</text><text x="238.6" y="843.79">MRPL32</text><text x="238.6" y="849.92">MRPL42</text><text x="238.6" y="856.06">PPA2</text><text x="238.6" y="862.19">PMAIP1</text><text x="238.6" y="868.33">NDUFB5</text><text x="238.6" y="874.46">TIMM22</text><text x="238.6" y="880.60">DGUOK</text><text x="238.6" y="886.73">TOMM5</text><text x="238.6" y="892.87">MCEE</text><text x="238.6" y="899.00">BCL2L11</text><text x="238.6" y="905.14">ACN9</text><text x="238.6" y="911.27">DNAJC19</text><text x="238.6" y="917.41">MRPL47</text><text x="238.6" y="923.54">TIMM8A</text><text x="238.6" y="929.68">SLC25A10</text><text x="238.6" y="935.81">TRMT5</text><text x="238.6" y="941.95">NDUFS4</text><text x="238.6" y="948.08">NUDT1</text><text x="238.6" y="954.22">SFXN1</text><text x="238.6" y="960.35">DTYMK</text></g>
<rect x="55.50" y="397.00" width="18.40" height="6.13" fill="#000"/>
<rect x="55.50" y="409.27" width="18.40" height="12.27" fill="#000"/>
<rect x="55.50" y="439.94" width="18.40" height="6.13" fill="#000"/>
<rect x="55.50" y="470.62" width="18.40" height="6.13" fill="#000"/>
<rect x="55.50" y="495.16" width="18.40" height="6.13" fill="#000"/>
<rect x="55.50" y="525.84" width="18.40" height="12.27" fill="#000"/>
<rect x="55.50" y="544.24" width="18.40" height="18.41" fill="#000"/>
<rect x="55.50" y="568.78" width="18.40" height="6.13" fill="#000"/>
<rect x="55.50" y="587.18" width="18.40" height="6.13" fill="#000"/>
<rect x="55.50" y="599.45" width="18.40" height="6.13" fill="#000"/>
<rect x="55.50" y="703.75" width="18.40" height="12.27" fill="#000"/>
<rect x="55.50" y="728.29" width="18.40" height="6.13" fill="#000"/>
<rect x="55.50" y="746.69" width="18.40" height="6.13" fill="#000"/>
<rect x="55.50" y="808.04" width="18.40" height="6.13" fill="#000"/>
<rect x="55.50" y="863.26" width="18.40" height="6.13" fill="#000"/>
<rect x="55.50" y="887.80" width="18.40" height="6.13" fill="#000"/>
<rect x="55.50" y="900.07" width="18.40" height="6.13" fill="#000"/>
<rect x="55.50" y="936.88" width="18.40" height="6.13" fill="#000"/>
<path d="M30.5,400.5L30.5,406.5M30.5,400.5L53.5,400.5M30.5,406.5L53.5,406.5M46.5,412.5L46.5,418.5M46.5,412.5L53.5,412.5M46.5,418.5L53.5,418.5M28.5,403.5L28.5,415.5M28.5,403.5L30.5,403.5M28.5,415.5L46.5,415.5M47.5,424.5L47.5,430.5M47.5,424.5L53.5,424.5M47.5,430.5L53.5,430.5M43.5,427.5L43.5,436.5M43.5,427.5L47.5,427.5M43.5,436.5L53.5,436.5M41.5,432.5L41.5,443.5M41.5,432.5L43.5,432.5M41.5,443.5L53.5,443.5M36.5,437.5L36.5,449.5M36.5,437.5L41.5,437.5M36.5,449.5L53.5,449.5M39.5,455.5L39.5,461.5M39.5,455.5L53.5,455.5M39.5,461.5L53.5,461.5M31.5,443.5L31.5,458.5M31.5,443.5L36.5,443.5M31.5,458.5L39.5,458.5M23.5,409.5L23.5,450.5M23.5,409.5L28.5,409.5M23.5,450.5L31.5,450.5M48.5,467.5L48.5,473.5M48.5,467.5L53.5,467.5M48.5,473.5L53.5,473.5M49.5,479.5L49.5,485.5M49.5,479.5L53.5,479.5M49.5,485.5L53.5,485.5M47.5,470.5L47.5,482.5M47.5,470.5L48.5,470.5M47.5,482.5L49.5,482.5M49.5,492.5L49.5,498.5M49.5,492.5L53.5,492.5M49.5,498.5L53.5,498.5M48.5,495.5L48.5,504.5M48.5,495.5L49.5,495.5M48.5,504.5L53.5,504.5M47.5,499.5L47.5,510.5M47.5,499.5L48.5,499.5M47.5,510.5L53.5,510.5M46.5,505.5L46.5,516.5M46.5,505.5L47.5,505.5M46.5,516.5L53.5,516.5M44.5,476.5L44.5,510.5M44.5,476.5L47.5,476.5M44.5,510.5L46.5,510.5M49.5,528.5L49.5,535.5M49.5,528.5L53.5,528.5M49.5,535.5L53.5,535.5M48.5,522.5L48.5,531.5M48.5,522.5L53.5,522.5M48.5,531.5L49.5,531.5M48.5,541.5L48.5,547.5M48.5,541.5L53.5,541.5M48.5,547.5L53.5,547.5M46.5,527.5L46.5,544.5M46.5,527.5L48.5,527.5M46.5,544.5L48.5,544.5M48.5,553.5L48.5,559.5M48.5,553.5L53.5,553.5M48.5,559.5L53.5,559.5M47.5,556.5L47.5,565.5M47.5,556.5L48.5,556.5M47.5,565.5L53.5,565.5M45.5,535.5L45.5,561.5M45.5,535.5L46.5,535.5M45.5,561.5L47.5,561.5M49.5,577.5L49.5,584.5M49.5,577.5L53.5,577.5M49.5,584.5L53.5,584.5M48.5,571.5L48.5,581.5M48.5,571.5L53.5,571.5M48.5,581.5L49.5,581.5M47.5,576.5L47.5,590.5M47.5,576.5L48.5,576.5M47.5,590.5L53.5,590.5M49.5,596.5L49.5,602.5M49.5,596.5L53.5,596.5M49.5,602.5L53.5,602.5M49.5,608.5L49.5,614.5M49.5,608.5L53.5,608.5M49.5,614.5L53.5,614.5M47.5,599.5L47.5,611.5M47.5,599.5L49.5,599.5M47.5,611.5L49.5,611.5M44.5,583.5L44.5,605.5M44.5,583.5L47.5,583.5M44.5,605.5L47.5,605.5M42.5,548.5L42.5,594.5M42.5,548.5L45.5,548.5M42.5,594.5L44.5,594.5M41.5,493.5L41.5,571.5M41.5,493.5L44.5,493.5M41.5,571.5L42.5,571.5M49.5,620.5L49.5,627.5M49.5,620.5L53.5,620.5M49.5,627.5L53.5,627.5M48.5,623.5L48.5,633.5M48.5,623.5L49.5,623.5M48.5,633.5L53.5,633.5M49.5,639.5L49.5,645.5M49.5,639.5L53.5,639.5M49.5,645.5L53.5,645.5M45.5,628.5L45.5,642.5M45.5,628.5L48.5,628.5M45.5,642.5L49.5,642.5M49.5,651.5L49.5,657.5M49.5,651.5L53.5,651.5M49.5,657.5L53.5,657.5M48.5,654.5L48.5,663.5M48.5,654.5L49.5,654.5M48.5,663.5L53.5,663.5M44.5,635.5L44.5,659.5M44.5,635.5L45.5,635.5M44.5,659.5L48.5,659.5M48.5,670.5L48.5,676.5M48.5,670.5L53.5,670.5M48.5,676.5L53.5,676.5M49.5,694.5L49.5,700.5M49.5,694.5L53.5,694.5M49.5,700.5L53.5,700.5M48.5,688.5L48.5,697.5M48.5,688.5L53.5,688.5M48.5,697.5L49.5,697.5M47.5,682.5L47.5,693.5M47.5,682.5L53.5,682.5M47.5,693.5L48.5,693.5M46.5,673.5L46.5,687.5M46.5,673.5L48.5,673.5M46.5,687.5L47.5,687.5M42.5,647.5L42.5,680.5M42.5,647.5L44.5,647.5M42.5,680.5L46.5,680.5M40.5,532.5L40.5,663.5M40.5,532.5L41.5,532.5M40.5,663.5L42.5,663.5M49.5,706.5L49.5,712.5M49.5,706.5L53.5,706.5M49.5,712.5L53.5,712.5M47.5,709.5L47.5,719.5M47.5,709.5L49.5,709.5M47.5,719.5L53.5,719.5M46.5,714.5L46.5,725.5M46.5,714.5L47.5,714.5M46.5,725.5L53.5,725.5M49.5,731.5L49.5,737.5M49.5,731.5L53.5,731.5M49.5,737.5L53.5,737.5M45.5,719.5L45.5,734.5M45.5,719.5L46.5,719.5M45.5,734.5L49.5,734.5M49.5,749.5L49.5,755.5M49.5,749.5L53.5,749.5M49.5,755.5L53.5,755.5M48.5,752.5L48.5,762.5M48.5,752.5L49.5,752.5M48.5,762.5L53.5,762.5M47.5,743.5L47.5,757.5M47.5,743.5L53.5,743.5M47.5,757.5L48.5,757.5M44.5,727.5L44.5,750.5M44.5,727.5L45.5,727.5M44.5,750.5L47.5,750.5M49.5,768.5L49.5,774.5M49.5,768.5L53.5,768.5M49.5,774.5L53.5,774.5M49.5,786.5L49.5,792.5M49.5,786.5L53.5,786.5M49.5,792.5L53.5,792.5M47.5,780.5L47.5,789.5M47.5,780.5L53.5,780.5M47.5,789.5L49.5,789.5M45.5,771.5L45.5,785.5M45.5,771.5L49.5,771.5M45.5,785.5L47.5,785.5M43.5,738.5L43.5,778.5M43.5,738.5L44.5,738.5M43.5,778.5L45.5,778.5M49.5,798.5L49.5,804.5M49.5,798.5L53.5,798.5M49.5,804.5L53.5,804.5M49.5,811.5L49.5,817.5M49.5,811.5L53.5,811.5M49.5,817.5L53.5,817.5M46.5,801.5L46.5,814.5M46.5,801.5L49.5,801.5M46.5,814.5L49.5,814.5M49.5,823.5L49.5,829.5M49.5,823.5L53.5,823.5M49.5,829.5L53.5,829.5M45.5,808.5L45.5,826.5M45.5,808.5L46.5,808.5M45.5,826.5L49.5,826.5M49.5,841.5L49.5,847.5M49.5,841.5L53.5,841.5M49.5,847.5L53.5,847.5M47.5,835.5L47.5,844.5M47.5,835.5L53.5,835.5M47.5,844.5L49.5,844.5M49.5,854.5L49.5,860.5M49.5,854.5L53.5,854.5M49.5,860.5L53.5,860.5M47.5,857.5L47.5,866.5M47.5,857.5L49.5,857.5M47.5,866.5L53.5,866.5M45.5,840.5L45.5,861.5M45.5,840.5L47.5,840.5M45.5,861.5L47.5,861.5M43.5,817.5L43.5,850.5M43.5,817.5L45.5,817.5M43.5,850.5L45.5,850.5M41.5,758.5L41.5,834.5M41.5,758.5L43.5,758.5M41.5,834.5L43.5,834.5M37.5,598.5L37.5,796.5M37.5,598.5L40.5,598.5M37.5,796.5L41.5,796.5M49.5,872.5L49.5,878.5M49.5,872.5L53.5,872.5M49.5,878.5L53.5,878.5M48.5,884.5L48.5,890.5M48.5,884.5L53.5,884.5M48.5,890.5L53.5,890.5M46.5,875.5L46.5,887.5M46.5,875.5L49.5,875.5M46.5,887.5L48.5,887.5M49.5,897.5L49.5,903.5M49.5,897.5L53.5,897.5M49.5,903.5L53.5,903.5M49.5,915.5L49.5,921.5M49.5,915.5L53.5,915.5M49.5,921.5L53.5,921.5M48.5,909.5L48.5,918.5M48.5,909.5L53.5,909.5M48.5,918.5L49.5,918.5M46.5,900.5L46.5,913.5M46.5,900.5L49.5,900.5M46.5,913.5L48.5,913.5M40.5,881.5L40.5,906.5M40.5,881.5L46.5,881.5M40.5,906.5L46.5,906.5M32.5,810.5L32.5,913.5M32.5,810.5L37.5,810.5M32.5,913.5L40.5,913.5M49.5,927.5L49.5,933.5M49.5,927.5L53.5,927.5M49.5,933.5L53.5,933.5M49.5,939.5L49.5,946.5M49.5,939.5L53.5,939.5M49.5,946.5L53.5,946.5M48.5,943.5L48.5,952.5M48.5,943.5L49.5,943.5M48.5,952.5L53.5,952.5M47.5,947.5L47.5,958.5M47.5,947.5L48.5,947.5M47.5,958.5L53.5,958.5M38.5,930.5L38.5,952.5M38.5,930.5L49.5,930.5M38.5,952.5L47.5,952.5M28.5,862.5L28.5,951.5M28.5,862.5L32.5,862.5M28.5,951.5L38.5,951.5M17.5,429.5L17.5,907.5M17.5,429.5L23.5,429.5M17.5,907.5L28.5,907.5" stroke="#000" stroke-width="1.0" fill="none" stroke-linecap="square"/>
<g shape-rendering="crispEdges"><rect x="327.00" y="395.60" width="28.50" height="6.61" fill="#ed7572"/><rect x="355.20" y="395.60" width="28.50" height="6.61" fill="#f08a88"/><rect x="383.40" y="395.60" width="28.50" height="6.61" fill="#ec6b68"/><rect x="411.60" y="395.60" width="28.50" height="6.61" fill="#f6bab8"/><rect x="439.80" y="395.60" width="28.50" height="6.61" fill="#f6bab8"/><rect x="327.00" y="401.91" width="28.50" height="6.61" fill="#ed7572"/><rect x="355.20" y="401.91" width="28.50" height="6.61" fill="#f08a88"/><rect x="383.40" y="401.91" width="28.50" height="6.61" fill="#ec6b68"/><rect x="411.60" y="401.91" width="28.50" height="6.61" fill="#ef807d"/><rect x="439.80" y="401.91" width="28.50" height="6.61" fill="#fce8e7"/><rect x="327.00" y="408.23" width="28.50" height="6.61" fill="#ec6b68"/><rect x="355.20" y="408.23" width="28.50" height="6.61" fill="#f08a88"/><rect x="383.40" y="408.23" width="28.50" height="6.61" fill="#ea605d"/><rect x="411.60" y="408.23" width="28.50" height="6.61" fill="#ed7572"/><rect x="439.80" y="408.23" width="28.50" height="6.61" fill="#f6bab8"/><rect x="327.00" y="414.54" width="28.50" height="6.61" fill="#ec6b68"/><rect x="355.20" y="414.54" width="28.50" height="6.61" fill="#f6bab8"/><rect x="383.40" y="414.54" width="28.50" height="6.61" fill="#e7423e"/><rect x="411.60" y="414.54" width="28.50" height="6.61" fill="#f8c6c4"/><rect x="439.80" y="414.54" width="28.50" height="6.61" fill="#f6bab8"/><rect x="327.00" y="420.85" width="28.50" height="6.61" fill="#ec6b68"/><rect x="355.20" y="420.85" width="28.50" height="6.61" fill="#e53834"/><rect x="383.40" y="420.85" width="28.50" height="6.61" fill="#e53834"/><rect x="411.60" y="420.85" width="28.50" height="6.61" fill="#f9d1d0"/><rect x="439.80" y="420.85" width="28.50" height="6.61" fill="#e7e8f4"/><rect x="327.00" y="427.17" width="28.50" height="6.61" fill="#f29694"/><rect x="355.20" y="427.17" width="28.50" height="6.61" fill="#f9d1d0"/><rect x="383.40" y="427.17" width="28.50" height="6.61" fill="#e42e2a"/><rect x="411.60" y="427.17" width="28.50" height="6.61" fill="#f9d1d0"/><rect x="439.80" y="427.17" width="28.50" height="6.61" fill="#ffffff"/><rect x="327.00" y="433.48" width="28.50" height="6.61" fill="#fce8e7"/><rect x="355.20" y="433.48" width="28.50" height="6.61" fill="#e95652"/><rect x="383.40" y="433.48" width="28.50" height="6.61" fill="#e42e2a"/><rect x="411.60" y="433.48" width="28.50" height="6.61" fill="#dadcef"/><rect x="439.80" y="433.48" width="28.50" height="6.61" fill="#c2c5e4"/><rect x="327.00" y="439.79" width="28.50" height="6.61" fill="#ef807d"/><rect x="355.20" y="439.79" width="28.50" height="6.61" fill="#f8c6c4"/><rect x="383.40" y="439.79" width="28.50" height="6.61" fill="#e95652"/><rect x="411.60" y="439.79" width="28.50" height="6.61" fill="#f5aeac"/><rect x="439.80" y="439.79" width="28.50" height="6.61" fill="#ed7572"/><rect x="327.00" y="446.10" width="28.50" height="6.61" fill="#ef807d"/><rect x="355.20" y="446.10" width="28.50" height="6.61" fill="#fbdddc"/><rect x="383.40" y="446.10" width="28.50" height="6.61" fill="#e95652"/><rect x="411.60" y="446.10" width="28.50" height="6.61" fill="#f3a2a0"/><rect x="439.80" y="446.10" width="28.50" height="6.61" fill="#ef807d"/><rect x="327.00" y="452.42" width="28.50" height="6.61" fill="#ef807d"/><rect x="355.20" y="452.42" width="28.50" height="6.61" fill="#fbdddc"/><rect x="383.40" y="452.42" width="28.50" height="6.61" fill="#ea605d"/><rect x="411.60" y="452.42" width="28.50" height="6.61" fill="#f6bab8"/><rect x="439.80" y="452.42" width="28.50" height="6.61" fill="#e53834"/><rect x="327.00" y="458.73" width="28.50" height="6.61" fill="#f9f9fc"/><rect x="355.20" y="458.73" width="28.50" height="6.61" fill="#fbdddc"/><rect x="383.40" y="458.73" width="28.50" height="6.61" fill="#e84c48"/><rect x="411.60" y="458.73" width="28.50" height="6.61" fill="#ffffff"/><rect x="439.80" y="458.73" width="28.50" height="6.61" fill="#ea605d"/><rect x="327.00" y="465.04" width="28.50" height="6.61" fill="#ed7572"/><rect x="355.20" y="465.04" width="28.50" height="6.61" fill="#f8c6c4"/><rect x="383.40" y="465.04" width="28.50" height="6.61" fill="#ed7572"/><rect x="411.60" y="465.04" width="28.50" height="6.61" fill="#f3a2a0"/><rect x="439.80" y="465.04" width="28.50" height="6.61" fill="#e95652"/><rect x="327.00" y="471.36" width="28.50" height="6.61" fill="#f1908e"/><rect x="355.20" y="471.36" width="28.50" height="6.61" fill="#f3a2a0"/><rect x="383.40" y="471.36" width="28.50" height="6.61" fill="#ef807d"/><rect x="411.60" y="471.36" width="28.50" height="6.61" fill="#f5aeac"/><rect x="439.80" y="471.36" width="28.50" height="6.61" fill="#f5aeac"/><rect x="327.00" y="477.67" width="28.50" height="6.61" fill="#f29c9a"/><rect x="355.20" y="477.67" width="28.50" height="6.61" fill="#f5aeac"/><rect x="383.40" y="477.67" width="28.50" height="6.61" fill="#ef807d"/><rect x="411.60" y="477.67" width="28.50" height="6.61" fill="#f6bab8"/><rect x="439.80" y="477.67" width="28.50" height="6.61" fill="#f5aeac"/><rect x="327.00" y="483.98" width="28.50" height="6.61" fill="#f1908e"/><rect x="355.20" y="483.98" width="28.50" height="6.61" fill="#f9d1d0"/><rect x="383.40" y="483.98" width="28.50" height="6.61" fill="#f29694"/><rect x="411.60" y="483.98" width="28.50" height="6.61" fill="#f5aeac"/><rect x="439.80" y="483.98" width="28.50" height="6.61" fill="#f5aeac"/><rect x="327.00" y="490.30" width="28.50" height="6.61" fill="#f29c9a"/><rect x="355.20" y="490.30" width="28.50" height="6.61" fill="#f9d1d0"/><rect x="383.40" y="490.30" width="28.50" height="6.61" fill="#f08a88"/><rect x="411.60" y="490.30" width="28.50" height="6.61" fill="#f6bab8"/><rect x="439.80" y="490.30" width="28.50" height="6.61" fill="#f3a2a0"/><rect x="327.00" y="496.61" width="28.50" height="6.61" fill="#f29c9a"/><rect x="355.20" y="496.61" width="28.50" height="6.61" fill="#f8c6c4"/><rect x="383.40" y="496.61" width="28.50" height="6.61" fill="#ef807d"/><rect x="411.60" y="496.61" width="28.50" height="6.61" fill="#f8c6c4"/><rect x="439.80" y="496.61" width="28.50" height="6.61" fill="#f3a2a0"/><rect x="327.00" y="502.92" width="28.50" height="6.61" fill="#f1908e"/><rect x="355.20" y="502.92" width="28.50" height="6.61" fill="#f9d1d0"/><rect x="383.40" y="502.92" width="28.50" height="6.61" fill="#f08a88"/><rect x="411.60" y="502.92" width="28.50" height="6.61" fill="#f9d1d0"/><rect x="439.80" y="502.92" width="28.50" height="6.61" fill="#f9d1d0"/><rect x="327.00" y="509.23" width="28.50" height="6.61" fill="#ef8583"/><rect x="355.20" y="509.23" width="28.50" height="6.61" fill="#f3a2a0"/><rect x="383.40" y="509.23" width="28.50" height="6.61" fill="#f3a2a0"/><rect x="411.60" y="509.23" width="28.50" height="6.61" fill="#f9d1d0"/><rect x="439.80" y="509.23" width="28.50" height="6.61" fill="#f8c6c4"/><rect x="327.00" y="515.55" width="28.50" height="6.61" fill="#ee7a78"/><rect x="355.20" y="515.55" width="28.50" height="6.61" fill="#f3a2a0"/><rect x="383.40" y="515.55" width="28.50" height="6.61" fill="#f3a2a0"/><rect x="411.60" y="515.55" width="28.50" height="6.61" fill="#f9d1d0"/><rect x="439.80" y="515.55" width="28.50" height="6.61" fill="#f8c6c4"/><rect x="327.00" y="521.86" width="28.50" height="6.61" fill="#f29c9a"/><rect x="355.20" y="521.86" width="28.50" height="6.61" fill="#f08a88"/><rect x="383.40" y="521.86" width="28.50" height="6.61" fill="#f3a2a0"/><rect x="411.60" y="521.86" width="28.50" height="6.61" fill="#fce8e7"/><rect x="439.80" y="521.86" width="28.50" height="6.61" fill="#ea605d"/><rect x="327.00" y="528.17" width="28.50" height="6.61" fill="#f4a8a6"/><rect x="355.20" y="528.17" width="28.50" height="6.61" fill="#f29694"/><rect x="383.40" y="528.17" width="28.50" height="6.61" fill="#ed7572"/><rect x="411.60" y="528.17" width="28.50" height="6.61" fill="#fce8e7"/><rect x="439.80" y="528.17" width="28.50" height="6.61" fill="#ec6b68"/><rect x="327.00" y="534.49" width="28.50" height="6.61" fill="#f4a8a6"/><rect x="355.20" y="534.49" width="28.50" height="6.61" fill="#fbdddc"/><rect x="383.40" y="534.49" width="28.50" height="6.61" fill="#f08a88"/><rect x="411.60" y="534.49" width="28.50" height="6.61" fill="#f5aeac"/><rect x="439.80" y="534.49" width="28.50" height="6.61" fill="#f08a88"/><rect x="327.00" y="540.80" width="28.50" height="6.61" fill="#f29c9a"/><rect x="355.20" y="540.80" width="28.50" height="6.61" fill="#fbdddc"/><rect x="383.40" y="540.80" width="28.50" height="6.61" fill="#f29694"/><rect x="411.60" y="540.80" width="28.50" height="6.61" fill="#f3a2a0"/><rect x="439.80" y="540.80" width="28.50" height="6.61" fill="#f08a88"/><rect x="327.00" y="547.11" width="28.50" height="6.61" fill="#f4a8a6"/><rect x="355.20" y="547.11" width="28.50" height="6.61" fill="#fce8e7"/><rect x="383.40" y="547.11" width="28.50" height="6.61" fill="#f3a2a0"/><rect x="411.60" y="547.11" width="28.50" height="6.61" fill="#ef807d"/><rect x="439.80" y="547.11" width="28.50" height="6.61" fill="#ef807d"/><rect x="327.00" y="553.42" width="28.50" height="6.61" fill="#ef8583"/><rect x="355.20" y="553.42" width="28.50" height="6.61" fill="#fce8e7"/><rect x="383.40" y="553.42" width="28.50" height="6.61" fill="#f08a88"/><rect x="411.60" y="553.42" width="28.50" height="6.61" fill="#f6bab8"/><rect x="439.80" y="553.42" width="28.50" height="6.61" fill="#f3a2a0"/><rect x="327.00" y="559.74" width="28.50" height="6.61" fill="#ee7a78"/><rect x="355.20" y="559.74" width="28.50" height="6.61" fill="#fef4f3"/><rect x="383.40" y="559.74" width="28.50" height="6.61" fill="#f5aeac"/><rect x="411.60" y="559.74" width="28.50" height="6.61" fill="#f8c6c4"/><rect x="439.80" y="559.74" width="28.50" height="6.61" fill="#ef807d"/><rect x="327.00" y="566.05" width="28.50" height="6.61" fill="#f1908e"/><rect x="355.20" y="566.05" width="28.50" height="6.61" fill="#f3a2a0"/><rect x="383.40" y="566.05" width="28.50" height="6.61" fill="#f3a2a0"/><rect x="411.60" y="566.05" width="28.50" height="6.61" fill="#f8c6c4"/><rect x="439.80" y="566.05" width="28.50" height="6.61" fill="#f3a2a0"/><rect x="327.00" y="572.36" width="28.50" height="6.61" fill="#f1908e"/><rect x="355.20" y="572.36" width="28.50" height="6.61" fill="#f29694"/><rect x="383.40" y="572.36" width="28.50" height="6.61" fill="#f3a2a0"/><rect x="411.60" y="572.36" width="28.50" height="6.61" fill="#f3a2a0"/><rect x="439.80" y="572.36" width="28.50" height="6.61" fill="#ef807d"/><rect x="327.00" y="578.68" width="28.50" height="6.61" fill="#f29c9a"/><rect x="355.20" y="578.68" width="28.50" height="6.61" fill="#f3a2a0"/><rect x="383.40" y="578.68" width="28.50" height="6.61" fill="#f5aeac"/><rect x="411.60" y="578.68" width="28.50" height="6.61" fill="#f08a88"/><rect x="439.80" y="578.68" width="28.50" height="6.61" fill="#f6bab8"/><rect x="327.00" y="584.99" width="28.50" height="6.61" fill="#f7c0be"/><rect x="355.20" y="584.99" width="28.50" height="6.61" fill="#f08a88"/><rect x="383.40" y="584.99" width="28.50" height="6.61" fill="#f5aeac"/><rect x="411.60" y="584.99" width="28.50" height="6.61" fill="#ef807d"/><rect x="439.80" y="584.99" width="28.50" height="6.61" fill="#ef807d"/><rect x="327.00" y="591.30" width="28.50" height="6.61" fill="#f7c0be"/><rect x="355.20" y="591.30" width="28.50" height="6.61" fill="#f08a88"/><rect x="383.40" y="591.30" width="28.50" height="6.61" fill="#f8c6c4"/><rect x="411.60" y="591.30" width="28.50" height="6.61" fill="#f08a88"/><rect x="439.80" y="591.30" width="28.50" height="6.61" fill="#f08a88"/><rect x="327.00" y="597.62" width="28.50" height="6.61" fill="#f6b4b2"/><rect x="355.20" y="597.62" width="28.50" height="6.61" fill="#ef807d"/><rect x="383.40" y="597.62" width="28.50" height="6.61" fill="#f6bab8"/><rect x="411.60" y="597.62" width="28.50" height="6.61" fill="#ef807d"/><rect x="439.80" y="597.62" width="28.50" height="6.61" fill="#f6bab8"/><rect x="327.00" y="603.93" width="28.50" height="6.61" fill="#f29c9a"/><rect x="355.20" y="603.93" width="28.50" height="6.61" fill="#f6bab8"/><rect x="383.40" y="603.93" width="28.50" height="6.61" fill="#fce8e7"/><rect x="411.60" y="603.93" width="28.50" height="6.61" fill="#ef807d"/><rect x="439.80" y="603.93" width="28.50" height="6.61" fill="#f6bab8"/><rect x="327.00" y="610.24" width="28.50" height="6.61" fill="#f1908e"/><rect x="355.20" y="610.24" width="28.50" height="6.61" fill="#f5aeac"/><rect x="383.40" y="610.24" width="28.50" height="6.61" fill="#f6bab8"/><rect x="411.60" y="610.24" width="28.50" height="6.61" fill="#ec6b68"/><rect x="439.80" y="610.24" width="28.50" height="6.61" fill="#f6bab8"/><rect x="327.00" y="616.56" width="28.50" height="6.61" fill="#f29c9a"/><rect x="355.20" y="616.56" width="28.50" height="6.61" fill="#f29694"/><rect x="383.40" y="616.56" width="28.50" height="6.61" fill="#fbdddc"/><rect x="411.60" y="616.56" width="28.50" height="6.61" fill="#ec6b68"/><rect x="439.80" y="616.56" width="28.50" height="6.61" fill="#f29694"/><rect x="327.00" y="622.87" width="28.50" height="6.61" fill="#f08a88"/><rect x="355.20" y="622.87" width="28.50" height="6.61" fill="#e84c48"/><rect x="383.40" y="622.87" width="28.50" height="6.61" fill="#f6bab8"/><rect x="411.60" y="622.87" width="28.50" height="6.61" fill="#ec6b68"/><rect x="439.80" y="622.87" width="28.50" height="6.61" fill="#ffffff"/><rect x="327.00" y="629.18" width="28.50" height="6.61" fill="#f8c6c4"/><rect x="355.20" y="629.18" width="28.50" height="6.61" fill="#f3a2a0"/><rect x="383.40" y="629.18" width="28.50" height="6.61" fill="#ffffff"/><rect x="411.60" y="629.18" width="28.50" height="6.61" fill="#ed7572"/><rect x="439.80" y="629.18" width="28.50" height="6.61" fill="#ea605d"/><rect x="327.00" y="635.49" width="28.50" height="6.61" fill="#ed7572"/><rect x="355.20" y="635.49" width="28.50" height="6.61" fill="#f6bab8"/><rect x="383.40" y="635.49" width="28.50" height="6.61" fill="#f9d1d0"/><rect x="411.60" y="635.49" width="28.50" height="6.61" fill="#e95652"/><rect x="439.80" y="635.49" width="28.50" height="6.61" fill="#e95652"/><rect x="327.00" y="641.81" width="28.50" height="6.61" fill="#ec6b68"/><rect x="355.20" y="641.81" width="28.50" height="6.61" fill="#f3a2a0"/><rect x="383.40" y="641.81" width="28.50" height="6.61" fill="#fef9f9"/><rect x="411.60" y="641.81" width="28.50" height="6.61" fill="#ed7572"/><rect x="439.80" y="641.81" width="28.50" height="6.61" fill="#e84c48"/><rect x="327.00" y="648.12" width="28.50" height="6.61" fill="#ed7572"/><rect x="355.20" y="648.12" width="28.50" height="6.61" fill="#f5aeac"/><rect x="383.40" y="648.12" width="28.50" height="6.61" fill="#fef9f9"/><rect x="411.60" y="648.12" width="28.50" height="6.61" fill="#f08a88"/><rect x="439.80" y="648.12" width="28.50" height="6.61" fill="#ed7572"/><rect x="327.00" y="654.43" width="28.50" height="6.61" fill="#e7423e"/><rect x="355.20" y="654.43" width="28.50" height="6.61" fill="#ffffff"/><rect x="383.40" y="654.43" width="28.50" height="6.61" fill="#fef9f9"/><rect x="411.60" y="654.43" width="28.50" height="6.61" fill="#e84c48"/><rect x="439.80" y="654.43" width="28.50" height="6.61" fill="#ed7572"/><rect x="327.00" y="660.75" width="28.50" height="6.61" fill="#e53834"/><rect x="355.20" y="660.75" width="28.50" height="6.61" fill="#e7423e"/><rect x="383.40" y="660.75" width="28.50" height="6.61" fill="#f6bab8"/><rect x="411.60" y="660.75" width="28.50" height="6.61" fill="#e53834"/><rect x="439.80" y="660.75" width="28.50" height="6.61" fill="#f3a2a0"/><rect x="327.00" y="667.06" width="28.50" height="6.61" fill="#e53834"/><rect x="355.20" y="667.06" width="28.50" height="6.61" fill="#e53834"/><rect x="383.40" y="667.06" width="28.50" height="6.61" fill="#f6bab8"/><rect x="411.60" y="667.06" width="28.50" height="6.61" fill="#e53834"/><rect x="439.80" y="667.06" width="28.50" height="6.61" fill="#e7423e"/><rect x="327.00" y="673.37" width="28.50" height="6.61" fill="#ea605d"/><rect x="355.20" y="673.37" width="28.50" height="6.61" fill="#ed7572"/><rect x="383.40" y="673.37" width="28.50" height="6.61" fill="#ed7572"/><rect x="411.60" y="673.37" width="28.50" height="6.61" fill="#e7423e"/><rect x="439.80" y="673.37" width="28.50" height="6.61" fill="#e84c48"/><rect x="327.00" y="679.68" width="28.50" height="6.61" fill="#ffffff"/><rect x="355.20" y="679.68" width="28.50" height="6.61" fill="#f8c6c4"/><rect x="383.40" y="679.68" width="28.50" height="6.61" fill="#727cbe"/><rect x="411.60" y="679.68" width="28.50" height="6.61" fill="#e42e2a"/><rect x="439.80" y="679.68" width="28.50" height="6.61" fill="#e42e2a"/><rect x="327.00" y="686.00" width="28.50" height="6.61" fill="#727cbe"/><rect x="355.20" y="686.00" width="28.50" height="6.61" fill="#f3f3fa"/><rect x="383.40" y="686.00" width="28.50" height="6.61" fill="#868dc8"/><rect x="411.60" y="686.00" width="28.50" height="6.61" fill="#5463ae"/><rect x="439.80" y="686.00" width="28.50" height="6.61" fill="#5463ae"/><rect x="327.00" y="692.31" width="28.50" height="6.61" fill="#9298ce"/><rect x="355.20" y="692.31" width="28.50" height="6.61" fill="#f3f3fa"/><rect x="383.40" y="692.31" width="28.50" height="6.61" fill="#7c85c3"/><rect x="411.60" y="692.31" width="28.50" height="6.61" fill="#9ea3d3"/><rect x="439.80" y="692.31" width="28.50" height="6.61" fill="#3c4ea1"/><rect x="327.00" y="698.62" width="28.50" height="6.61" fill="#9ea3d3"/><rect x="355.20" y="698.62" width="28.50" height="6.61" fill="#e7e8f4"/><rect x="383.40" y="698.62" width="28.50" height="6.61" fill="#34479c"/><rect x="411.60" y="698.62" width="28.50" height="6.61" fill="#9ea3d3"/><rect x="439.80" y="698.62" width="28.50" height="6.61" fill="#9ea3d3"/><rect x="327.00" y="704.94" width="28.50" height="6.61" fill="#9298ce"/><rect x="355.20" y="704.94" width="28.50" height="6.61" fill="#9298ce"/><rect x="383.40" y="704.94" width="28.50" height="6.61" fill="#5e6bb3"/><rect x="411.60" y="704.94" width="28.50" height="6.61" fill="#e7e8f4"/><rect x="439.80" y="704.94" width="28.50" height="6.61" fill="#dadcef"/><rect x="327.00" y="711.25" width="28.50" height="6.61" fill="#727cbe"/><rect x="355.20" y="711.25" width="28.50" height="6.61" fill="#b6bade"/><rect x="383.40" y="711.25" width="28.50" height="6.61" fill="#4c5caa"/><rect x="411.60" y="711.25" width="28.50" height="6.61" fill="#ced1e9"/><rect x="439.80" y="711.25" width="28.50" height="6.61" fill="#ced1e9"/><rect x="327.00" y="717.56" width="28.50" height="6.61" fill="#5463ae"/><rect x="355.20" y="717.56" width="28.50" height="6.61" fill="#f3f3fa"/><rect x="383.40" y="717.56" width="28.50" height="6.61" fill="#4455a5"/><rect x="411.60" y="717.56" width="28.50" height="6.61" fill="#c2c5e4"/><rect x="439.80" y="717.56" width="28.50" height="6.61" fill="#e7e8f4"/><rect x="327.00" y="723.88" width="28.50" height="6.61" fill="#5463ae"/><rect x="355.20" y="723.88" width="28.50" height="6.61" fill="#9ea3d3"/><rect x="383.40" y="723.88" width="28.50" height="6.61" fill="#5463ae"/><rect x="411.60" y="723.88" width="28.50" height="6.61" fill="#dadcef"/><rect x="439.80" y="723.88" width="28.50" height="6.61" fill="#868dc8"/><rect x="327.00" y="730.19" width="28.50" height="6.61" fill="#5463ae"/><rect x="355.20" y="730.19" width="28.50" height="6.61" fill="#9ea3d3"/><rect x="383.40" y="730.19" width="28.50" height="6.61" fill="#868dc8"/><rect x="411.60" y="730.19" width="28.50" height="6.61" fill="#aaafd9"/><rect x="439.80" y="730.19" width="28.50" height="6.61" fill="#868dc8"/><rect x="327.00" y="736.50" width="28.50" height="6.61" fill="#5e6bb3"/><rect x="355.20" y="736.50" width="28.50" height="6.61" fill="#9298ce"/><rect x="383.40" y="736.50" width="28.50" height="6.61" fill="#868dc8"/><rect x="411.60" y="736.50" width="28.50" height="6.61" fill="#9ea3d3"/><rect x="439.80" y="736.50" width="28.50" height="6.61" fill="#868dc8"/><rect x="327.00" y="742.82" width="28.50" height="6.61" fill="#6874b8"/><rect x="355.20" y="742.82" width="28.50" height="6.61" fill="#ced1e9"/><rect x="383.40" y="742.82" width="28.50" height="6.61" fill="#5463ae"/><rect x="411.60" y="742.82" width="28.50" height="6.61" fill="#9298ce"/><rect x="439.80" y="742.82" width="28.50" height="6.61" fill="#ced1e9"/><rect x="327.00" y="749.13" width="28.50" height="6.61" fill="#ffffff"/><rect x="355.20" y="749.13" width="28.50" height="6.61" fill="#7c85c3"/><rect x="383.40" y="749.13" width="28.50" height="6.61" fill="#4c5caa"/><rect x="411.60" y="749.13" width="28.50" height="6.61" fill="#fdeeed"/><rect x="439.80" y="749.13" width="28.50" height="6.61" fill="#7c85c3"/><rect x="327.00" y="755.44" width="28.50" height="6.61" fill="#b6bade"/><rect x="355.20" y="755.44" width="28.50" height="6.61" fill="#868dc8"/><rect x="383.40" y="755.44" width="28.50" height="6.61" fill="#c2c5e4"/><rect x="411.60" y="755.44" width="28.50" height="6.61" fill="#868dc8"/><rect x="439.80" y="755.44" width="28.50" height="6.61" fill="#7c85c3"/><rect x="327.00" y="761.75" width="28.50" height="6.61" fill="#9ea3d3"/><rect x="355.20" y="761.75" width="28.50" height="6.61" fill="#868dc8"/><rect x="383.40" y="761.75" width="28.50" height="6.61" fill="#c2c5e4"/><rect x="411.60" y="761.75" width="28.50" height="6.61" fill="#868dc8"/><rect x="439.80" y="761.75" width="28.50" height="6.61" fill="#9298ce"/><rect x="327.00" y="768.07" width="28.50" height="6.61" fill="#dadcef"/><rect x="355.20" y="768.07" width="28.50" height="6.61" fill="#7c85c3"/><rect x="383.40" y="768.07" width="28.50" height="6.61" fill="#b6bade"/><rect x="411.60" y="768.07" width="28.50" height="6.61" fill="#b6bade"/><rect x="439.80" y="768.07" width="28.50" height="6.61" fill="#9ea3d3"/><rect x="327.00" y="774.38" width="28.50" height="6.61" fill="#ced1e9"/><rect x="355.20" y="774.38" width="28.50" height="6.61" fill="#9ea3d3"/><rect x="383.40" y="774.38" width="28.50" height="6.61" fill="#6874b8"/><rect x="411.60" y="774.38" width="28.50" height="6.61" fill="#dadcef"/><rect x="439.80" y="774.38" width="28.50" height="6.61" fill="#aaafd9"/><rect x="327.00" y="780.69" width="28.50" height="6.61" fill="#9ea3d3"/><rect x="355.20" y="780.69" width="28.50" height="6.61" fill="#9ea3d3"/><rect x="383.40" y="780.69" width="28.50" height="6.61" fill="#b6bade"/><rect x="411.60" y="780.69" width="28.50" height="6.61" fill="#dadcef"/><rect x="439.80" y="780.69" width="28.50" height="6.61" fill="#5463ae"/><rect x="327.00" y="787.01" width="28.50" height="6.61" fill="#9ea3d3"/><rect x="355.20" y="787.01" width="28.50" height="6.61" fill="#9ea3d3"/><rect x="383.40" y="787.01" width="28.50" height="6.61" fill="#727cbe"/><rect x="411.60" y="787.01" width="28.50" height="6.61" fill="#dadcef"/><rect x="439.80" y="787.01" width="28.50" height="6.61" fill="#5463ae"/><rect x="327.00" y="793.32" width="28.50" height="6.61" fill="#9ea3d3"/><rect x="355.20" y="793.32" width="28.50" height="6.61" fill="#9ea3d3"/><rect x="383.40" y="793.32" width="28.50" height="6.61" fill="#aaafd9"/><rect x="411.60" y="793.32" width="28.50" height="6.61" fill="#b6bade"/><rect x="439.80" y="793.32" width="28.50" height="6.61" fill="#6874b8"/><rect x="327.00" y="799.63" width="28.50" height="6.61" fill="#9ea3d3"/><rect x="355.20" y="799.63" width="28.50" height="6.61" fill="#aaafd9"/><rect x="383.40" y="799.63" width="28.50" height="6.61" fill="#aaafd9"/><rect x="411.60" y="799.63" width="28.50" height="6.61" fill="#b6bade"/><rect x="439.80" y="799.63" width="28.50" height="6.61" fill="#4c5caa"/><rect x="327.00" y="805.94" width="28.50" height="6.61" fill="#727cbe"/><rect x="355.20" y="805.94" width="28.50" height="6.61" fill="#c2c5e4"/><rect x="383.40" y="805.94" width="28.50" height="6.61" fill="#b6bade"/><rect x="411.60" y="805.94" width="28.50" height="6.61" fill="#868dc8"/><rect x="439.80" y="805.94" width="28.50" height="6.61" fill="#4c5caa"/><rect x="327.00" y="812.26" width="28.50" height="6.61" fill="#aaafd9"/><rect x="355.20" y="812.26" width="28.50" height="6.61" fill="#ced1e9"/><rect x="383.40" y="812.26" width="28.50" height="6.61" fill="#ced1e9"/><rect x="411.60" y="812.26" width="28.50" height="6.61" fill="#9ea3d3"/><rect x="439.80" y="812.26" width="28.50" height="6.61" fill="#4c5caa"/><rect x="327.00" y="818.57" width="28.50" height="6.61" fill="#9ea3d3"/><rect x="355.20" y="818.57" width="28.50" height="6.61" fill="#f9f9fc"/><rect x="383.40" y="818.57" width="28.50" height="6.61" fill="#f3f3fa"/><rect x="411.60" y="818.57" width="28.50" height="6.61" fill="#9ea3d3"/><rect x="439.80" y="818.57" width="28.50" height="6.61" fill="#4c5caa"/><rect x="327.00" y="824.88" width="28.50" height="6.61" fill="#7c85c3"/><rect x="355.20" y="824.88" width="28.50" height="6.61" fill="#aaafd9"/><rect x="383.40" y="824.88" width="28.50" height="6.61" fill="#ffffff"/><rect x="411.60" y="824.88" width="28.50" height="6.61" fill="#9ea3d3"/><rect x="439.80" y="824.88" width="28.50" height="6.61" fill="#9ea3d3"/><rect x="327.00" y="831.20" width="28.50" height="6.61" fill="#727cbe"/><rect x="355.20" y="831.20" width="28.50" height="6.61" fill="#868dc8"/><rect x="383.40" y="831.20" width="28.50" height="6.61" fill="#4455a5"/><rect x="411.60" y="831.20" width="28.50" height="6.61" fill="#9298ce"/><rect x="439.80" y="831.20" width="28.50" height="6.61" fill="#9298ce"/><rect x="327.00" y="837.51" width="28.50" height="6.61" fill="#5463ae"/><rect x="355.20" y="837.51" width="28.50" height="6.61" fill="#6874b8"/><rect x="383.40" y="837.51" width="28.50" height="6.61" fill="#aaafd9"/><rect x="411.60" y="837.51" width="28.50" height="6.61" fill="#727cbe"/><rect x="439.80" y="837.51" width="28.50" height="6.61" fill="#727cbe"/><rect x="327.00" y="843.82" width="28.50" height="6.61" fill="#e32420"/><rect x="355.20" y="843.82" width="28.50" height="6.61" fill="#e42925"/><rect x="383.40" y="843.82" width="28.50" height="6.61" fill="#e32420"/><rect x="411.60" y="843.82" width="28.50" height="6.61" fill="#e42925"/><rect x="439.80" y="843.82" width="28.50" height="6.61" fill="#e32420"/><rect x="327.00" y="850.14" width="28.50" height="6.61" fill="#e32420"/><rect x="355.20" y="850.14" width="28.50" height="6.61" fill="#e32420"/><rect x="383.40" y="850.14" width="28.50" height="6.61" fill="#e42925"/><rect x="411.60" y="850.14" width="28.50" height="6.61" fill="#e32420"/><rect x="439.80" y="850.14" width="28.50" height="6.61" fill="#e32420"/><rect x="327.00" y="856.45" width="28.50" height="6.61" fill="#e32420"/><rect x="355.20" y="856.45" width="28.50" height="6.61" fill="#e42925"/><rect x="383.40" y="856.45" width="28.50" height="6.61" fill="#e32420"/><rect x="411.60" y="856.45" width="28.50" height="6.61" fill="#e42925"/><rect x="439.80" y="856.45" width="28.50" height="6.61" fill="#e32420"/><rect x="327.00" y="862.76" width="28.50" height="6.61" fill="#e32420"/><rect x="355.20" y="862.76" width="28.50" height="6.61" fill="#e32420"/><rect x="383.40" y="862.76" width="28.50" height="6.61" fill="#e32420"/><rect x="411.60" y="862.76" width="28.50" height="6.61" fill="#e42e2a"/><rect x="439.80" y="862.76" width="28.50" height="6.61" fill="#e32420"/><rect x="327.00" y="869.08" width="28.50" height="6.61" fill="#e42925"/><rect x="355.20" y="869.08" width="28.50" height="6.61" fill="#e32420"/><rect x="383.40" y="869.08" width="28.50" height="6.61" fill="#e32420"/><rect x="411.60" y="869.08" width="28.50" height="6.61" fill="#ed7572"/><rect x="439.80" y="869.08" width="28.50" height="6.61" fill="#e32420"/><rect x="327.00" y="875.39" width="28.50" height="6.61" fill="#e32420"/><rect x="355.20" y="875.39" width="28.50" height="6.61" fill="#e42e2a"/><rect x="383.40" y="875.39" width="28.50" height="6.61" fill="#e32420"/><rect x="411.60" y="875.39" width="28.50" height="6.61" fill="#e84c48"/><rect x="439.80" y="875.39" width="28.50" height="6.61" fill="#e32420"/><rect x="327.00" y="881.70" width="28.50" height="6.61" fill="#e32420"/><rect x="355.20" y="881.70" width="28.50" height="6.61" fill="#e32420"/><rect x="383.40" y="881.70" width="28.50" height="6.61" fill="#e42925"/><rect x="411.60" y="881.70" width="28.50" height="6.61" fill="#e32420"/><rect x="439.80" y="881.70" width="28.50" height="6.61" fill="#e32420"/></g>
<g font-size="5.85" fill="#1e1e1e" stroke="#1e1e1e" stroke-width="0.16"><text x="470.4" y="400.76">RPS27L</text><text x="470.4" y="407.07">FANCG</text><text x="470.4" y="413.38">RFC2</text><text x="470.4" y="419.70">SLBP</text><text x="470.4" y="426.01">DHCR24</text><text x="470.4" y="432.32">EIF4EBP1</text><text x="470.4" y="438.63">ID3</text><text x="470.4" y="444.95">MAD2L2</text><text x="470.4" y="451.26">PIN1</text><text x="470.4" y="457.57">TRIAP1</text><text x="470.4" y="463.89">MIF</text><text x="470.4" y="470.20">STRADB</text><text x="470.4" y="476.51">PSMD8</text><text x="470.4" y="482.83">PSMB2</text><text x="470.4" y="489.14">MAD2L1BP</text><text x="470.4" y="495.45">SKP2</text><text x="470.4" y="501.76">PSMD9</text><text x="470.4" y="508.08">PSMB7</text><text x="470.4" y="514.39">PPP1R15A</text><text x="470.4" y="520.70">PTPN6</text><text x="470.4" y="527.02">MCM6</text><text x="470.4" y="533.33">RCC1</text><text x="470.4" y="539.64">PSMB9</text><text x="470.4" y="545.96">CDC26</text><text x="470.4" y="552.27">CDKN2D</text><text x="470.4" y="558.58">KIF20B</text><text x="470.4" y="564.89">PSMA5</text><text x="470.4" y="571.21">MCM5</text><text x="470.4" y="577.52">PSMA2</text><text x="470.4" y="583.83">CDK2</text><text x="470.4" y="590.15">CCNC</text><text x="470.4" y="596.46">PSMG2</text><text x="470.4" y="602.77">MASTL</text><text x="470.4" y="609.09">SESN1</text><text x="470.4" y="615.40">BARD1</text><text x="470.4" y="621.71">BRCA1</text><text x="470.4" y="628.02">TIMELESS</text><text x="470.4" y="634.34">NAE1</text><text x="470.4" y="640.65">FBXO6</text><text x="470.4" y="646.96">CDKN2C</text><text x="470.4" y="653.28">BCL2L11</text><text x="470.4" y="659.59">WEE1</text><text x="470.4" y="665.90">CCNF</text><text x="470.4" y="672.22">H2AFX</text><text x="470.4" y="678.53">RHEB</text><text x="470.4" y="684.84">MX2</text><text x="470.4" y="691.15">DUSP3</text><text x="470.4" y="697.47">DICER1</text><text x="470.4" y="703.78">MEN1</text><text x="470.4" y="710.09">BCR</text><text x="470.4" y="716.41">ERN1</text><text x="470.4" y="722.72">APC</text><text x="470.4" y="729.03">TAOK1</text><text x="470.4" y="735.35">ATM</text><text x="470.4" y="741.66">MACF1</text><text x="470.4" y="747.97">HIPK2</text><text x="470.4" y="754.28">CDKN1B</text><text x="470.4" y="760.60">TGFB1</text><text x="470.4" y="766.91">TRRAP</text><text x="470.4" y="773.22">MAD1L1</text><text x="470.4" y="779.54">LEMD3</text><text x="470.4" y="785.85">FBXO31</text><text x="470.4" y="792.16">NOTCH2</text><text x="470.4" y="798.48">XPC</text><text x="470.4" y="804.79">PRNP</text><text x="470.4" y="811.10">SIRT1</text><text x="470.4" y="817.41">CCNL2</text><text x="470.4" y="823.73">CALR</text><text x="470.4" y="830.04">JUN</text><text x="470.4" y="836.35">CITED2</text><text x="470.4" y="842.67">PTCH1</text><text x="470.4" y="848.98">BIRC5</text><text x="470.4" y="855.29">TOP2A</text><text x="470.4" y="861.61">CKS2</text><text x="470.4" y="867.92">NUSAP1</text><text x="470.4" y="874.23">MAD2L1</text><text x="470.4" y="880.54">CKS1B</text><text x="470.4" y="886.86">RACGAP1</text></g>
<rect x="305.40" y="395.60" width="15.00" height="6.31" fill="#000"/>
<rect x="305.40" y="452.42" width="15.00" height="6.31" fill="#000"/>
<rect x="305.40" y="490.30" width="15.00" height="6.31" fill="#000"/>
<rect x="305.40" y="540.80" width="15.00" height="18.94" fill="#000"/>
<rect x="305.40" y="572.36" width="15.00" height="6.31" fill="#000"/>
<rect x="305.40" y="584.99" width="15.00" height="6.31" fill="#000"/>
<rect x="305.40" y="603.93" width="15.00" height="6.31" fill="#000"/>
<rect x="305.40" y="616.56" width="15.00" height="6.31" fill="#000"/>
<rect x="305.40" y="629.18" width="15.00" height="6.31" fill="#000"/>
<rect x="305.40" y="673.37" width="15.00" height="6.31" fill="#000"/>
<rect x="305.40" y="698.62" width="15.00" height="12.63" fill="#000"/>
<rect x="305.40" y="812.26" width="15.00" height="6.31" fill="#000"/>
<rect x="305.40" y="831.20" width="15.00" height="6.31" fill="#000"/>
<rect x="305.40" y="856.45" width="15.00" height="6.31" fill="#000"/>
<rect x="305.40" y="869.08" width="15.00" height="12.63" fill="#000"/>
<path d="M302.5,405.5L302.5,411.5M302.5,405.5L304.5,405.5M302.5,411.5L304.5,411.5M300.5,398.5L300.5,408.5M300.5,398.5L304.5,398.5M300.5,408.5L302.5,408.5M302.5,417.5L302.5,424.5M302.5,417.5L304.5,417.5M302.5,424.5L304.5,424.5M301.5,420.5L301.5,430.5M301.5,420.5L302.5,420.5M301.5,430.5L304.5,430.5M299.5,403.5L299.5,425.5M299.5,403.5L300.5,403.5M299.5,425.5L301.5,425.5M302.5,442.5L302.5,449.5M302.5,442.5L304.5,442.5M302.5,449.5L304.5,449.5M301.5,446.5L301.5,455.5M301.5,446.5L302.5,446.5M301.5,455.5L304.5,455.5M300.5,436.5L300.5,450.5M300.5,436.5L304.5,436.5M300.5,450.5L301.5,450.5M297.5,414.5L297.5,443.5M297.5,414.5L299.5,414.5M297.5,443.5L300.5,443.5M302.5,461.5L302.5,468.5M302.5,461.5L304.5,461.5M302.5,468.5L304.5,468.5M301.5,465.5L301.5,474.5M301.5,465.5L302.5,465.5M301.5,474.5L304.5,474.5M302.5,487.5L302.5,493.5M302.5,487.5L304.5,487.5M302.5,493.5L304.5,493.5M301.5,480.5L301.5,490.5M301.5,480.5L304.5,480.5M301.5,490.5L302.5,490.5M299.5,469.5L299.5,485.5M299.5,469.5L301.5,469.5M299.5,485.5L301.5,485.5M301.5,499.5L301.5,506.5M301.5,499.5L304.5,499.5M301.5,506.5L304.5,506.5M302.5,518.5L302.5,525.5M302.5,518.5L304.5,518.5M302.5,525.5L304.5,525.5M301.5,512.5L301.5,521.5M301.5,512.5L304.5,512.5M301.5,521.5L302.5,521.5M300.5,502.5L300.5,517.5M300.5,502.5L301.5,502.5M300.5,517.5L301.5,517.5M302.5,531.5L302.5,537.5M302.5,531.5L304.5,531.5M302.5,537.5L304.5,537.5M302.5,543.5L302.5,550.5M302.5,543.5L304.5,543.5M302.5,550.5L304.5,550.5M301.5,547.5L301.5,556.5M301.5,547.5L302.5,547.5M301.5,556.5L304.5,556.5M300.5,534.5L300.5,551.5M300.5,534.5L302.5,534.5M300.5,551.5L301.5,551.5M299.5,510.5L299.5,543.5M299.5,510.5L300.5,510.5M299.5,543.5L300.5,543.5M299.5,477.5L299.5,526.5M299.5,477.5L299.5,477.5M299.5,526.5L299.5,526.5M302.5,569.5L302.5,575.5M302.5,569.5L304.5,569.5M302.5,575.5L304.5,575.5M301.5,562.5L301.5,572.5M301.5,562.5L304.5,562.5M301.5,572.5L302.5,572.5M302.5,588.5L302.5,594.5M302.5,588.5L304.5,588.5M302.5,594.5L304.5,594.5M301.5,581.5L301.5,591.5M301.5,581.5L304.5,581.5M301.5,591.5L302.5,591.5M302.5,600.5L302.5,607.5M302.5,600.5L304.5,600.5M302.5,607.5L304.5,607.5M301.5,603.5L301.5,613.5M301.5,603.5L302.5,603.5M301.5,613.5L304.5,613.5M300.5,586.5L300.5,608.5M300.5,586.5L301.5,586.5M300.5,608.5L301.5,608.5M299.5,567.5L299.5,597.5M299.5,567.5L301.5,567.5M299.5,597.5L300.5,597.5M302.5,619.5L302.5,626.5M302.5,619.5L304.5,619.5M302.5,626.5L304.5,626.5M302.5,632.5L302.5,638.5M302.5,632.5L304.5,632.5M302.5,638.5L304.5,638.5M302.5,644.5L302.5,651.5M302.5,644.5L304.5,644.5M302.5,651.5L304.5,651.5M301.5,648.5L301.5,657.5M301.5,648.5L302.5,648.5M301.5,657.5L304.5,657.5M300.5,635.5L300.5,652.5M300.5,635.5L302.5,635.5M300.5,652.5L301.5,652.5M299.5,622.5L299.5,644.5M299.5,622.5L302.5,622.5M299.5,644.5L300.5,644.5M299.5,582.5L299.5,633.5M299.5,582.5L299.5,582.5M299.5,633.5L299.5,633.5M298.5,502.5L298.5,608.5M298.5,502.5L299.5,502.5M298.5,608.5L299.5,608.5M294.5,425.5L294.5,595.5M294.5,425.5L297.5,425.5M294.5,595.5L298.5,595.5M302.5,663.5L302.5,670.5M302.5,663.5L304.5,663.5M302.5,670.5L304.5,670.5M302.5,676.5L302.5,682.5M302.5,676.5L304.5,676.5M302.5,682.5L304.5,682.5M296.5,667.5L296.5,679.5M296.5,667.5L302.5,667.5M296.5,679.5L302.5,679.5M290.5,515.5L290.5,676.5M290.5,515.5L294.5,515.5M290.5,676.5L296.5,676.5M302.5,689.5L302.5,695.5M302.5,689.5L304.5,689.5M302.5,695.5L304.5,695.5M301.5,692.5L301.5,701.5M301.5,692.5L302.5,692.5M301.5,701.5L304.5,701.5M302.5,708.5L302.5,714.5M302.5,708.5L304.5,708.5M302.5,714.5L304.5,714.5M301.5,711.5L301.5,720.5M301.5,711.5L302.5,711.5M301.5,720.5L304.5,720.5M302.5,727.5L302.5,733.5M302.5,727.5L304.5,727.5M302.5,733.5L304.5,733.5M300.5,715.5L300.5,730.5M300.5,715.5L301.5,715.5M300.5,730.5L302.5,730.5M299.5,697.5L299.5,723.5M299.5,697.5L301.5,697.5M299.5,723.5L300.5,723.5M302.5,752.5L302.5,758.5M302.5,752.5L304.5,752.5M302.5,758.5L304.5,758.5M301.5,745.5L301.5,755.5M301.5,745.5L304.5,745.5M301.5,755.5L302.5,755.5M300.5,739.5L300.5,750.5M300.5,739.5L304.5,739.5M300.5,750.5L301.5,750.5M298.5,710.5L298.5,745.5M298.5,710.5L299.5,710.5M298.5,745.5L300.5,745.5M302.5,771.5L302.5,777.5M302.5,771.5L304.5,771.5M302.5,777.5L304.5,777.5M300.5,764.5L300.5,774.5M300.5,764.5L304.5,764.5M300.5,774.5L302.5,774.5M302.5,783.5L302.5,790.5M302.5,783.5L304.5,783.5M302.5,790.5L304.5,790.5M300.5,769.5L300.5,787.5M300.5,769.5L300.5,769.5M300.5,787.5L302.5,787.5M302.5,796.5L302.5,802.5M302.5,796.5L304.5,796.5M302.5,802.5L304.5,802.5M301.5,799.5L301.5,809.5M301.5,799.5L302.5,799.5M301.5,809.5L304.5,809.5M299.5,778.5L299.5,804.5M299.5,778.5L300.5,778.5M299.5,804.5L301.5,804.5M302.5,828.5L302.5,834.5M302.5,828.5L304.5,828.5M302.5,834.5L304.5,834.5M301.5,831.5L301.5,840.5M301.5,831.5L302.5,831.5M301.5,840.5L304.5,840.5M300.5,821.5L300.5,835.5M300.5,821.5L304.5,821.5M300.5,835.5L301.5,835.5M299.5,815.5L299.5,828.5M299.5,815.5L304.5,815.5M299.5,828.5L300.5,828.5M298.5,791.5L298.5,822.5M298.5,791.5L299.5,791.5M298.5,822.5L299.5,822.5M297.5,727.5L297.5,806.5M297.5,727.5L298.5,727.5M297.5,806.5L298.5,806.5M286.5,595.5L286.5,776.5M286.5,595.5L290.5,595.5M286.5,776.5L297.5,776.5M302.5,846.5L302.5,853.5M302.5,846.5L304.5,846.5M302.5,853.5L304.5,853.5M302.5,865.5L302.5,872.5M302.5,865.5L304.5,865.5M302.5,872.5L304.5,872.5M301.5,859.5L301.5,869.5M301.5,859.5L304.5,859.5M301.5,869.5L302.5,869.5M302.5,878.5L302.5,884.5M302.5,878.5L304.5,878.5M302.5,884.5L304.5,884.5M299.5,864.5L299.5,881.5M299.5,864.5L301.5,864.5M299.5,881.5L302.5,881.5M295.5,850.5L295.5,873.5M295.5,850.5L302.5,850.5M295.5,873.5L299.5,873.5M275.5,685.5L275.5,861.5M275.5,685.5L286.5,685.5M275.5,861.5L295.5,861.5" stroke="#000" stroke-width="1.0" fill="none" stroke-linecap="square"/>
<text x="94.20" y="976.40" font-size="9.4" stroke="#222" stroke-width="0.263" text-anchor="middle" fill="#222">1</text>
<text x="126.20" y="976.40" font-size="9.4" stroke="#222" stroke-width="0.263" text-anchor="middle" fill="#222">2</text>
<text x="158.20" y="976.40" font-size="9.4" stroke="#222" stroke-width="0.263" text-anchor="middle" fill="#222">3</text>
<text x="190.20" y="976.40" font-size="9.4" stroke="#222" stroke-width="0.263" text-anchor="middle" fill="#222">4</text>
<text x="222.20" y="976.40" font-size="9.4" stroke="#222" stroke-width="0.263" text-anchor="middle" fill="#222">5</text>
<line x1="83.80" y1="982.70" x2="234.40" y2="982.70" stroke="#111" stroke-width="1.2"/>
<text x="157.20" y="1000.70" font-size="10.2" stroke="#222" stroke-width="0.286" text-anchor="middle" fill="#222">Donor</text>
<text x="343.90" y="902.80" font-size="9.4" stroke="#222" stroke-width="0.263" text-anchor="middle" fill="#222">1</text>
<text x="372.10" y="902.80" font-size="9.4" stroke="#222" stroke-width="0.263" text-anchor="middle" fill="#222">2</text>
<text x="400.30" y="902.80" font-size="9.4" stroke="#222" stroke-width="0.263" text-anchor="middle" fill="#222">3</text>
<text x="428.50" y="902.80" font-size="9.4" stroke="#222" stroke-width="0.263" text-anchor="middle" fill="#222">4</text>
<text x="456.70" y="902.80" font-size="9.4" stroke="#222" stroke-width="0.263" text-anchor="middle" fill="#222">5</text>
<line x1="333.00" y1="908.40" x2="467.60" y2="908.40" stroke="#111" stroke-width="1.2"/>
<text x="400.80" y="924.00" font-size="10.2" stroke="#222" stroke-width="0.286" text-anchor="middle" fill="#222">Donor</text>
<rect x="364.2" y="942.2" width="84.4" height="9.0" fill="url(#cbar)" stroke="#111" stroke-width="0.9"/>
<line x1="364.40" y1="951.20" x2="364.40" y2="955.40" stroke="#111" stroke-width="0.9"/>
<text x="364.40" y="970.30" font-size="8.6" stroke="#222" stroke-width="0.241" text-anchor="middle" fill="#222">−2</text>
<line x1="385.45" y1="951.20" x2="385.45" y2="955.40" stroke="#111" stroke-width="0.9"/>
<text x="385.45" y="970.30" font-size="8.6" stroke="#222" stroke-width="0.241" text-anchor="middle" fill="#222">−1</text>
<line x1="406.50" y1="951.20" x2="406.50" y2="955.40" stroke="#111" stroke-width="0.9"/>
<text x="406.50" y="970.30" font-size="8.6" stroke="#222" stroke-width="0.241" text-anchor="middle" fill="#222">0</text>
<line x1="427.55" y1="951.20" x2="427.55" y2="955.40" stroke="#111" stroke-width="0.9"/>
<text x="427.55" y="970.30" font-size="8.6" stroke="#222" stroke-width="0.241" text-anchor="middle" fill="#222">1</text>
<line x1="448.60" y1="951.20" x2="448.60" y2="955.40" stroke="#111" stroke-width="0.9"/>
<text x="448.60" y="970.30" font-size="8.6" stroke="#222" stroke-width="0.241" text-anchor="middle" fill="#222">2</text>
<text x="408.20" y="983.00" font-size="10.5" stroke="#222" stroke-width="0.294" text-anchor="middle" fill="#222" textLength="61.4" lengthAdjust="spacingAndGlyphs" xml:space="preserve">IL-15  vs IL-2</text>
<text x="419.80" y="998.10" font-size="8.7" stroke="#222" stroke-width="0.244" text-anchor="middle" fill="#222" textLength="176" lengthAdjust="spacingAndGlyphs">polysome-associated RNA log2 fold change</text>
<rect x="0.5" y="0.5" width="519" height="1009" fill="none" stroke="#5e5e5e" stroke-width="1"/>
</svg></body></html>
